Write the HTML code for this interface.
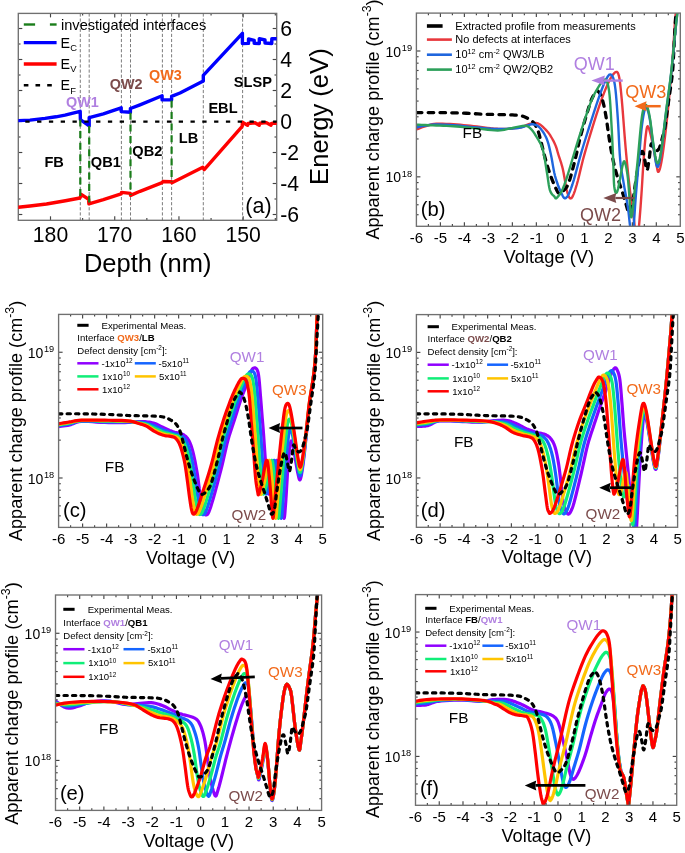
<!DOCTYPE html>
<html><head><meta charset="utf-8"><style>
html,body{margin:0;padding:0;background:#fff;}
svg{display:block;font-family:"Liberation Sans",sans-serif;will-change:transform;filter:blur(0.35px);}
</style></head><body>
<svg width="685" height="853" viewBox="0 0 685 853">
<rect width="685" height="853" fill="#fff"/>
<line x1="275.31" y1="220.30" x2="275.31" y2="218.10" stroke="#444" stroke-width="1.15" />
<line x1="275.31" y1="13.40" x2="275.31" y2="15.60" stroke="#444" stroke-width="1.15" />
<line x1="243.19" y1="220.30" x2="243.19" y2="216.30" stroke="#444" stroke-width="1.15" />
<line x1="243.19" y1="13.40" x2="243.19" y2="17.40" stroke="#444" stroke-width="1.15" />
<line x1="211.07" y1="220.30" x2="211.07" y2="218.10" stroke="#444" stroke-width="1.15" />
<line x1="211.07" y1="13.40" x2="211.07" y2="15.60" stroke="#444" stroke-width="1.15" />
<line x1="178.96" y1="220.30" x2="178.96" y2="216.30" stroke="#444" stroke-width="1.15" />
<line x1="178.96" y1="13.40" x2="178.96" y2="17.40" stroke="#444" stroke-width="1.15" />
<line x1="146.84" y1="220.30" x2="146.84" y2="218.10" stroke="#444" stroke-width="1.15" />
<line x1="146.84" y1="13.40" x2="146.84" y2="15.60" stroke="#444" stroke-width="1.15" />
<line x1="114.73" y1="220.30" x2="114.73" y2="216.30" stroke="#444" stroke-width="1.15" />
<line x1="114.73" y1="13.40" x2="114.73" y2="17.40" stroke="#444" stroke-width="1.15" />
<line x1="82.62" y1="220.30" x2="82.62" y2="218.10" stroke="#444" stroke-width="1.15" />
<line x1="82.62" y1="13.40" x2="82.62" y2="15.60" stroke="#444" stroke-width="1.15" />
<line x1="50.50" y1="220.30" x2="50.50" y2="216.30" stroke="#444" stroke-width="1.15" />
<line x1="50.50" y1="13.40" x2="50.50" y2="17.40" stroke="#444" stroke-width="1.15" />
<line x1="18.30" y1="214.50" x2="22.30" y2="214.50" stroke="#444" stroke-width="1.15" />
<line x1="276.70" y1="214.50" x2="272.70" y2="214.50" stroke="#444" stroke-width="1.15" />
<line x1="18.30" y1="199.00" x2="20.50" y2="199.00" stroke="#444" stroke-width="1.15" />
<line x1="276.70" y1="199.00" x2="274.50" y2="199.00" stroke="#444" stroke-width="1.15" />
<line x1="18.30" y1="183.50" x2="22.30" y2="183.50" stroke="#444" stroke-width="1.15" />
<line x1="276.70" y1="183.50" x2="272.70" y2="183.50" stroke="#444" stroke-width="1.15" />
<line x1="18.30" y1="168.00" x2="20.50" y2="168.00" stroke="#444" stroke-width="1.15" />
<line x1="276.70" y1="168.00" x2="274.50" y2="168.00" stroke="#444" stroke-width="1.15" />
<line x1="18.30" y1="152.50" x2="22.30" y2="152.50" stroke="#444" stroke-width="1.15" />
<line x1="276.70" y1="152.50" x2="272.70" y2="152.50" stroke="#444" stroke-width="1.15" />
<line x1="18.30" y1="137.00" x2="20.50" y2="137.00" stroke="#444" stroke-width="1.15" />
<line x1="276.70" y1="137.00" x2="274.50" y2="137.00" stroke="#444" stroke-width="1.15" />
<line x1="18.30" y1="121.50" x2="22.30" y2="121.50" stroke="#444" stroke-width="1.15" />
<line x1="276.70" y1="121.50" x2="272.70" y2="121.50" stroke="#444" stroke-width="1.15" />
<line x1="18.30" y1="106.00" x2="20.50" y2="106.00" stroke="#444" stroke-width="1.15" />
<line x1="276.70" y1="106.00" x2="274.50" y2="106.00" stroke="#444" stroke-width="1.15" />
<line x1="18.30" y1="90.50" x2="22.30" y2="90.50" stroke="#444" stroke-width="1.15" />
<line x1="276.70" y1="90.50" x2="272.70" y2="90.50" stroke="#444" stroke-width="1.15" />
<line x1="18.30" y1="75.00" x2="20.50" y2="75.00" stroke="#444" stroke-width="1.15" />
<line x1="276.70" y1="75.00" x2="274.50" y2="75.00" stroke="#444" stroke-width="1.15" />
<line x1="18.30" y1="59.50" x2="22.30" y2="59.50" stroke="#444" stroke-width="1.15" />
<line x1="276.70" y1="59.50" x2="272.70" y2="59.50" stroke="#444" stroke-width="1.15" />
<line x1="18.30" y1="44.00" x2="20.50" y2="44.00" stroke="#444" stroke-width="1.15" />
<line x1="276.70" y1="44.00" x2="274.50" y2="44.00" stroke="#444" stroke-width="1.15" />
<line x1="18.30" y1="28.50" x2="22.30" y2="28.50" stroke="#444" stroke-width="1.15" />
<line x1="276.70" y1="28.50" x2="272.70" y2="28.50" stroke="#444" stroke-width="1.15" />
<rect x="18.3" y="13.4" width="258.40" height="206.90" fill="none" stroke="#707070" stroke-width="1.35"/>
<text x="50.50" y="242.40" font-size="21.2" text-anchor="middle" fill="#000" >180</text>
<text x="114.73" y="242.40" font-size="21.2" text-anchor="middle" fill="#000" >170</text>
<text x="178.96" y="242.40" font-size="21.2" text-anchor="middle" fill="#000" >160</text>
<text x="243.19" y="242.40" font-size="21.2" text-anchor="middle" fill="#000" >150</text>
<text x="280.30" y="36.10" font-size="21.2" text-anchor="start" fill="#000" >6</text>
<text x="280.30" y="67.10" font-size="21.2" text-anchor="start" fill="#000" >4</text>
<text x="280.30" y="98.10" font-size="21.2" text-anchor="start" fill="#000" >2</text>
<text x="280.30" y="129.10" font-size="21.2" text-anchor="start" fill="#000" >0</text>
<text x="280.30" y="160.10" font-size="21.2" text-anchor="start" fill="#000" >-2</text>
<text x="280.30" y="191.10" font-size="21.2" text-anchor="start" fill="#000" >-4</text>
<text x="280.30" y="222.10" font-size="21.2" text-anchor="start" fill="#000" >-6</text>
<text x="147.70" y="272.00" font-size="25.5" text-anchor="middle" fill="#000" >Depth (nm)</text>
<text transform="translate(327.8,116.6) rotate(-90)" x="0" y="0" font-size="25.6" text-anchor="middle">Energy (eV)</text>
<line x1="80.30" y1="13.40" x2="80.30" y2="220.30" stroke="#666" stroke-width="0.85" stroke-dasharray="3.2 1.9"/>
<line x1="89.20" y1="13.40" x2="89.20" y2="220.30" stroke="#666" stroke-width="0.85" stroke-dasharray="3.2 1.9"/>
<line x1="121.40" y1="13.40" x2="121.40" y2="220.30" stroke="#666" stroke-width="0.85" stroke-dasharray="3.2 1.9"/>
<line x1="130.50" y1="13.40" x2="130.50" y2="220.30" stroke="#666" stroke-width="0.85" stroke-dasharray="3.2 1.9"/>
<line x1="162.40" y1="13.40" x2="162.40" y2="220.30" stroke="#666" stroke-width="0.85" stroke-dasharray="3.2 1.9"/>
<line x1="171.60" y1="13.40" x2="171.60" y2="220.30" stroke="#666" stroke-width="0.85" stroke-dasharray="3.2 1.9"/>
<line x1="203.30" y1="13.40" x2="203.30" y2="220.30" stroke="#666" stroke-width="0.85" stroke-dasharray="3.2 1.9"/>
<line x1="242.60" y1="13.40" x2="242.60" y2="220.30" stroke="#666" stroke-width="0.85" stroke-dasharray="3.2 1.9"/>
<clipPath id="clipa"><rect x="18.3" y="13.4" width="258.4" height="206.9"/></clipPath>
<polyline points="18.30,120.60 30.00,120.10 45.00,118.40 56.00,116.80 65.00,115.20 72.00,113.40 80.20,111.30 80.40,119.60 89.20,126.00 89.20,117.60 103.40,113.80 110.00,111.60 121.20,107.80 121.20,111.60 130.40,112.30 130.40,108.50 140.00,104.80 162.10,95.80 162.10,99.90 171.60,99.90 171.60,96.40 180.00,93.00 203.30,80.90 203.30,75.30 242.40,33.30 242.40,43.60 248.50,43.40 248.50,38.90 254.20,40.30 254.20,43.20 259.30,43.50 259.30,38.60 265.00,40.00 265.00,43.00 271.80,43.50 271.80,38.70 276.70,38.70" fill="none" stroke="#0000ff" stroke-width="3.4" stroke-linejoin="round" stroke-linecap="round" clip-path="url(#clipa)" stroke-linecap="butt" stroke-linejoin="miter"/>
<polyline points="18.30,207.20 30.00,206.00 46.50,204.00 65.40,200.80 80.00,198.00 81.20,194.40 88.60,199.20 88.90,203.80 103.40,199.60 121.10,193.90 121.60,192.40 130.30,193.40 130.60,195.40 140.00,191.30 162.20,182.60 163.00,181.50 171.40,181.80 172.00,182.80 202.80,167.30 204.20,169.60 242.20,126.30 242.40,122.30 247.50,125.30 248.20,123.50 255.00,122.80 259.20,125.30 259.80,123.30 266.00,122.60 271.00,125.20 271.60,123.40 276.70,123.20" fill="none" stroke="#ff0000" stroke-width="3.4" stroke-linejoin="round" stroke-linecap="round" clip-path="url(#clipa)" stroke-linecap="butt" stroke-linejoin="miter"/>
<line x1="80.30" y1="119.50" x2="80.30" y2="196.50" stroke="#1a7d1a" stroke-width="2.2" stroke-dasharray="7 4.6"/>
<line x1="89.20" y1="126.00" x2="89.20" y2="204.00" stroke="#1a7d1a" stroke-width="2.2" stroke-dasharray="7 4.6"/>
<line x1="130.50" y1="112.80" x2="130.50" y2="195.00" stroke="#1a7d1a" stroke-width="2.2" stroke-dasharray="7 4.6"/>
<line x1="171.60" y1="100.40" x2="171.60" y2="182.00" stroke="#1a7d1a" stroke-width="2.2" stroke-dasharray="7 4.6"/>
<line x1="25.30" y1="121.60" x2="276.70" y2="121.60" stroke="#000" stroke-width="2.2" stroke-dasharray="4.3 7.5"/>
<line x1="23.80" y1="24.50" x2="35.10" y2="24.50" stroke="#1a7d1a" stroke-width="2.4" />
<line x1="49.90" y1="24.50" x2="56.60" y2="24.50" stroke="#1a7d1a" stroke-width="2.4" />
<line x1="23.80" y1="42.60" x2="56.60" y2="42.60" stroke="#0000ff" stroke-width="3.3" />
<line x1="23.80" y1="64.00" x2="56.60" y2="64.00" stroke="#ff0000" stroke-width="3.3" />
<line x1="23.80" y1="85.25" x2="56.60" y2="85.25" stroke="#000" stroke-width="2.6" stroke-dasharray="4.6 7.1"/>
<text x="61.00" y="29.90" font-size="14.6" text-anchor="start" fill="#000" >investigated interfaces</text>
<text x="60.6" y="47.6" font-size="14.3">E<tspan font-size="9.4" dy="3.7">C</tspan></text>
<text x="60.6" y="68.7" font-size="14.3">E<tspan font-size="9.4" dy="3.7">V</tspan></text>
<text x="60.6" y="89.9" font-size="14.3">E<tspan font-size="9.4" dy="3.7">F</tspan></text>
<text x="66.00" y="106.70" font-size="14.4" text-anchor="start" fill="#b07fe0" font-weight="bold" >QW1</text>
<text x="109.80" y="88.60" font-size="14.4" text-anchor="start" fill="#7b4b4b" font-weight="bold" >QW2</text>
<text x="149.00" y="80.40" font-size="14.4" text-anchor="start" fill="#f26a1b" font-weight="bold" >QW3</text>
<text x="44.40" y="167.30" font-size="14.6" text-anchor="start" fill="#000" font-weight="bold" >FB</text>
<text x="90.80" y="167.30" font-size="14.6" text-anchor="start" fill="#000" font-weight="bold" >QB1</text>
<text x="132.30" y="156.30" font-size="14.6" text-anchor="start" fill="#000" font-weight="bold" >QB2</text>
<text x="178.80" y="142.90" font-size="14.6" text-anchor="start" fill="#000" font-weight="bold" >LB</text>
<text x="208.40" y="112.90" font-size="14.6" text-anchor="start" fill="#000" font-weight="bold" >EBL</text>
<text x="233.80" y="87.10" font-size="14.6" text-anchor="start" fill="#000" font-weight="bold" >SLSP</text>
<text x="245.30" y="213.00" font-size="21.5" text-anchor="start" fill="#000" >(a)</text>
<defs>
<clipPath id="clipb"><rect x="416.40" y="13.10" width="263.90" height="213.20"/></clipPath>
<clipPath id="clipc"><rect x="58.60" y="314.40" width="264.10" height="213.00"/></clipPath>
<clipPath id="clipd"><rect x="416.40" y="314.60" width="261.20" height="212.70"/></clipPath>
<clipPath id="clipe"><rect x="55.50" y="595.00" width="266.10" height="215.40"/></clipPath>
<clipPath id="clipf"><rect x="415.50" y="594.60" width="261.20" height="210.70"/></clipPath>
</defs>
<polyline points="416.40,129.50 417.44,129.11 418.86,128.55 420.55,127.89 422.39,127.21 424.24,126.55 426.00,126.00 427.57,125.51 429.03,125.03 430.52,124.58 432.16,124.19 434.07,123.89 436.40,123.70 439.24,123.64 442.50,123.69 446.04,123.83 449.72,124.03 453.39,124.26 456.90,124.50 460.27,124.76 463.61,125.07 466.94,125.41 470.27,125.77 473.62,126.14 477.00,126.50 480.42,126.90 483.86,127.37 487.32,127.84 490.79,128.27 494.25,128.60 497.70,128.80 501.22,128.86 504.85,128.83 508.48,128.70 511.98,128.49 515.26,128.18 518.20,127.80 520.77,127.25 523.06,126.51 525.13,125.69 527.01,124.88 528.79,124.18 530.50,123.70 532.09,123.38 533.51,123.13 534.81,122.99 536.05,123.01 537.29,123.24 538.60,123.70 540.00,124.49 541.46,125.59 542.91,126.89 544.32,128.28 545.63,129.65 546.80,130.90 547.79,132.02 548.65,133.09 549.41,134.14 550.11,135.21 550.79,136.32 551.50,137.50 552.23,138.75 552.96,140.04 553.66,141.38 554.34,142.75 554.99,144.16 555.60,145.60 556.14,147.04 556.60,148.47 557.04,149.93 557.47,151.48 557.95,153.15 558.50,155.00 559.13,156.96 559.82,158.98 560.55,161.13 561.30,163.47 562.06,166.08 562.80,169.00 563.54,172.55 564.30,176.73 565.06,181.16 565.82,185.49 566.57,189.32 567.30,192.30 567.99,194.50 568.65,196.25 569.29,197.51 569.95,198.25 570.65,198.46 571.40,198.10 572.20,197.16 573.01,195.65 573.86,193.61 574.77,191.05 575.74,188.00 576.80,184.50 577.90,180.49 579.03,175.94 580.23,170.90 581.54,165.43 583.02,159.58 584.70,153.40 586.69,146.50 588.99,138.76 591.44,130.64 593.91,122.60 596.28,115.10 598.40,108.60 600.28,103.09 602.04,98.18 603.68,93.82 605.23,89.93 606.70,86.45 608.10,83.30 609.43,80.51 610.69,78.14 611.86,76.18 612.96,74.61 613.97,73.42 614.90,72.60 615.73,72.07 616.45,71.83 617.09,71.97 617.68,72.59 618.24,73.77 618.80,75.60 619.33,78.02 619.80,80.93 620.25,84.40 620.70,88.51 621.17,93.32 621.70,98.90 622.29,105.65 622.93,113.58 623.59,122.22 624.26,131.07 624.94,139.66 625.60,147.50 626.25,154.67 626.90,161.58 627.55,168.22 628.20,174.59 628.85,180.68 629.50,186.50 630.17,192.07 630.87,197.40 631.56,202.46 632.23,207.21 632.85,211.60 633.40,215.60 633.86,219.19 634.24,222.39 634.58,225.24 634.89,227.77 635.19,230.02 635.50,232.00 635.82,233.81 636.13,235.44 636.43,236.78 636.72,237.72 637.01,238.16 637.30,238.00 637.58,237.26 637.85,236.04 638.11,234.31 638.39,232.07 638.68,229.31 639.00,226.00 639.36,221.98 639.76,217.22 640.17,211.94 640.59,206.33 641.00,200.62 641.40,195.00 641.78,189.28 642.15,183.26 642.51,177.12 642.87,171.07 643.24,165.30 643.60,160.00 643.97,155.06 644.33,150.32 644.70,145.85 645.07,141.75 645.43,138.10 645.80,135.00 646.14,132.34 646.46,130.04 646.77,128.19 647.12,126.90 647.52,126.27 648.00,126.40 648.59,127.48 649.27,129.49 650.00,132.14 650.76,135.20 651.50,138.41 652.20,141.50 652.87,144.70 653.54,148.26 654.21,151.96 654.84,155.60 655.45,158.95 656.00,161.80 656.48,164.37 656.88,166.86 657.25,169.07 657.62,170.79 658.02,171.80 658.50,171.90 659.04,171.12 659.63,169.64 660.24,167.46 660.90,164.58 661.58,160.99 662.30,156.70 663.06,151.59 663.87,145.63 664.72,138.97 665.58,131.76 666.45,124.12 667.30,116.20 668.17,107.60 669.09,98.13 670.01,88.24 670.89,78.39 671.70,69.02 672.40,60.60 672.98,52.95 673.47,45.69 673.89,38.91 674.25,32.73 674.58,27.26 674.90,22.60 675.20,18.88 675.47,16.05 675.71,13.93 675.91,12.33 676.07,11.08 676.20,10.00" fill="none" stroke="#e8383d" stroke-width="2.4" stroke-linejoin="round" stroke-linecap="round" clip-path="url(#clipb)"/>
<polyline points="416.40,112.59 418.87,112.59 422.29,112.57 426.34,112.56 430.71,112.56 435.09,112.56 439.18,112.59 443.03,112.64 446.90,112.70 450.79,112.77 454.68,112.86 458.57,112.96 462.47,113.09 466.35,113.26 470.23,113.47 474.11,113.69 478.01,113.92 481.91,114.13 485.85,114.29 489.96,114.41 494.27,114.50 498.60,114.56 502.76,114.62 506.57,114.69 509.83,114.80 512.48,114.91 514.66,115.03 516.49,115.15 518.07,115.31 519.55,115.52 521.02,115.80 522.44,116.14 523.71,116.55 524.86,117.00 525.94,117.49 526.97,118.03 528.02,118.60 529.06,119.18 530.07,119.77 531.04,120.39 531.97,121.09 532.86,121.88 533.71,122.80 534.51,123.86 535.27,125.03 535.99,126.30 536.67,127.65 537.31,129.06 537.91,130.51 538.44,131.95 538.89,133.39 539.31,134.90 539.72,136.52 540.17,138.34 540.71,140.42 541.32,142.85 542.00,145.61 542.72,148.56 543.45,151.57 544.19,154.51 544.90,157.24 545.60,159.78 546.30,162.25 547.00,164.64 547.70,166.96 548.40,169.20 549.10,171.35 549.80,173.41 550.49,175.37 551.19,177.26 551.89,179.08 552.59,180.84 553.30,182.56 554.03,184.30 554.80,186.07 555.58,187.78 556.32,189.35 557.00,190.71 557.59,191.77 558.05,192.49 558.40,192.94 558.69,193.18 558.97,193.25 559.29,193.23 559.69,193.17 560.17,193.10 560.68,192.97 561.22,192.74 561.82,192.37 562.47,191.83 563.19,191.07 563.98,190.21 564.85,189.33 565.77,188.26 566.75,186.88 567.75,185.02 568.78,182.56 569.89,179.23 571.09,175.11 572.32,170.52 573.53,165.79 574.67,161.25 575.68,157.24 576.51,153.83 577.19,150.78 577.80,147.93 578.40,145.10 579.07,142.12 579.88,138.82 580.85,135.08 581.93,131.02 583.09,126.81 584.26,122.62 585.40,118.62 586.47,115.00 587.47,111.67 588.44,108.49 589.39,105.51 590.31,102.77 591.20,100.31 592.07,98.18 592.95,96.42 593.84,95.00 594.71,93.86 595.51,92.95 596.21,92.20 596.76,91.57 597.11,91.09 597.27,90.81 597.33,90.70 597.36,90.73 597.45,90.87 597.66,91.07 598.02,91.34 598.45,91.70 598.94,92.16 599.46,92.75 599.97,93.48 600.46,94.38 600.93,95.43 601.39,96.62 601.86,97.96 602.33,99.45 602.79,101.09 603.26,102.88 603.73,104.86 604.20,107.00 604.67,109.30 605.14,111.73 605.60,114.27 606.06,116.90 606.50,119.69 606.94,122.70 607.38,125.81 607.81,128.93 608.24,131.96 608.65,134.81 609.06,137.45 609.44,139.94 609.82,142.35 610.20,144.73 610.61,147.14 611.05,149.63 611.53,152.22 612.02,154.86 612.54,157.54 613.08,160.21 613.65,162.85 614.25,165.44 614.89,167.99 615.57,170.53 616.29,173.04 617.01,175.51 617.74,177.92 618.45,180.26 619.16,182.52 619.88,184.73 620.61,186.88 621.32,188.97 622.00,191.00 622.64,192.97 623.23,194.86 623.78,196.67 624.30,198.42 624.81,200.13 625.32,201.81 625.84,203.48 626.38,205.29 626.91,207.27 627.45,209.22 627.98,210.95 628.51,212.27 629.04,212.99 629.57,213.08 630.12,212.71 630.66,211.92 631.18,210.78 631.68,209.35 632.14,207.68 632.53,205.72 632.87,203.39 633.18,200.76 633.49,197.92 633.83,194.93 634.23,191.87 634.70,188.59 635.22,185.02 635.77,181.31 636.33,177.59 636.89,174.02 637.43,170.75 637.98,167.66 638.54,164.62 639.10,161.72 639.65,159.07 640.16,156.78 640.63,154.93 641.04,153.53 641.41,152.50 641.75,151.81 642.07,151.46 642.39,151.44 642.73,151.73 643.08,152.45 643.43,153.64 643.78,155.16 644.13,156.86 644.48,158.60 644.83,160.24 645.18,162.05 645.53,164.20 645.88,166.40 646.23,168.34 646.58,169.72 646.93,170.25 647.28,169.81 647.62,168.61 647.97,166.86 648.32,164.75 648.67,162.48 649.02,160.24 649.37,157.71 649.72,154.66 650.07,151.45 650.42,148.43 650.77,145.94 651.12,144.32 651.46,143.75 651.78,143.97 652.10,144.73 652.44,145.75 652.81,146.77 653.22,147.53 653.69,148.13 654.20,148.83 654.75,149.53 655.31,150.14 655.87,150.57 656.42,150.73 656.95,150.65 657.49,150.41 658.03,149.98 658.56,149.37 659.09,148.56 659.62,147.53 660.14,146.18 660.66,144.51 661.18,142.63 661.68,140.68 662.16,138.77 662.61,137.02 663.02,135.51 663.40,134.17 663.76,132.87 664.10,131.49 664.45,129.91 664.81,128.01 665.20,125.66 665.60,122.94 666.00,120.03 666.40,117.08 666.77,114.28 667.11,111.79 667.38,109.84 667.59,108.32 667.77,106.94 667.98,105.42 668.24,103.47 668.61,100.78 669.12,97.20 669.76,92.91 670.46,88.18 671.16,83.29 671.79,78.49 672.31,74.06 672.68,70.06 672.96,66.29 673.19,62.62 673.38,58.91 673.57,55.03 673.80,50.84 674.08,46.03 674.37,40.67 674.66,35.13 674.94,29.80 675.19,25.07 675.40,21.31 675.57,18.61 675.70,16.69 675.80,15.36 675.88,14.44 675.95,13.75 676.00,13.10" fill="none" stroke="#000" stroke-width="3.3" stroke-linejoin="round" stroke-linecap="round" stroke-dasharray="5.5 6.3" clip-path="url(#clipb)"/>
<polyline points="416.40,127.50 417.44,127.27 418.86,126.94 420.55,126.56 422.39,126.17 424.24,125.80 426.00,125.50 427.57,125.25 429.03,125.02 430.52,124.81 432.16,124.65 434.07,124.54 436.40,124.50 439.24,124.54 442.50,124.65 446.04,124.81 449.72,125.02 453.39,125.25 456.90,125.50 460.27,125.78 463.61,126.11 466.94,126.47 470.27,126.83 473.62,127.18 477.00,127.50 480.42,127.81 483.86,128.13 487.32,128.44 490.79,128.70 494.25,128.90 497.70,129.00 501.26,129.00 504.98,128.91 508.69,128.75 512.24,128.54 515.46,128.28 518.20,128.00 520.37,127.66 522.09,127.23 523.48,126.76 524.67,126.29 525.80,125.86 527.00,125.50 528.22,125.17 529.34,124.82 530.39,124.51 531.42,124.29 532.44,124.20 533.50,124.30 534.58,124.55 535.66,124.90 536.73,125.39 537.81,126.04 538.90,126.90 540.00,128.00 541.15,129.35 542.34,130.94 543.54,132.73 544.71,134.69 545.81,136.79 546.80,139.00 547.65,141.32 548.40,143.79 549.07,146.39 549.71,149.13 550.34,152.00 551.00,155.00 551.66,158.24 552.27,161.74 552.89,165.37 553.53,169.01 554.22,172.53 555.00,175.80 555.90,178.92 556.90,182.01 557.95,184.99 559.01,187.75 560.05,190.22 561.00,192.30 561.85,194.11 562.62,195.74 563.36,197.08 564.11,198.00 564.91,198.38 565.80,198.10 566.75,197.23 567.73,195.87 568.75,193.97 569.85,191.49 571.06,188.35 572.40,184.50 573.85,179.82 575.39,174.33 577.04,168.19 578.81,161.56 580.72,154.61 582.80,147.50 585.19,139.73 587.91,131.08 590.77,122.10 593.59,113.37 596.20,105.44 598.40,98.90 600.17,93.81 601.66,89.73 602.92,86.47 604.03,83.81 605.07,81.56 606.10,79.50 607.09,77.66 607.98,76.21 608.79,75.17 609.54,74.54 610.27,74.35 611.00,74.60 611.72,75.22 612.41,76.18 613.08,77.57 613.71,79.50 614.32,82.04 614.90,85.30 615.45,89.42 615.96,94.36 616.44,99.92 616.91,105.91 617.36,112.13 617.80,118.40 618.22,125.05 618.60,132.31 618.96,139.81 619.34,147.17 619.74,154.02 620.20,160.00 620.71,164.95 621.26,169.15 621.84,172.84 622.45,176.28 623.07,179.72 623.70,183.40 624.37,187.33 625.09,191.31 625.83,195.29 626.54,199.21 627.21,203.03 627.80,206.70 628.29,210.30 628.72,213.87 629.10,217.35 629.44,220.64 629.77,223.65 630.10,226.30 630.42,228.71 630.71,230.99 630.98,232.98 631.25,234.57 631.52,235.62 631.80,236.00 632.09,235.76 632.37,235.00 632.66,233.71 632.96,231.85 633.27,229.39 633.60,226.30 633.95,222.38 634.30,217.60 634.68,212.23 635.06,206.51 635.47,200.68 635.90,195.00 636.36,189.38 636.84,183.61 637.35,177.73 637.87,171.80 638.39,165.88 638.90,160.00 639.40,153.97 639.90,147.69 640.40,141.41 640.91,135.38 641.44,129.83 642.00,125.00 642.59,120.73 643.21,116.80 643.86,113.35 644.51,110.53 645.16,108.50 645.80,107.40 646.43,107.33 647.07,108.20 647.70,109.85 648.33,112.13 648.97,114.90 649.60,118.00 650.23,121.74 650.87,126.31 651.50,131.36 652.13,136.56 652.77,141.55 653.40,146.00 654.03,150.28 654.67,154.75 655.30,159.01 655.93,162.70 656.57,165.42 657.20,166.80 657.82,166.82 658.42,165.77 659.02,163.76 659.64,160.90 660.29,157.27 661.00,153.00 661.78,147.71 662.61,141.24 663.48,134.01 664.36,126.45 665.24,118.97 666.10,112.00 666.95,105.49 667.82,99.11 668.68,92.81 669.53,86.56 670.34,80.30 671.10,74.00 671.82,67.50 672.50,60.80 673.16,54.09 673.77,47.59 674.36,41.49 674.90,36.00 675.42,30.97 675.92,26.22 676.39,21.88 676.80,18.06 677.14,14.89 677.40,12.50" fill="none" stroke="#1f66dd" stroke-width="2.4" stroke-linejoin="round" stroke-linecap="round" clip-path="url(#clipb)"/>
<polyline points="416.40,124.70 418.57,124.78 421.57,124.90 425.12,125.04 428.96,125.19 432.81,125.35 436.40,125.50 439.79,125.64 443.21,125.78 446.64,125.92 450.08,126.09 453.50,126.27 456.90,126.50 460.27,126.78 463.61,127.09 466.94,127.44 470.27,127.80 473.62,128.16 477.00,128.50 480.51,128.88 484.17,129.31 487.84,129.75 491.40,130.13 494.73,130.40 497.70,130.50 500.21,130.41 502.35,130.16 504.25,129.79 506.06,129.37 507.93,128.92 510.00,128.50 512.36,128.03 514.92,127.45 517.53,126.86 520.06,126.33 522.36,125.95 524.30,125.80 525.80,125.87 526.97,126.09 527.91,126.45 528.74,126.97 529.57,127.65 530.50,128.50 531.52,129.54 532.54,130.76 533.56,132.15 534.57,133.67 535.58,135.30 536.60,137.00 537.64,138.71 538.71,140.44 539.78,142.28 540.81,144.31 541.80,146.62 542.70,149.30 543.51,152.50 544.25,156.17 544.94,160.12 545.58,164.16 546.20,168.08 546.80,171.70 547.36,175.14 547.86,178.58 548.34,181.91 548.81,185.02 549.33,187.79 549.90,190.10 550.56,191.90 551.30,193.25 552.07,194.27 552.83,195.05 553.56,195.69 554.20,196.30 554.70,196.97 555.07,197.63 555.40,198.16 555.77,198.41 556.28,198.27 557.00,197.60 557.90,196.64 558.90,195.54 560.03,194.05 561.31,191.89 562.80,188.79 564.50,184.50 566.53,178.53 568.89,170.99 571.44,162.52 574.04,153.74 576.58,145.30 578.90,137.80 581.05,131.07 583.14,124.55 585.16,118.36 587.09,112.60 588.91,107.38 590.60,102.80 592.14,98.99 593.53,95.87 594.81,93.29 596.02,91.10 597.20,89.12 598.40,87.20 599.62,85.24 600.85,83.33 602.04,81.65 603.19,80.34 604.25,79.58 605.20,79.50 606.04,80.06 606.77,81.11 607.42,82.70 608.02,84.87 608.57,87.65 609.10,91.10 609.59,95.45 610.04,100.71 610.44,106.59 610.81,112.79 611.16,119.03 611.50,125.00 611.83,130.86 612.14,136.89 612.43,142.94 612.70,148.89 612.96,154.62 613.20,160.00 613.40,165.21 613.54,170.39 613.67,175.35 613.81,179.89 614.01,183.80 614.30,186.90 614.66,189.31 615.08,191.21 615.54,192.49 616.07,193.04 616.65,192.74 617.30,191.50 618.07,188.71 618.97,184.36 619.94,179.16 620.89,173.84 621.77,169.15 622.50,165.80 623.06,163.72 623.49,162.30 623.84,161.49 624.17,161.26 624.50,161.54 624.90,162.30 625.36,163.59 625.85,165.46 626.36,167.86 626.86,170.70 627.35,173.94 627.80,177.50 628.23,181.77 628.65,186.89 629.06,192.39 629.44,197.83 629.79,202.75 630.10,206.70 630.36,209.78 630.56,212.36 630.74,214.43 630.90,215.95 631.08,216.88 631.30,217.20 631.54,216.88 631.79,215.95 632.04,214.43 632.33,212.36 632.64,209.78 633.00,206.70 633.43,202.78 633.92,197.92 634.44,192.54 634.97,187.06 635.47,181.91 635.90,177.50 636.23,174.21 636.49,171.77 636.71,169.66 636.96,167.35 637.27,164.30 637.70,160.00 638.28,153.85 638.97,146.14 639.73,137.71 640.51,129.37 641.28,121.92 642.00,116.20 642.66,112.17 643.30,109.19 643.93,107.11 644.55,105.79 645.17,105.10 645.80,104.90 646.43,105.28 647.07,106.38 647.70,108.10 648.33,110.37 648.97,113.09 649.60,116.20 650.23,119.99 650.87,124.60 651.50,129.68 652.13,134.85 652.77,139.78 653.40,144.10 654.03,148.12 654.67,152.19 655.30,156.00 655.93,159.27 656.57,161.70 657.20,163.00 657.82,163.20 658.42,162.55 659.02,161.06 659.64,158.75 660.29,155.62 661.00,151.70 661.78,146.61 662.61,140.27 663.48,133.12 664.36,125.60 665.24,118.14 666.10,111.20 666.95,104.72 667.82,98.34 668.68,92.04 669.53,85.77 670.34,79.50 671.10,73.20 671.82,66.70 672.50,60.00 673.16,53.30 673.77,46.81 674.36,40.74 674.90,35.30 675.42,30.36 675.92,25.74 676.39,21.53 676.80,17.85 677.14,14.81 677.40,12.50" fill="none" stroke="#2ca05a" stroke-width="2.4" stroke-linejoin="round" stroke-linecap="round" clip-path="url(#clipb)"/>
<line x1="426.90" y1="26.00" x2="442.60" y2="26.00" stroke="#000" stroke-width="3.6" />
<line x1="426.90" y1="39.60" x2="451.90" y2="39.60" stroke="#e8383d" stroke-width="2.6" />
<line x1="426.90" y1="54.70" x2="451.90" y2="54.70" stroke="#1f66dd" stroke-width="2.6" />
<line x1="426.90" y1="69.60" x2="451.90" y2="69.60" stroke="#2ca05a" stroke-width="2.6" />
<text x="455.30" y="29.50" font-size="11" text-anchor="start" fill="#000" >Extracted profile from measurements</text>
<text x="455.30" y="43.30" font-size="11" text-anchor="start" fill="#000" >No defects at interfaces</text>
<text x="455.3" y="57.9" font-size="11">10<tspan font-size="7.3" dy="-4.3">12</tspan><tspan dy="4.3"> cm</tspan><tspan font-size="7.3" dy="-4.3">-2</tspan><tspan dy="4.3"> QW3/LB</tspan></text>
<text x="455.3" y="73.4" font-size="11">10<tspan font-size="7.3" dy="-4.3">12</tspan><tspan dy="4.3"> cm</tspan><tspan font-size="7.3" dy="-4.3">-2</tspan><tspan dy="4.3"> QW2/QB2</tspan></text>
<text x="573.80" y="69.80" font-size="18" text-anchor="start" fill="#b07fe0" >QW1</text>
<text x="625.20" y="97.50" font-size="18" text-anchor="start" fill="#f26a1b" >QW3</text>
<text x="580.00" y="220.50" font-size="18" text-anchor="start" fill="#7b4b4b" >QW2</text>
<text x="462.60" y="137.60" font-size="15.3" text-anchor="start" fill="#000" >FB</text>
<line x1="622.70" y1="80.60" x2="603.90" y2="80.60" stroke="#b07fe0" stroke-width="2.4" />
<polygon points="591.40,80.60 604.90,75.60 603.70,80.60 604.90,85.60" fill="#b07fe0"/>
<line x1="660.70" y1="106.20" x2="645.60" y2="106.20" stroke="#f26a1b" stroke-width="2.5" />
<polygon points="634.60,106.20 646.60,101.20 645.40,106.20 646.60,111.20" fill="#f26a1b"/>
<line x1="634.40" y1="198.00" x2="615.30" y2="198.00" stroke="#7b4b4b" stroke-width="2.2" />
<polygon points="603.30,198.00 616.30,193.00 615.10,198.00 616.30,203.00" fill="#7b4b4b"/>
<polyline points="58.60,426.60 59.80,426.44 61.46,426.23 63.42,425.97 65.54,425.66 67.69,425.31 69.70,424.90 71.48,424.37 73.13,423.70 74.79,422.98 76.62,422.29 78.77,421.74 81.40,421.40 84.61,421.33 88.30,421.47 92.32,421.73 96.50,422.04 100.68,422.33 104.70,422.50 108.75,422.57 112.99,422.61 117.24,422.63 121.30,422.61 124.98,422.56 128.10,422.50 130.55,422.39 132.46,422.23 133.99,422.04 135.31,421.85 136.59,421.70 138.00,421.60 139.49,421.55 140.91,421.53 142.29,421.54 143.65,421.58 145.01,421.67 146.40,421.80 147.81,421.97 149.23,422.17 150.65,422.41 152.07,422.71 153.49,423.07 154.90,423.50 156.29,424.03 157.66,424.66 159.02,425.34 160.40,426.07 161.82,426.80 163.30,427.50 164.85,428.20 166.46,428.94 168.11,429.68 169.77,430.40 171.44,431.08 173.10,431.70 174.79,432.22 176.55,432.63 178.31,433.01 180.01,433.41 181.60,433.89 183.00,434.50 184.20,435.21 185.24,435.95 186.16,436.77 187.00,437.71 187.80,438.80 188.60,440.10 189.38,441.54 190.10,443.08 190.78,444.78 191.44,446.70 192.11,448.88 192.80,451.40 193.53,454.37 194.28,457.76 195.04,461.42 195.77,465.21 196.47,468.95 197.10,472.50 197.64,475.86 198.09,479.17 198.51,482.44 198.92,485.69 199.37,488.93 199.90,492.20 200.54,495.68 201.25,499.39 202.00,503.11 202.75,506.59 203.46,509.59 204.10,511.90 204.64,513.44 205.13,514.40 205.57,514.89 206.00,515.02 206.43,514.92 206.90,514.70 207.38,514.37 207.84,513.84 208.31,513.08 208.81,512.04 209.37,510.69 210.00,509.00 210.70,506.96 211.45,504.59 212.26,501.91 213.11,498.94 214.03,495.70 215.00,492.20 216.06,488.31 217.22,483.99 218.44,479.39 219.67,474.68 220.87,470.00 222.00,465.50 223.05,461.12 224.06,456.71 225.04,452.33 226.01,448.05 226.99,443.92 228.00,440.00 229.04,436.36 230.10,432.95 231.17,429.69 232.24,426.51 233.32,423.30 234.40,420.00 235.49,416.52 236.61,412.91 237.73,409.29 238.83,405.76 239.90,402.42 240.90,399.40 241.83,396.77 242.70,394.45 243.53,392.34 244.34,390.30 245.16,388.23 246.00,386.00 246.89,383.48 247.81,380.74 248.74,377.96 249.63,375.33 250.47,373.01 251.20,371.20 251.82,369.94 252.34,369.10 252.80,368.59 253.23,368.30 253.65,368.13 254.10,368.00 254.58,367.90 255.07,367.90 255.56,368.03 256.04,368.31 256.49,368.76 256.90,369.40 257.27,370.15 257.60,370.96 257.91,371.95 258.21,373.20 258.50,374.82 258.80,376.90 259.11,379.61 259.42,382.91 259.73,386.57 260.03,390.38 260.32,394.09 260.60,397.50 260.86,400.60 261.10,403.58 261.32,406.47 261.55,409.32 261.77,412.15 262.00,415.00 262.23,417.79 262.46,420.48 262.69,423.16 262.92,425.91 263.16,428.83 263.40,432.00 263.65,435.46 263.90,439.15 264.16,443.00 264.43,446.96 264.71,450.98 265.00,455.00 265.31,459.18 265.65,463.59 265.99,468.06 266.34,472.41 266.68,476.45 267.00,480.00 267.28,483.27 267.53,486.43 267.78,489.28 268.03,491.63 268.33,493.27 268.70,494.00 269.13,493.68 269.60,492.45 270.11,490.51 270.67,488.07 271.26,485.33 271.90,482.50 272.62,478.97 273.43,474.44 274.28,469.62 275.13,465.20 275.92,461.86 276.60,460.30 277.17,460.75 277.67,462.69 278.11,465.72 278.52,469.42 278.91,473.39 279.30,477.20 279.68,481.17 280.03,485.70 280.36,490.48 280.69,495.24 281.03,499.67 281.40,503.50 281.82,506.96 282.27,510.33 282.74,513.37 283.20,515.87 283.62,517.59 284.00,518.30 284.32,517.79 284.59,516.20 284.83,513.82 285.06,510.97 285.27,507.93 285.50,505.00 285.73,502.05 285.95,498.83 286.17,495.42 286.38,491.91 286.59,488.41 286.80,485.00 287.00,481.61 287.20,478.15 287.39,474.69 287.58,471.30 287.78,468.04 288.00,465.00 288.24,462.12 288.50,459.33 288.76,456.69 289.03,454.22 289.28,451.98 289.50,450.00 289.70,448.31 289.87,446.89 290.04,445.69 290.19,444.67 290.34,443.78 290.50,443.00 290.65,442.31 290.78,441.74 290.91,441.31 291.05,441.04 291.21,440.93 291.40,441.00 291.62,441.19 291.85,441.48 292.10,441.94 292.37,442.63 292.67,443.63 293.00,445.00 293.36,446.88 293.77,449.22 294.19,451.88 294.63,454.67 295.07,457.43 295.50,460.00 295.92,462.49 296.34,465.05 296.77,467.59 297.19,469.99 297.60,472.16 298.00,474.00 298.38,475.65 298.73,477.24 299.08,478.59 299.43,479.54 299.80,479.93 300.20,479.60 300.63,478.48 301.08,476.69 301.55,474.34 302.03,471.53 302.51,468.38 303.00,465.00 303.48,461.30 303.96,457.18 304.45,452.71 304.95,447.98 305.46,443.05 306.00,438.00 306.56,432.68 307.14,426.99 307.74,421.11 308.35,415.20 308.97,409.44 309.60,404.00 310.27,398.85 310.97,393.84 311.69,388.97 312.39,384.26 313.04,379.70 313.60,375.30 314.07,371.19 314.48,367.39 314.83,363.75 315.14,360.10 315.43,356.27 315.70,352.10 315.95,347.30 316.16,341.94 316.35,336.41 316.51,331.09 316.66,326.36 316.80,322.60 316.92,319.91 317.03,317.99 317.12,316.66 317.19,315.74 317.25,315.05 317.30,314.40" fill="none" stroke="#9000ff" stroke-width="3.2" stroke-linejoin="round" stroke-linecap="round" clip-path="url(#clipc)"/>
<polyline points="58.60,425.70 59.80,425.53 61.46,425.30 63.42,425.02 65.54,424.70 67.69,424.35 69.70,423.97 71.48,423.51 73.13,422.94 74.79,422.34 76.62,421.78 78.77,421.32 81.40,421.03 84.61,420.95 88.30,421.03 92.32,421.21 96.50,421.44 100.68,421.65 104.70,421.79 108.75,421.85 112.99,421.89 117.24,421.92 121.30,421.93 124.98,421.95 128.10,421.97 130.55,421.99 132.46,422.00 133.99,422.00 135.31,422.01 136.59,422.05 138.00,422.13 139.49,422.22 140.91,422.33 142.29,422.46 143.65,422.63 145.01,422.85 146.40,423.13 147.81,423.50 149.23,423.93 150.65,424.41 152.07,424.93 153.49,425.48 154.90,426.04 156.29,426.63 157.67,427.27 159.04,427.94 160.43,428.61 161.84,429.27 163.30,429.89 164.83,430.48 166.41,431.06 168.02,431.63 169.63,432.18 171.22,432.71 172.75,433.22 174.26,433.65 175.77,434.01 177.26,434.34 178.69,434.71 180.03,435.18 181.25,435.80 182.33,436.54 183.28,437.32 184.14,438.21 184.95,439.23 185.72,440.44 186.50,441.87 187.26,443.50 187.99,445.29 188.68,447.27 189.36,449.44 190.03,451.82 190.70,454.44 191.38,457.37 192.07,460.62 192.75,464.08 193.41,467.65 194.04,471.22 194.62,474.67 195.15,478.07 195.61,481.50 196.04,484.93 196.47,488.32 196.92,491.63 197.43,494.80 198.00,498.00 198.62,501.27 199.27,504.45 199.92,507.39 200.54,509.93 201.10,511.90 201.59,513.26 202.04,514.13 202.45,514.60 202.86,514.76 203.28,514.69 203.72,514.48 204.18,514.17 204.63,513.67 205.09,512.95 205.59,511.96 206.14,510.66 206.77,509.00 207.49,506.97 208.25,504.60 209.08,501.93 209.97,498.95 210.92,495.70 211.92,492.20 213.04,488.31 214.26,483.99 215.54,479.39 216.84,474.68 218.10,470.00 219.28,465.50 220.36,461.12 221.39,456.73 222.38,452.37 223.36,448.09 224.35,443.95 225.38,440.00 226.43,436.28 227.49,432.77 228.56,429.40 229.64,426.09 230.73,422.79 231.82,419.41 232.95,415.89 234.11,412.26 235.28,408.64 236.43,405.12 237.53,401.81 238.58,398.81 239.54,396.19 240.44,393.87 241.31,391.77 242.14,389.78 242.97,387.81 243.80,385.78 244.65,383.60 245.51,381.32 246.37,379.07 247.18,376.97 247.94,375.13 248.62,373.68 249.21,372.66 249.71,371.99 250.15,371.59 250.56,371.38 250.97,371.27 251.40,371.19 251.86,371.14 252.33,371.17 252.79,371.31 253.24,371.57 253.68,372.00 254.07,372.59 254.44,373.30 254.77,374.08 255.08,375.01 255.38,376.18 255.67,377.65 255.98,379.50 256.29,381.84 256.60,384.62 256.91,387.70 257.22,390.97 257.51,394.28 257.80,397.50 258.07,400.68 258.33,403.94 258.58,407.24 258.83,410.57 259.07,413.88 259.32,417.17 259.58,420.36 259.83,423.46 260.09,426.56 260.34,429.74 260.60,433.07 260.88,436.65 261.15,440.56 261.43,444.76 261.72,449.12 262.01,453.51 262.31,457.81 262.62,461.88 262.96,465.85 263.31,469.83 263.66,473.72 264.02,477.40 264.36,480.76 264.68,483.69 264.94,486.33 265.16,488.80 265.37,490.94 265.59,492.63 265.85,493.71 266.20,494.03 266.62,493.50 267.09,492.20 267.60,490.30 268.16,487.94 268.76,485.29 269.40,482.50 270.12,478.96 270.93,474.44 271.78,469.62 272.63,465.20 273.42,461.86 274.10,460.30 274.67,460.75 275.17,462.69 275.61,465.72 276.02,469.42 276.41,473.39 276.80,477.20 277.18,481.17 277.54,485.70 277.87,490.48 278.20,495.24 278.54,499.67 278.90,503.50 279.29,506.96 279.70,510.34 280.11,513.40 280.52,515.91 280.90,517.62 281.25,518.30 281.55,517.77 281.80,516.19 282.04,513.82 282.26,510.91 282.49,507.73 282.75,504.54 283.03,501.13 283.33,497.28 283.64,493.15 283.95,488.93 284.25,484.80 284.53,480.94 284.78,477.34 285.01,473.84 285.23,470.44 285.46,467.11 285.69,463.84 285.95,460.60 286.24,457.33 286.55,454.03 286.87,450.78 287.19,447.68 287.49,444.81 287.78,442.25 288.03,440.00 288.26,438.00 288.48,436.23 288.69,434.67 288.90,433.32 289.13,432.15 289.35,431.17 289.57,430.39 289.79,429.82 290.02,429.45 290.27,429.29 290.52,429.34 290.80,429.56 291.07,429.92 291.36,430.48 291.67,431.33 292.01,432.53 292.38,434.15 292.79,436.33 293.25,439.04 293.74,442.11 294.23,445.34 294.73,448.54 295.20,451.54 295.66,454.45 296.12,457.45 296.57,460.43 297.01,463.27 297.45,465.87 297.88,468.11 298.28,470.15 298.66,472.13 299.03,473.85 299.40,475.15 299.79,475.86 300.20,475.79 300.64,474.86 301.09,473.19 301.56,470.92 302.03,468.19 302.52,465.14 303.00,461.90 303.48,458.40 303.96,454.52 304.45,450.32 304.95,445.85 305.47,441.18 306.00,436.36 306.55,431.23 307.12,425.73 307.71,420.03 308.31,414.28 308.92,408.68 309.55,403.38 310.22,398.36 310.94,393.48 311.67,388.73 312.38,384.12 313.03,379.64 313.60,375.30 314.07,371.22 314.48,367.44 314.83,363.79 315.15,360.12 315.43,356.27 315.70,352.10 315.95,347.30 316.16,341.94 316.35,336.41 316.51,331.09 316.66,326.36 316.80,322.60 316.92,319.91 317.03,317.99 317.12,316.66 317.19,315.74 317.25,315.05 317.30,314.40" fill="none" stroke="#1565ff" stroke-width="3.2" stroke-linejoin="round" stroke-linecap="round" clip-path="url(#clipc)"/>
<polyline points="58.60,424.92 59.80,424.73 61.46,424.49 63.42,424.19 65.54,423.86 67.69,423.51 69.70,423.16 71.48,422.76 73.13,422.28 74.79,421.79 76.62,421.33 78.77,420.95 81.40,420.70 84.61,420.61 88.30,420.65 92.32,420.76 96.50,420.91 100.68,421.06 104.70,421.17 108.75,421.22 112.99,421.26 117.24,421.30 121.30,421.35 124.98,421.42 128.10,421.51 130.55,421.64 132.46,421.79 133.99,421.96 135.31,422.15 136.59,422.36 138.00,422.59 139.49,422.81 140.91,423.02 142.29,423.26 143.65,423.53 145.01,423.87 146.40,424.29 147.81,424.83 149.23,425.46 150.65,426.15 152.07,426.87 153.49,427.58 154.90,428.26 156.30,428.90 157.68,429.55 159.06,430.20 160.45,430.82 161.86,431.42 163.30,431.97 164.80,432.46 166.36,432.92 167.93,433.34 169.49,433.74 170.99,434.14 172.40,434.54 173.72,434.90 175.00,435.20 176.21,435.50 177.37,435.84 178.47,436.30 179.50,436.94 180.45,437.70 181.32,438.52 182.13,439.47 182.90,440.56 183.65,441.86 184.40,443.41 185.15,445.20 185.88,447.22 186.58,449.43 187.27,451.83 187.95,454.39 188.60,457.08 189.24,459.98 189.86,463.11 190.46,466.39 191.05,469.78 191.61,473.19 192.15,476.56 192.66,479.98 193.13,483.53 193.58,487.11 194.02,490.62 194.47,493.97 194.95,497.07 195.46,500.02 196.00,502.90 196.55,505.62 197.09,508.09 197.61,510.21 198.10,511.90 198.54,513.11 198.95,513.90 199.33,514.35 199.72,514.53 200.12,514.48 200.55,514.29 200.99,513.99 201.42,513.52 201.87,512.85 202.36,511.90 202.91,510.64 203.55,509.00 204.27,506.98 205.06,504.62 205.91,501.94 206.82,498.96 207.80,495.71 208.85,492.20 210.01,488.31 211.29,483.99 212.64,479.39 214.01,474.68 215.33,470.00 216.55,465.50 217.67,461.13 218.72,456.75 219.73,452.40 220.72,448.13 221.72,443.98 222.75,440.00 223.81,436.22 224.88,432.62 225.95,429.14 227.04,425.73 228.13,422.34 229.25,418.90 230.41,415.34 231.61,411.70 232.82,408.07 234.02,404.56 235.17,401.27 236.25,398.30 237.25,395.69 238.19,393.37 239.08,391.27 239.94,389.32 240.78,387.45 241.60,385.59 242.41,383.71 243.22,381.83 243.99,380.04 244.73,378.40 245.42,376.98 246.05,375.84 246.60,375.03 247.07,374.51 247.49,374.21 247.89,374.06 248.28,374.00 248.70,373.97 249.14,373.96 249.58,374.01 250.02,374.16 250.45,374.42 250.86,374.81 251.25,375.37 251.60,376.04 251.93,376.79 252.24,377.68 252.54,378.76 252.84,380.11 253.15,381.77 253.46,383.79 253.78,386.11 254.09,388.69 254.40,391.48 254.70,394.43 255.00,397.50 255.29,400.75 255.56,404.25 255.83,407.91 256.10,411.65 256.37,415.39 256.65,419.06 256.93,422.60 257.21,426.06 257.48,429.53 257.77,433.07 258.05,436.77 258.35,440.70 258.65,445.00 258.96,449.65 259.27,454.45 259.59,459.22 259.92,463.75 260.25,467.88 260.60,471.66 260.96,475.26 261.33,478.64 261.70,481.74 262.04,484.51 262.35,486.90 262.60,489.00 262.79,490.86 262.96,492.39 263.14,493.50 263.38,494.09 263.70,494.06 264.11,493.34 264.57,491.99 265.09,490.11 265.65,487.83 266.26,485.26 266.90,482.50 267.62,478.96 268.43,474.44 269.28,469.62 270.13,465.20 270.92,461.86 271.60,460.30 272.17,460.75 272.67,462.69 273.11,465.72 273.52,469.42 273.91,473.39 274.30,477.20 274.68,481.17 275.04,485.70 275.39,490.48 275.72,495.24 276.06,499.67 276.40,503.50 276.76,506.97 277.12,510.36 277.49,513.43 277.84,515.94 278.18,517.64 278.50,518.30 278.78,517.76 279.02,516.19 279.24,513.81 279.47,510.86 279.71,507.55 280.00,504.13 280.34,500.33 280.72,495.93 281.12,491.17 281.52,486.33 281.90,481.65 282.25,477.40 282.55,473.62 282.83,470.09 283.08,466.74 283.34,463.46 283.60,460.17 283.90,456.76 284.23,453.16 284.60,449.41 284.97,445.64 285.35,441.98 285.71,438.56 286.05,435.50 286.36,432.77 286.64,430.26 286.92,427.99 287.19,425.96 287.46,424.20 287.75,422.70 288.05,421.47 288.36,420.51 288.67,419.80 288.99,419.35 289.32,419.15 289.65,419.19 289.98,419.43 290.30,419.84 290.62,420.51 290.96,421.50 291.34,422.87 291.75,424.70 292.22,427.14 292.73,430.18 293.28,433.60 293.83,437.21 294.38,440.80 294.90,444.17 295.40,447.45 295.89,450.83 296.37,454.20 296.84,457.42 297.30,460.39 297.75,462.98 298.18,465.36 298.58,467.68 298.98,469.73 299.37,471.33 299.78,472.31 300.20,472.47 300.64,471.70 301.10,470.14 301.57,467.94 302.04,465.28 302.52,462.31 303.00,459.20 303.48,455.88 303.97,452.21 304.46,448.24 304.96,444.00 305.47,439.55 306.00,434.93 306.55,429.98 307.11,424.64 307.68,419.09 308.27,413.49 308.88,408.02 309.50,402.84 310.17,397.94 310.90,393.16 311.64,388.51 312.36,383.99 313.03,379.59 313.60,375.30 314.08,371.26 314.49,367.48 314.84,363.82 315.15,360.14 315.43,356.28 315.70,352.10 315.95,347.30 316.16,341.94 316.35,336.41 316.51,331.09 316.66,326.36 316.80,322.60 316.92,319.91 317.03,317.99 317.12,316.66 317.19,315.74 317.25,315.05 317.30,314.40" fill="none" stroke="#10ee78" stroke-width="3.2" stroke-linejoin="round" stroke-linecap="round" clip-path="url(#clipc)"/>
<polyline points="58.60,424.25 59.80,424.06 61.46,423.80 63.42,423.49 65.54,423.15 67.69,422.80 69.70,422.47 71.48,422.12 73.13,421.73 74.79,421.32 76.62,420.95 78.77,420.64 81.40,420.43 84.61,420.33 88.30,420.32 92.32,420.37 96.50,420.46 100.68,420.56 104.70,420.64 108.75,420.69 112.99,420.73 117.24,420.78 121.30,420.85 124.98,420.96 128.10,421.12 130.55,421.35 132.46,421.62 133.99,421.94 135.31,422.27 136.59,422.63 138.00,422.98 139.49,423.31 140.91,423.62 142.29,423.94 143.65,424.31 145.01,424.75 146.40,425.28 147.81,425.96 149.23,426.76 150.65,427.63 152.07,428.52 153.49,429.38 154.90,430.14 156.30,430.83 157.69,431.50 159.08,432.12 160.48,432.71 161.88,433.25 163.30,433.74 164.77,434.15 166.30,434.49 167.84,434.79 169.35,435.06 170.76,435.35 172.05,435.67 173.19,435.97 174.22,436.22 175.16,436.48 176.05,436.81 176.90,437.26 177.75,437.90 178.58,438.68 179.36,439.55 180.12,440.54 180.85,441.70 181.58,443.08 182.30,444.72 183.03,446.65 183.76,448.86 184.49,451.28 185.19,453.86 185.86,456.57 186.50,459.34 187.09,462.21 187.65,465.23 188.17,468.37 188.68,471.59 189.18,474.87 189.68,478.17 190.17,481.62 190.64,485.26 191.11,488.96 191.57,492.57 192.02,495.97 192.48,499.00 192.93,501.74 193.38,504.29 193.82,506.61 194.26,508.69 194.68,510.46 195.10,511.90 195.49,512.97 195.86,513.71 196.22,514.14 196.58,514.33 196.96,514.31 197.38,514.13 197.80,513.84 198.22,513.40 198.65,512.76 199.13,511.85 199.68,510.62 200.32,509.00 201.06,506.99 201.86,504.63 202.73,501.95 203.67,498.97 204.69,495.71 205.78,492.20 206.99,488.31 208.33,483.99 209.75,479.39 211.17,474.68 212.55,470.00 213.82,465.50 214.97,461.13 216.05,456.76 217.07,452.43 218.07,448.16 219.08,444.01 220.13,440.00 221.19,436.17 222.26,432.49 223.34,428.92 224.43,425.42 225.54,421.95 226.67,418.46 227.86,414.88 229.11,411.22 230.37,407.59 231.61,404.09 232.81,400.81 233.93,397.86 234.96,395.26 235.93,392.94 236.86,390.84 237.74,388.93 238.59,387.14 239.40,385.43 240.18,383.80 240.92,382.26 241.62,380.86 242.28,379.62 242.90,378.55 243.48,377.68 243.99,377.05 244.44,376.66 244.84,376.44 245.22,376.35 245.60,376.33 246.00,376.34 246.42,376.37 246.84,376.44 247.25,376.59 247.66,376.84 248.05,377.21 248.43,377.74 248.77,378.38 249.10,379.10 249.41,379.95 249.71,380.97 250.02,382.20 250.32,383.70 250.64,385.44 250.96,387.38 251.27,389.53 251.58,391.92 251.89,394.57 252.20,397.50 252.50,400.82 252.80,404.52 253.09,408.48 253.38,412.58 253.68,416.68 253.97,420.67 254.28,424.50 254.58,428.28 254.88,432.06 255.19,435.92 255.50,439.92 255.82,444.15 256.15,448.79 256.49,453.82 256.83,458.99 257.18,464.07 257.53,468.82 257.88,472.98 258.24,476.60 258.62,479.89 259.00,482.83 259.38,485.44 259.72,487.71 260.03,489.64 260.25,491.27 260.41,492.62 260.55,493.62 260.69,494.24 260.90,494.41 261.20,494.08 261.60,493.20 262.06,491.80 262.58,489.96 263.15,487.74 263.76,485.23 264.40,482.50 265.12,478.96 265.93,474.44 266.78,469.62 267.63,465.20 268.42,461.86 269.10,460.30 269.67,460.75 270.17,462.69 270.61,465.72 271.02,469.42 271.41,473.39 271.80,477.20 272.19,481.17 272.55,485.70 272.90,490.48 273.24,495.24 273.57,499.67 273.90,503.50 274.23,506.97 274.55,510.37 274.86,513.45 275.17,515.96 275.46,517.66 275.75,518.30 276.01,517.75 276.23,516.18 276.45,513.80 276.67,510.81 276.93,507.40 277.25,503.79 277.64,499.65 278.10,494.77 278.59,489.49 279.08,484.11 279.56,478.97 279.98,474.39 280.33,470.45 280.64,466.90 280.93,463.59 281.21,460.36 281.51,457.05 281.85,453.50 282.23,449.61 282.65,445.47 283.08,441.26 283.51,437.13 283.93,433.24 284.32,429.75 284.69,426.61 285.03,423.67 285.35,420.97 285.68,418.55 286.02,416.43 286.38,414.65 286.76,413.21 287.15,412.09 287.56,411.27 287.97,410.75 288.37,410.51 288.77,410.54 289.16,410.80 289.52,411.26 289.88,412.01 290.26,413.12 290.67,414.64 291.13,416.65 291.64,419.32 292.22,422.63 292.82,426.35 293.43,430.29 294.03,434.20 294.60,437.89 295.14,441.48 295.66,445.19 296.17,448.89 296.67,452.44 297.15,455.72 297.63,458.61 298.08,461.28 298.51,463.88 298.93,466.21 299.34,468.08 299.76,469.29 300.20,469.64 300.65,469.01 301.11,467.54 301.57,465.41 302.04,462.80 302.52,459.90 303.00,456.90 303.48,453.73 303.97,450.24 304.46,446.47 304.96,442.43 305.47,438.16 306.00,433.71 306.54,428.91 307.09,423.71 307.65,418.29 308.23,412.81 308.83,407.45 309.45,402.38 310.12,397.58 310.86,392.90 311.61,388.33 312.34,383.88 313.02,379.54 313.60,375.30 314.08,371.28 314.49,367.51 314.84,363.85 315.15,360.16 315.43,356.29 315.70,352.10 315.95,347.30 316.16,341.94 316.35,336.41 316.51,331.09 316.66,326.36 316.80,322.60 316.92,319.91 317.03,317.99 317.12,316.66 317.19,315.74 317.25,315.05 317.30,314.40" fill="none" stroke="#ffc400" stroke-width="3.2" stroke-linejoin="round" stroke-linecap="round" clip-path="url(#clipc)"/>
<polyline points="58.60,423.70 59.80,423.50 61.46,423.23 63.42,422.91 65.54,422.56 67.69,422.22 69.70,421.90 71.48,421.59 73.13,421.26 74.79,420.94 76.62,420.64 78.77,420.38 81.40,420.20 84.61,420.09 88.30,420.05 92.32,420.06 96.50,420.09 100.68,420.15 104.70,420.20 108.75,420.24 112.99,420.29 117.24,420.34 121.30,420.44 124.98,420.58 128.10,420.80 130.55,421.10 132.46,421.48 133.99,421.91 135.31,422.37 136.59,422.84 138.00,423.30 139.49,423.72 140.91,424.11 142.29,424.51 143.65,424.95 145.01,425.47 146.40,426.10 147.81,426.90 149.23,427.84 150.65,428.86 152.07,429.89 153.49,430.86 154.90,431.70 156.31,432.43 157.71,433.10 159.11,433.71 160.50,434.27 161.90,434.76 163.30,435.20 164.75,435.55 166.25,435.80 167.76,435.99 169.20,436.16 170.54,436.35 171.70,436.60 172.66,436.85 173.44,437.06 174.11,437.29 174.73,437.60 175.34,438.05 176.00,438.70 176.71,439.50 177.41,440.39 178.11,441.42 178.80,442.63 179.50,444.08 180.20,445.80 180.92,447.85 181.65,450.21 182.39,452.80 183.10,455.54 183.78,458.37 184.40,461.20 184.95,464.05 185.44,466.98 185.89,469.99 186.32,473.09 186.75,476.25 187.20,479.50 187.67,482.97 188.16,486.69 188.64,490.49 189.12,494.19 189.57,497.62 190.00,500.60 190.39,503.16 190.75,505.43 191.09,507.44 191.43,509.18 191.76,510.66 192.10,511.90 192.44,512.86 192.77,513.54 193.10,513.97 193.44,514.17 193.80,514.17 194.20,514.00 194.61,513.71 195.01,513.30 195.43,512.68 195.90,511.80 196.45,510.60 197.10,509.00 197.84,507.00 198.66,504.64 199.56,501.96 200.53,498.97 201.57,495.71 202.70,492.20 203.96,488.31 205.37,483.99 206.85,479.39 208.34,474.68 209.78,470.00 211.10,465.50 212.28,461.14 213.37,456.78 214.41,452.45 215.43,448.19 216.44,444.03 217.50,440.00 218.58,436.13 219.65,432.39 220.73,428.74 221.83,425.17 222.95,421.63 224.10,418.10 225.32,414.49 226.60,410.83 227.91,407.19 229.21,403.70 230.45,400.43 231.60,397.50 232.67,394.91 233.68,392.59 234.64,390.49 235.54,388.60 236.40,386.88 237.20,385.30 237.94,383.87 238.62,382.62 239.25,381.54 239.83,380.62 240.38,379.85 240.90,379.20 241.38,378.72 241.80,378.43 242.19,378.28 242.56,378.24 242.92,378.26 243.30,378.30 243.69,378.35 244.09,378.44 244.48,378.59 244.87,378.84 245.24,379.20 245.60,379.70 245.94,380.31 246.26,381.01 246.57,381.82 246.88,382.79 247.19,383.94 247.50,385.30 247.82,386.81 248.13,388.42 248.45,390.22 248.77,392.28 249.08,394.68 249.40,397.50 249.72,400.87 250.03,404.74 250.34,408.95 250.66,413.34 250.98,417.75 251.30,422.00 251.63,426.08 251.95,430.10 252.28,434.14 252.61,438.26 252.95,442.53 253.30,447.00 253.66,451.91 254.02,457.26 254.39,462.74 254.76,468.09 255.13,473.00 255.50,477.20 255.88,480.69 256.28,483.71 256.67,486.30 257.06,488.50 257.40,490.35 257.70,491.90 257.91,493.15 258.04,494.07 258.14,494.64 258.25,494.85 258.42,494.68 258.70,494.10 259.09,493.09 259.55,491.65 260.07,489.82 260.64,487.66 261.25,485.21 261.90,482.50 262.62,478.96 263.43,474.44 264.28,469.62 265.13,465.20 265.92,461.86 266.60,460.30 267.17,460.75 267.67,462.69 268.11,465.72 268.52,469.42 268.91,473.39 269.30,477.20 269.69,481.17 270.06,485.70 270.42,490.48 270.76,495.24 271.09,499.67 271.40,503.50 271.70,506.97 271.97,510.38 272.24,513.47 272.49,515.99 272.74,517.68 273.00,518.30 273.24,517.74 273.44,516.18 273.65,513.80 273.88,510.77 274.15,507.28 274.50,503.50 274.95,499.08 275.48,493.82 276.06,488.09 276.65,482.28 277.21,476.75 277.70,471.90 278.11,467.83 278.46,464.26 278.77,460.99 279.09,457.79 279.42,454.47 279.80,450.80 280.23,446.67 280.70,442.22 281.18,437.64 281.67,433.12 282.15,428.85 282.60,425.00 283.02,421.51 283.41,418.22 283.79,415.18 284.18,412.42 284.58,410.01 285.00,408.00 285.46,406.39 285.94,405.13 286.44,404.22 286.94,403.64 287.43,403.38 287.90,403.40 288.34,403.67 288.74,404.17 289.14,404.99 289.56,406.19 290.00,407.84 290.50,410.00 291.07,412.86 291.70,416.39 292.36,420.37 293.03,424.57 293.69,428.75 294.30,432.70 294.87,436.56 295.43,440.53 295.97,444.50 296.49,448.32 297.00,451.87 297.50,455.00 297.98,457.91 298.43,460.75 298.88,463.31 299.31,465.39 299.75,466.79 300.20,467.30 300.66,466.79 301.12,465.39 301.58,463.31 302.05,460.75 302.52,457.91 303.00,455.00 303.48,451.96 303.97,448.62 304.46,445.00 304.96,441.13 305.47,437.02 306.00,432.70 306.53,428.02 307.07,422.94 307.62,417.63 308.19,412.25 308.78,406.98 309.40,402.00 310.08,397.28 310.82,392.67 311.58,388.18 312.33,383.79 313.01,379.50 313.60,375.30 314.08,371.30 314.49,367.54 314.84,363.87 315.15,360.17 315.43,356.29 315.70,352.10 315.95,347.30 316.16,341.94 316.35,336.41 316.51,331.09 316.66,326.36 316.80,322.60 316.92,319.91 317.03,317.99 317.12,316.66 317.19,315.74 317.25,315.05 317.30,314.40" fill="none" stroke="#ff0000" stroke-width="3.2" stroke-linejoin="round" stroke-linecap="round" clip-path="url(#clipc)"/>
<polyline points="58.60,413.80 61.07,413.79 64.49,413.78 68.54,413.77 72.92,413.76 77.31,413.77 81.40,413.80 85.25,413.85 89.13,413.90 93.01,413.98 96.91,414.06 100.81,414.17 104.70,414.30 108.59,414.47 112.47,414.67 116.36,414.90 120.25,415.13 124.16,415.33 128.10,415.50 132.21,415.62 136.53,415.70 140.86,415.76 145.03,415.82 148.83,415.90 152.10,416.00 154.76,416.12 156.94,416.23 158.76,416.36 160.35,416.51 161.82,416.72 163.30,417.00 164.72,417.35 165.99,417.75 167.14,418.20 168.22,418.70 169.26,419.23 170.30,419.80 171.34,420.38 172.35,420.97 173.33,421.59 174.26,422.29 175.15,423.08 176.00,424.00 176.80,425.06 177.56,426.23 178.28,427.49 178.96,428.84 179.60,430.25 180.20,431.70 180.73,433.14 181.19,434.58 181.60,436.08 182.01,437.71 182.47,439.53 183.00,441.60 183.62,444.03 184.30,446.79 185.01,449.74 185.75,452.74 186.48,455.68 187.20,458.40 187.90,460.94 188.60,463.41 189.30,465.80 190.00,468.11 190.70,470.35 191.40,472.50 192.10,474.56 192.80,476.52 193.49,478.41 194.19,480.22 194.89,481.98 195.60,483.70 196.34,485.44 197.11,487.20 197.88,488.91 198.63,490.49 199.31,491.84 199.90,492.90 200.36,493.63 200.71,494.07 201.00,494.31 201.28,494.38 201.59,494.36 202.00,494.30 202.48,494.23 202.99,494.10 203.53,493.87 204.13,493.50 204.78,492.96 205.50,492.20 206.30,491.35 207.16,490.46 208.09,489.40 209.06,488.01 210.07,486.16 211.10,483.70 212.21,480.38 213.40,476.26 214.64,471.67 215.85,466.94 216.99,462.41 218.00,458.40 218.83,455.00 219.51,451.96 220.12,449.11 220.72,446.28 221.39,443.30 222.20,440.00 223.17,436.26 224.26,432.21 225.41,428.00 226.59,423.81 227.73,419.82 228.80,416.20 229.80,412.88 230.77,409.70 231.72,406.73 232.64,403.99 233.53,401.53 234.40,399.40 235.28,397.64 236.17,396.22 237.04,395.08 237.85,394.17 238.55,393.43 239.10,392.80 239.45,392.32 239.61,392.04 239.67,391.93 239.70,391.96 239.78,392.09 240.00,392.30 240.36,392.57 240.79,392.93 241.28,393.39 241.80,393.97 242.31,394.71 242.80,395.60 243.27,396.65 243.73,397.84 244.20,399.18 244.67,400.67 245.13,402.30 245.60,404.10 246.07,406.07 246.54,408.21 247.01,410.51 247.48,412.94 247.94,415.48 248.40,418.10 248.85,420.89 249.29,423.89 249.73,427.00 250.16,430.12 250.58,433.15 251.00,436.00 251.40,438.63 251.79,441.13 252.16,443.53 252.55,445.91 252.96,448.31 253.40,450.80 253.88,453.39 254.37,456.03 254.89,458.70 255.43,461.37 256.00,464.01 256.60,466.60 257.24,469.15 257.93,471.69 258.64,474.19 259.36,476.66 260.09,479.07 260.80,481.40 261.51,483.66 262.24,485.87 262.96,488.02 263.67,490.11 264.36,492.13 265.00,494.10 265.59,495.99 266.14,497.80 266.66,499.55 267.17,501.26 267.68,502.93 268.20,504.60 268.73,506.41 269.27,508.39 269.81,510.34 270.34,512.07 270.87,513.38 271.40,514.10 271.93,514.19 272.48,513.82 273.02,513.03 273.54,511.89 274.04,510.46 274.50,508.80 274.90,506.84 275.23,504.51 275.54,501.89 275.86,499.05 276.20,496.06 276.60,493.00 277.07,489.73 277.59,486.16 278.13,482.45 278.69,478.74 279.25,475.17 279.80,471.90 280.35,468.81 280.91,465.77 281.47,462.88 282.01,460.24 282.53,457.94 283.00,456.10 283.41,454.70 283.78,453.67 284.12,452.98 284.44,452.63 284.76,452.61 285.10,452.90 285.45,453.62 285.80,454.81 286.15,456.33 286.50,458.02 286.85,459.76 287.20,461.40 287.55,463.21 287.90,465.36 288.25,467.56 288.60,469.49 288.95,470.87 289.30,471.40 289.65,470.96 290.00,469.77 290.35,468.02 290.70,465.91 291.05,463.64 291.40,461.40 291.75,458.87 292.10,455.83 292.45,452.63 292.80,449.60 293.15,447.11 293.50,445.50 293.84,444.93 294.16,445.15 294.48,445.91 294.82,446.93 295.19,447.95 295.60,448.70 296.07,449.31 296.59,450.00 297.13,450.70 297.69,451.31 298.25,451.74 298.80,451.90 299.34,451.82 299.87,451.58 300.41,451.16 300.95,450.54 301.48,449.73 302.00,448.70 302.52,447.36 303.04,445.69 303.56,443.81 304.07,441.86 304.55,439.95 305.00,438.20 305.41,436.70 305.79,435.36 306.14,434.06 306.49,432.68 306.84,431.10 307.20,429.20 307.59,426.86 307.99,424.14 308.39,421.22 308.79,418.28 309.16,415.48 309.50,413.00 309.77,411.05 309.98,409.53 310.16,408.16 310.37,406.64 310.63,404.68 311.00,402.00 311.51,398.42 312.15,394.13 312.85,389.41 313.55,384.52 314.19,379.73 314.70,375.30 315.08,371.30 315.36,367.54 315.58,363.87 315.77,360.17 315.97,356.29 316.20,352.10 316.47,347.30 316.76,341.94 317.06,336.41 317.34,331.09 317.59,326.36 317.80,322.60 317.96,319.91 318.10,317.99 318.20,316.66 318.28,315.74 318.35,315.05 318.40,314.40" fill="none" stroke="#000" stroke-width="3.2" stroke-linejoin="round" stroke-linecap="round" stroke-dasharray="3.3 5.2" clip-path="url(#clipc)"/>
<polyline points="416.40,426.30 417.62,426.28 419.31,426.30 421.32,426.29 423.49,426.23 425.66,426.04 427.70,425.70 429.49,425.09 431.14,424.24 432.80,423.28 434.63,422.33 436.77,421.52 439.40,421.00 442.68,420.79 446.52,420.81 450.69,420.97 454.93,421.20 459.02,421.44 462.70,421.60 465.97,421.73 469.03,421.89 471.92,422.04 474.71,422.17 477.45,422.23 480.20,422.20 482.98,422.03 485.76,421.74 488.49,421.39 491.14,421.03 493.65,420.71 496.00,420.50 498.15,420.36 500.12,420.24 501.97,420.18 503.73,420.18 505.46,420.28 507.20,420.50 508.93,420.86 510.60,421.36 512.24,421.94 513.86,422.60 515.47,423.30 517.10,424.00 518.74,424.75 520.37,425.58 522.00,426.45 523.63,427.32 525.26,428.15 526.90,428.90 528.56,429.58 530.25,430.22 531.94,430.82 533.61,431.39 535.24,431.91 536.80,432.40 538.32,432.81 539.81,433.13 541.27,433.41 542.66,433.70 543.98,434.04 545.20,434.50 546.31,435.03 547.32,435.59 548.26,436.20 549.13,436.90 549.97,437.73 550.80,438.70 551.60,439.77 552.36,440.90 553.08,442.16 553.77,443.59 554.44,445.25 555.10,447.20 555.74,449.47 556.35,452.01 556.94,454.78 557.51,457.75 558.07,460.87 558.60,464.10 559.12,467.58 559.61,471.36 560.09,475.30 560.54,479.24 560.98,483.02 561.40,486.50 561.77,489.71 562.07,492.77 562.36,495.69 562.67,498.44 563.04,501.01 563.50,503.40 564.08,505.71 564.74,507.98 565.47,510.07 566.22,511.86 566.98,513.21 567.70,514.00 568.40,514.17 569.10,513.82 569.81,513.04 570.51,511.91 571.21,510.53 571.90,509.00 572.57,507.31 573.20,505.41 573.84,503.25 574.50,500.81 575.21,498.07 576.00,495.00 576.89,491.47 577.87,487.48 578.91,483.19 579.96,478.74 581.00,474.29 582.00,470.00 582.95,465.76 583.89,461.42 584.81,457.08 585.73,452.84 586.66,448.78 587.60,445.00 588.55,441.57 589.50,438.43 590.46,435.48 591.42,432.60 592.40,429.71 593.40,426.70 594.42,423.56 595.46,420.38 596.51,417.18 597.57,413.98 598.64,410.81 599.70,407.70 600.79,404.60 601.91,401.50 603.03,398.42 604.13,395.41 605.16,392.53 606.10,389.80 606.93,387.21 607.66,384.71 608.34,382.33 608.98,380.08 609.63,378.00 610.30,376.10 611.02,374.34 611.76,372.69 612.50,371.19 613.22,369.91 613.89,368.90 614.50,368.20 615.02,367.83 615.48,367.74 615.89,367.91 616.29,368.33 616.68,368.97 617.10,369.80 617.55,370.77 618.01,371.87 618.48,373.20 618.94,374.83 619.38,376.83 619.80,379.30 620.19,382.40 620.56,386.10 620.92,390.18 621.26,394.42 621.59,398.60 621.90,402.50 622.20,406.24 622.49,410.01 622.77,413.73 623.03,417.29 623.27,420.58 623.50,423.50 623.69,425.86 623.84,427.68 623.97,429.24 624.11,430.81 624.28,432.64 624.50,435.00 624.79,437.96 625.12,441.32 625.48,444.95 625.86,448.71 626.24,452.47 626.60,456.10 626.95,459.62 627.30,463.13 627.65,466.65 628.00,470.17 628.35,473.68 628.70,477.20 629.06,480.85 629.43,484.66 629.81,488.46 630.17,492.11 630.50,495.44 630.80,498.30 631.06,500.61 631.28,502.47 631.48,504.02 631.66,505.38 631.83,506.67 632.00,508.00 632.17,509.30 632.31,510.46 632.46,511.54 632.60,512.62 632.74,513.78 632.90,515.10 633.07,516.62 633.26,518.30 633.44,520.06 633.63,521.81 633.82,523.49 634.00,525.00 634.17,526.38 634.34,527.70 634.51,528.93 634.67,530.07 634.83,531.10 635.00,532.00 635.17,532.94 635.33,533.96 635.50,534.88 635.67,535.48 635.83,535.59 636.00,535.00 636.17,533.54 636.34,531.33 636.51,528.63 636.68,525.67 636.84,522.71 637.00,520.00 637.14,517.65 637.26,515.47 637.38,513.30 637.50,510.95 637.63,508.24 637.80,505.00 638.00,501.09 638.21,496.63 638.45,491.81 638.70,486.84 638.95,481.90 639.20,477.20 639.45,472.68 639.71,468.16 639.98,463.69 640.25,459.28 640.53,454.98 640.80,450.80 641.08,446.67 641.37,442.55 641.66,438.52 641.94,434.70 642.23,431.16 642.50,428.00 642.75,425.14 642.98,422.47 643.20,420.10 643.43,418.10 643.69,416.57 644.00,415.60 644.35,415.18 644.72,415.24 645.12,415.77 645.56,416.76 646.01,418.17 646.50,420.00 647.03,422.41 647.59,425.44 648.19,428.90 648.80,432.61 649.41,436.37 650.00,440.00 650.60,443.72 651.21,447.73 651.82,451.79 652.41,455.67 652.98,459.16 653.50,462.00 653.97,464.30 654.39,466.24 654.79,467.79 655.16,468.87 655.53,469.42 655.90,469.40 656.27,468.65 656.63,467.20 656.97,465.22 657.32,462.91 657.66,460.44 658.00,458.00 658.31,455.82 658.57,453.80 658.82,451.62 659.12,448.97 659.50,445.54 660.00,441.00 660.67,434.91 661.49,427.43 662.39,419.16 663.31,410.71 664.17,402.69 664.90,395.70 665.50,389.87 666.01,384.74 666.47,380.04 666.90,375.49 667.33,370.84 667.80,365.80 668.32,360.15 668.87,354.06 669.42,347.85 669.94,341.87 670.41,336.44 670.80,331.90 671.09,328.30 671.30,325.40 671.46,323.04 671.59,321.11 671.69,319.48 671.80,318.00 671.91,316.79 671.99,315.96 672.06,315.43 672.12,315.09 672.16,314.85 672.20,314.60" fill="none" stroke="#9000ff" stroke-width="3.2" stroke-linejoin="round" stroke-linecap="round" clip-path="url(#clipd)"/>
<polyline points="416.40,425.25 417.62,425.18 419.31,425.10 421.32,424.99 423.49,424.84 425.66,424.61 427.70,424.29 429.49,423.80 431.14,423.14 432.80,422.41 434.63,421.69 436.77,421.09 439.40,420.70 442.66,420.54 446.47,420.54 450.60,420.66 454.83,420.83 458.94,421.01 462.70,421.15 466.16,421.26 469.49,421.41 472.70,421.55 475.79,421.69 478.75,421.79 481.59,421.84 484.30,421.81 486.87,421.70 489.32,421.57 491.65,421.44 493.88,421.35 496.00,421.34 497.99,421.39 499.83,421.46 501.57,421.58 503.23,421.75 504.87,422.02 506.53,422.39 508.18,422.90 509.79,423.53 511.38,424.25 512.95,425.02 514.51,425.79 516.09,426.52 517.67,427.24 519.25,427.98 520.83,428.72 522.40,429.45 523.98,430.15 525.56,430.79 527.17,431.37 528.81,431.91 530.45,432.42 532.07,432.90 533.63,433.36 535.10,433.81 536.48,434.20 537.81,434.52 539.07,434.81 540.28,435.15 541.43,435.59 542.51,436.18 543.53,436.89 544.46,437.65 545.34,438.52 546.17,439.52 546.98,440.70 547.78,442.09 548.56,443.70 549.31,445.49 550.03,447.46 550.73,449.61 551.41,451.91 552.05,454.37 552.67,457.03 553.26,459.91 553.82,462.95 554.36,466.10 554.88,469.31 555.38,472.53 555.87,475.87 556.34,479.40 556.79,482.99 557.21,486.51 557.62,489.84 558.02,492.83 558.36,495.50 558.66,497.94 558.94,500.19 559.23,502.26 559.56,504.18 559.97,505.98 560.46,507.74 561.01,509.45 561.59,511.01 562.21,512.32 562.84,513.28 563.48,513.79 564.11,513.84 564.76,513.50 565.43,512.81 566.11,511.81 566.80,510.53 567.51,509.00 568.21,507.22 568.90,505.16 569.61,502.82 570.35,500.21 571.14,497.32 571.99,494.16 572.94,490.62 573.97,486.66 575.04,482.43 576.14,478.06 577.21,473.71 578.23,469.49 579.19,465.34 580.12,461.13 581.03,456.93 581.94,452.79 582.86,448.79 583.81,445.00 584.78,441.46 585.77,438.12 586.76,434.92 587.78,431.78 588.81,428.65 589.87,425.44 590.97,422.15 592.10,418.81 593.25,415.48 594.41,412.18 595.56,408.95 596.68,405.81 597.79,402.73 598.91,399.68 600.03,396.69 601.10,393.80 602.12,391.08 603.05,388.54 603.89,386.19 604.64,383.98 605.33,381.92 605.98,380.02 606.61,378.29 607.25,376.73 607.90,375.32 608.53,374.05 609.14,372.95 609.73,372.04 610.29,371.34 610.83,370.87 611.32,370.64 611.78,370.64 612.20,370.84 612.62,371.25 613.03,371.86 613.45,372.65 613.89,373.57 614.33,374.62 614.76,375.87 615.19,377.38 615.61,379.23 616.01,381.49 616.39,384.27 616.76,387.53 617.11,391.14 617.45,394.93 617.79,398.77 618.11,402.50 618.42,406.25 618.73,410.15 619.02,414.09 619.30,417.97 619.57,421.67 619.83,425.09 620.05,428.11 620.25,430.79 620.43,433.30 620.62,435.79 620.82,438.42 621.07,441.33 621.36,444.59 621.67,448.07 622.01,451.70 622.36,455.36 622.71,458.97 623.05,462.43 623.38,465.78 623.71,469.11 624.05,472.39 624.38,475.58 624.70,478.66 625.03,481.61 625.35,484.50 625.67,487.39 625.99,490.16 626.30,492.72 626.60,494.99 626.89,496.86 627.16,498.30 627.41,499.40 627.65,500.19 627.89,500.73 628.15,501.08 628.42,501.28 628.73,501.11 629.07,500.48 629.41,499.66 629.76,498.90 630.08,498.48 630.38,498.66 630.64,499.50 630.88,500.80 631.09,502.44 631.30,504.29 631.51,506.22 631.72,508.11 631.93,510.06 632.14,512.20 632.35,514.41 632.56,516.62 632.77,518.73 632.98,520.63 633.21,522.55 633.45,524.62 633.68,526.57 633.92,528.18 634.15,529.19 634.37,529.36 634.57,528.53 634.77,526.86 634.96,524.60 635.15,521.98 635.33,519.25 635.51,516.64 635.68,514.18 635.84,511.67 635.99,509.04 636.15,506.24 636.31,503.18 636.50,499.81 636.72,496.02 636.94,491.84 637.18,487.41 637.43,482.88 637.69,478.37 637.95,474.02 638.22,469.82 638.49,465.66 638.76,461.52 639.05,457.40 639.35,453.30 639.67,449.21 640.02,445.01 640.39,440.68 640.78,436.37 641.17,432.22 641.54,428.38 641.90,425.00 642.22,421.98 642.52,419.17 642.81,416.67 643.10,414.58 643.41,413.00 643.76,412.00 644.14,411.60 644.54,411.72 644.96,412.34 645.40,413.44 645.88,415.00 646.38,417.00 646.93,419.62 647.52,422.91 648.13,426.67 648.77,430.66 649.39,434.68 650.00,438.50 650.60,442.34 651.22,446.41 651.83,450.51 652.42,454.42 652.98,457.92 653.50,460.80 653.97,463.15 654.39,465.16 654.79,466.76 655.16,467.89 655.53,468.49 655.90,468.50 656.27,467.76 656.63,466.31 656.98,464.32 657.32,461.99 657.66,459.52 658.00,457.10 658.30,454.97 658.56,453.01 658.81,450.92 659.10,448.35 659.48,445.01 659.98,440.55 660.65,434.54 661.47,427.14 662.38,418.96 663.30,410.59 664.16,402.64 664.90,395.70 665.50,389.90 666.01,384.77 666.47,380.07 666.90,375.51 667.33,370.84 667.80,365.80 668.32,360.15 668.87,354.06 669.42,347.85 669.94,341.87 670.41,336.44 670.80,331.90 671.09,328.30 671.30,325.40 671.46,323.04 671.59,321.11 671.69,319.48 671.80,318.00 671.91,316.79 671.99,315.96 672.06,315.43 672.12,315.09 672.16,314.85 672.20,314.60" fill="none" stroke="#1565ff" stroke-width="3.2" stroke-linejoin="round" stroke-linecap="round" clip-path="url(#clipd)"/>
<polyline points="416.40,424.38 417.62,424.25 419.31,424.10 421.32,423.91 423.49,423.69 425.66,423.42 427.70,423.12 429.49,422.72 431.14,422.22 432.80,421.68 434.63,421.17 436.77,420.74 439.40,420.45 442.65,420.33 446.42,420.32 450.51,420.40 454.73,420.52 458.86,420.66 462.70,420.77 466.34,420.88 469.95,421.01 473.48,421.15 476.87,421.29 480.06,421.42 482.98,421.54 485.61,421.62 487.98,421.67 490.14,421.72 492.16,421.78 494.10,421.88 496.00,422.04 497.83,422.25 499.54,422.47 501.16,422.74 502.73,423.07 504.29,423.47 505.86,423.96 507.43,424.59 508.98,425.35 510.52,426.18 512.04,427.03 513.56,427.87 515.08,428.62 516.61,429.31 518.13,429.98 519.65,430.62 521.17,431.23 522.69,431.82 524.21,432.36 525.77,432.87 527.37,433.32 528.97,433.75 530.53,434.16 532.02,434.56 533.39,434.99 534.64,435.36 535.80,435.68 536.87,435.99 537.89,436.36 538.87,436.87 539.82,437.58 540.74,438.43 541.60,439.37 542.42,440.45 543.22,441.69 543.99,443.17 544.75,444.91 545.51,446.97 546.26,449.32 546.99,451.89 547.69,454.62 548.37,457.46 549.00,460.34 549.60,463.34 550.17,466.49 550.70,469.76 551.21,473.06 551.69,476.35 552.17,479.56 552.63,482.78 553.07,486.10 553.48,489.40 553.88,492.58 554.27,495.51 554.63,498.10 554.96,500.32 555.25,502.25 555.52,503.93 555.79,505.44 556.09,506.82 556.44,508.13 556.84,509.42 557.27,510.67 557.72,511.79 558.20,512.70 558.71,513.34 559.25,513.61 559.82,513.56 560.42,513.23 561.06,512.62 561.71,511.72 562.40,510.52 563.12,509.00 563.85,507.14 564.60,504.96 565.39,502.47 566.20,499.70 567.07,496.69 567.98,493.46 568.98,489.90 570.06,485.97 571.18,481.80 572.31,477.50 573.42,473.21 574.46,469.07 575.43,465.00 576.35,460.89 577.25,456.80 578.14,452.75 579.06,448.81 580.02,445.00 581.01,441.36 582.03,437.86 583.07,434.45 584.13,431.10 585.22,427.76 586.34,424.39 587.52,420.97 588.74,417.51 590.00,414.07 591.25,410.68 592.48,407.39 593.65,404.24 594.79,401.17 595.92,398.16 597.02,395.24 598.08,392.46 599.08,389.86 600.00,387.49 600.84,385.34 601.61,383.37 602.32,381.59 602.98,379.98 603.60,378.53 604.20,377.25 604.77,376.14 605.29,375.19 605.78,374.41 606.24,373.81 606.70,373.37 607.16,373.10 607.62,372.99 608.07,373.05 608.51,373.28 608.95,373.69 609.38,374.26 609.80,375.02 610.22,375.91 610.64,376.91 611.04,378.09 611.44,379.51 611.83,381.23 612.22,383.31 612.59,385.83 612.95,388.73 613.30,391.93 613.65,395.35 613.98,398.90 614.32,402.50 614.64,406.26 614.96,410.26 615.27,414.39 615.58,418.54 615.87,422.59 616.16,426.42 616.42,429.99 616.66,433.39 616.89,436.69 617.13,439.95 617.37,443.23 617.64,446.60 617.92,450.11 618.23,453.70 618.54,457.32 618.86,460.90 619.18,464.38 619.50,467.71 619.81,470.92 620.12,474.09 620.44,477.17 620.75,480.09 621.06,482.81 621.36,485.29 621.64,487.55 621.90,489.66 622.17,491.57 622.43,493.24 622.69,494.61 622.98,495.66 623.26,496.39 623.54,496.83 623.82,496.99 624.13,496.85 624.47,496.42 624.85,495.68 625.30,494.29 625.82,492.17 626.37,489.75 626.92,487.46 627.43,485.73 627.86,484.96 628.21,485.23 628.49,486.22 628.74,487.76 628.97,489.68 629.20,491.83 629.44,494.03 629.69,496.46 629.94,499.28 630.19,502.32 630.44,505.42 630.70,508.42 630.97,511.15 631.25,513.90 631.56,516.83 631.87,519.65 632.17,522.09 632.47,523.86 632.74,524.66 632.98,524.35 633.20,523.13 633.42,521.24 633.62,518.91 633.82,516.36 634.02,513.84 634.22,511.28 634.41,508.49 634.60,505.49 634.79,502.31 634.99,498.96 635.21,495.49 635.44,491.79 635.67,487.85 635.91,483.75 636.17,479.57 636.43,475.42 636.70,471.37 636.98,467.44 637.26,463.57 637.55,459.71 637.85,455.83 638.18,451.90 638.54,447.88 638.96,443.63 639.41,439.12 639.90,434.57 640.39,430.15 640.86,426.07 641.30,422.50 641.69,419.34 642.06,416.42 642.41,413.82 642.76,411.65 643.13,410.01 643.52,409.00 643.93,408.62 644.36,408.79 644.79,409.48 645.25,410.69 645.74,412.37 646.26,414.50 646.83,417.30 647.44,420.81 648.08,424.81 648.73,429.04 649.38,433.27 650.00,437.25 650.61,441.19 651.23,445.32 651.83,449.45 652.42,453.37 652.98,456.89 653.50,459.80 653.97,462.19 654.39,464.25 654.79,465.90 655.16,467.07 655.53,467.71 655.90,467.75 656.27,467.03 656.63,465.56 656.98,463.56 657.32,461.22 657.66,458.75 658.00,456.35 658.30,454.26 658.55,452.36 658.80,450.33 659.08,447.84 659.46,444.56 659.95,440.17 660.63,434.23 661.46,426.91 662.37,418.80 663.29,410.49 664.16,402.60 664.90,395.70 665.50,389.92 666.01,384.80 666.47,380.09 666.90,375.52 667.33,370.85 667.80,365.80 668.32,360.15 668.87,354.06 669.42,347.85 669.94,341.87 670.41,336.44 670.80,331.90 671.09,328.30 671.30,325.40 671.46,323.04 671.59,321.11 671.69,319.48 671.80,318.00 671.91,316.79 671.99,315.96 672.06,315.43 672.12,315.09 672.16,314.85 672.20,314.60" fill="none" stroke="#10ee78" stroke-width="3.2" stroke-linejoin="round" stroke-linecap="round" clip-path="url(#clipd)"/>
<polyline points="416.40,423.57 417.62,423.41 419.31,423.18 421.32,422.92 423.49,422.62 425.66,422.32 427.70,422.03 429.49,421.72 431.14,421.37 432.80,421.02 434.63,420.69 436.77,420.41 439.40,420.22 442.63,420.13 446.37,420.12 450.43,420.16 454.62,420.24 458.78,420.34 462.70,420.43 466.52,420.53 470.42,420.64 474.27,420.77 477.96,420.92 481.36,421.08 484.38,421.26 486.92,421.45 489.09,421.65 490.97,421.86 492.68,422.09 494.32,422.36 496.00,422.68 497.68,423.04 499.25,423.41 500.76,423.82 502.23,424.28 503.70,424.80 505.18,425.41 506.68,426.15 508.17,427.02 509.65,427.95 511.13,428.89 512.60,429.78 514.08,430.55 515.55,431.22 517.01,431.82 518.48,432.36 519.94,432.87 521.40,433.35 522.87,433.81 524.38,434.24 525.93,434.62 527.49,434.97 529.00,435.31 530.41,435.67 531.69,436.07 532.80,436.43 533.79,436.74 534.68,437.07 535.51,437.48 536.32,438.06 537.14,438.87 537.96,439.86 538.74,440.96 539.51,442.22 540.26,443.70 540.99,445.45 541.73,447.51 542.47,449.99 543.21,452.84 543.94,455.96 544.65,459.24 545.33,462.57 545.96,465.84 546.53,469.14 547.07,472.55 547.57,476.02 548.05,479.46 548.51,482.82 548.95,486.02 549.38,489.14 549.79,492.27 550.18,495.30 550.56,498.16 550.91,500.74 551.25,502.96 551.56,504.76 551.83,506.21 552.09,507.38 552.35,508.37 552.62,509.25 552.92,510.11 553.22,510.98 553.53,511.79 553.85,512.51 554.19,513.06 554.58,513.39 555.03,513.45 555.53,513.30 556.09,512.98 556.68,512.45 557.32,511.64 558.00,510.51 558.72,509.00 559.49,507.07 560.31,504.77 561.16,502.14 562.06,499.23 563.00,496.11 563.98,492.82 565.02,489.25 566.15,485.34 567.32,481.21 568.49,476.98 569.63,472.76 570.70,468.67 571.67,464.68 572.59,460.67 573.47,456.68 574.35,452.72 575.25,448.82 576.22,445.00 577.25,441.27 578.30,437.62 579.38,434.02 580.49,430.47 581.63,426.94 582.82,423.42 584.06,419.88 585.38,416.31 586.74,412.77 588.09,409.31 589.40,405.96 590.63,402.79 591.79,399.74 592.93,396.76 594.02,393.91 595.06,391.23 596.04,388.75 596.96,386.52 597.80,384.56 598.58,382.81 599.31,381.28 599.97,379.93 600.59,378.76 601.16,377.74 601.65,376.89 602.06,376.24 602.42,375.76 602.75,375.43 603.10,375.23 603.48,375.14 603.91,375.15 604.36,375.27 604.82,375.53 605.28,375.92 605.73,376.48 606.16,377.21 606.56,378.06 606.95,379.02 607.33,380.14 607.70,381.47 608.06,383.07 608.42,384.99 608.79,387.26 609.14,389.83 609.49,392.66 609.84,395.74 610.18,399.03 610.52,402.50 610.86,406.26 611.20,410.36 611.53,414.67 611.85,419.07 612.17,423.43 612.48,427.63 612.78,431.71 613.07,435.77 613.36,439.80 613.64,443.77 613.92,447.66 614.20,451.46 614.49,455.19 614.78,458.88 615.07,462.49 615.36,466.00 615.65,469.36 615.94,472.56 616.24,475.65 616.54,478.68 616.84,481.56 617.13,484.24 617.41,486.63 617.68,488.67 617.93,490.35 618.14,491.75 618.34,492.87 618.56,493.71 618.79,494.27 619.06,494.56 619.36,494.62 619.67,494.47 620.00,494.05 620.37,493.29 620.79,492.13 621.27,490.53 621.87,488.01 622.57,484.52 623.33,480.64 624.08,476.94 624.77,473.99 625.34,472.36 625.77,472.11 626.11,472.81 626.39,474.25 626.64,476.24 626.88,478.59 627.16,481.09 627.46,483.95 627.75,487.40 628.04,491.19 628.33,495.11 628.63,498.93 628.95,502.44 629.30,505.93 629.67,509.66 630.05,513.29 630.43,516.50 630.78,518.95 631.10,520.34 631.38,520.51 631.64,519.71 631.87,518.15 632.09,516.08 632.31,513.71 632.54,511.26 632.77,508.62 632.99,505.57 633.22,502.23 633.44,498.70 633.67,495.09 633.91,491.51 634.15,487.90 634.40,484.18 634.65,480.38 634.90,476.54 635.17,472.71 635.46,468.93 635.74,465.25 636.03,461.64 636.33,458.04 636.65,454.39 637.01,450.62 637.42,446.67 637.89,442.35 638.44,437.69 639.02,432.91 639.61,428.25 640.18,423.94 640.70,420.20 641.17,416.92 641.60,413.88 642.02,411.19 642.43,408.95 642.84,407.27 643.28,406.24 643.73,405.87 644.18,406.09 644.63,406.85 645.10,408.15 645.60,409.94 646.14,412.20 646.73,415.16 647.37,418.88 648.03,423.10 648.70,427.55 649.37,431.97 650.00,436.10 650.62,440.13 651.23,444.32 651.84,448.47 652.43,452.41 652.98,455.94 653.50,458.88 653.97,461.31 654.39,463.41 654.79,465.11 655.16,466.32 655.53,467.00 655.90,467.06 656.27,466.34 656.63,464.87 656.98,462.86 657.32,460.51 657.66,458.04 658.00,455.66 658.30,453.61 658.54,451.76 658.78,449.79 659.07,447.37 659.43,444.16 659.93,439.83 660.60,433.95 661.44,426.69 662.35,418.64 663.28,410.40 664.16,402.56 664.90,395.70 665.50,389.94 666.02,384.83 666.47,380.11 666.90,375.54 667.33,370.85 667.80,365.80 668.32,360.15 668.87,354.06 669.42,347.85 669.94,341.87 670.41,336.44 670.80,331.90 671.09,328.30 671.30,325.40 671.46,323.04 671.59,321.11 671.69,319.48 671.80,318.00 671.91,316.79 671.99,315.96 672.06,315.43 672.12,315.09 672.16,314.85 672.20,314.60" fill="none" stroke="#ffc400" stroke-width="3.2" stroke-linejoin="round" stroke-linecap="round" clip-path="url(#clipd)"/>
<polyline points="416.40,422.80 417.62,422.59 419.31,422.30 421.32,421.96 423.49,421.61 425.66,421.27 427.70,421.00 429.49,420.77 431.14,420.57 432.80,420.38 434.63,420.22 436.77,420.09 439.40,420.00 442.61,419.94 446.31,419.92 450.32,419.93 454.50,419.97 458.68,420.02 462.70,420.10 466.74,420.19 470.96,420.29 475.18,420.41 479.22,420.57 482.89,420.76 486.00,421.00 488.45,421.29 490.38,421.62 491.93,421.99 493.28,422.39 494.58,422.83 496.00,423.30 497.49,423.79 498.91,424.30 500.29,424.84 501.65,425.43 503.01,426.08 504.40,426.80 505.81,427.64 507.23,428.61 508.65,429.64 510.07,430.66 511.49,431.60 512.90,432.40 514.31,433.04 515.71,433.57 517.11,434.03 518.50,434.44 519.90,434.82 521.30,435.20 522.75,435.56 524.25,435.86 525.76,436.14 527.20,436.42 528.54,436.73 529.70,437.10 530.66,437.46 531.44,437.76 532.11,438.10 532.73,438.55 533.34,439.19 534.00,440.10 534.71,441.22 535.41,442.47 536.11,443.92 536.80,445.61 537.50,447.62 538.20,450.00 538.92,452.87 539.65,456.20 540.39,459.85 541.10,463.65 541.78,467.45 542.40,471.10 542.96,474.68 543.46,478.34 543.93,482.01 544.37,485.59 544.79,489.01 545.20,492.20 545.60,495.22 545.97,498.16 546.33,500.94 546.67,503.49 546.99,505.74 547.30,507.60 547.59,509.01 547.85,510.00 548.10,510.68 548.34,511.17 548.57,511.57 548.80,512.00 549.00,512.46 549.17,512.87 549.32,513.19 549.51,513.40 549.76,513.44 550.10,513.30 550.53,513.05 551.02,512.74 551.58,512.28 552.19,511.57 552.86,510.50 553.60,509.00 554.41,507.01 555.29,504.59 556.23,501.83 557.22,498.79 558.25,495.56 559.30,492.20 560.41,488.62 561.59,484.74 562.81,480.66 564.03,476.49 565.21,472.33 566.30,468.30 567.29,464.37 568.19,460.46 569.06,456.56 569.92,452.69 570.82,448.83 571.80,445.00 572.85,441.19 573.94,437.39 575.07,433.61 576.24,429.87 577.45,426.16 578.70,422.50 580.04,418.84 581.47,415.17 582.94,411.53 584.40,407.99 585.80,404.59 587.10,401.40 588.30,398.36 589.43,395.43 590.51,392.64 591.53,390.05 592.50,387.69 593.40,385.60 594.25,383.81 595.05,382.28 595.79,380.98 596.47,379.89 597.07,378.97 597.60,378.20 598.00,377.61 598.29,377.24 598.49,377.05 598.68,376.99 598.90,377.02 599.20,377.10 599.59,377.22 600.04,377.40 600.52,377.68 601.00,378.07 601.47,378.60 601.90,379.30 602.28,380.12 602.64,381.04 602.99,382.09 603.32,383.34 603.66,384.83 604.00,386.60 604.35,388.63 604.70,390.88 605.05,393.36 605.40,396.11 605.75,399.15 606.10,402.50 606.45,406.27 606.80,410.46 607.16,414.94 607.51,419.57 607.86,424.24 608.20,428.80 608.54,433.36 608.89,438.06 609.23,442.77 609.57,447.42 609.89,451.90 610.20,456.10 610.49,460.05 610.76,463.83 611.02,467.44 611.28,470.87 611.54,474.13 611.80,477.20 612.07,480.17 612.35,483.06 612.63,485.77 612.90,488.21 613.16,490.28 613.40,491.90 613.59,493.03 613.75,493.76 613.89,494.11 614.04,494.16 614.24,493.93 614.50,493.50 614.82,492.93 615.16,492.21 615.54,491.23 615.98,489.87 616.49,488.03 617.10,485.60 617.86,482.00 618.79,477.21 619.78,471.93 620.77,466.88 621.67,462.77 622.40,460.30 622.94,459.55 623.34,459.97 623.65,461.33 623.92,463.39 624.19,465.93 624.50,468.70 624.84,471.99 625.18,476.03 625.52,480.54 625.86,485.25 626.22,489.86 626.60,494.10 627.02,498.32 627.47,502.80 627.93,507.20 628.39,511.14 628.82,514.26 629.20,516.20 629.52,516.83 629.81,516.43 630.06,515.20 630.30,513.37 630.54,511.17 630.80,508.80 631.07,506.08 631.33,502.78 631.60,499.11 631.87,495.24 632.13,491.38 632.40,487.70 632.66,484.18 632.91,480.67 633.17,477.15 633.43,473.63 633.70,470.12 634.00,466.60 634.30,463.16 634.60,459.80 634.91,456.45 635.25,453.01 635.64,449.39 636.10,445.50 636.66,441.14 637.30,436.32 637.99,431.33 638.70,426.43 639.38,421.90 640.00,418.00 640.55,414.60 641.07,411.46 641.56,408.68 642.03,406.37 642.51,404.64 643.00,403.60 643.49,403.25 643.96,403.50 644.44,404.34 644.93,405.72 645.44,407.62 646.00,410.00 646.61,413.11 647.28,417.03 647.97,421.46 648.67,426.13 649.35,430.73 650.00,435.00 650.62,439.12 651.24,443.36 651.85,447.54 652.43,451.49 652.99,455.03 653.50,458.00 653.97,460.47 654.39,462.61 654.79,464.35 655.16,465.61 655.53,466.31 655.90,466.40 656.27,465.69 656.63,464.22 656.98,462.19 657.33,459.84 657.67,457.37 658.00,455.00 658.29,452.98 658.53,451.19 658.77,449.27 659.04,446.91 659.41,443.77 659.90,439.50 660.58,433.68 661.41,426.48 662.34,418.50 663.27,410.32 664.15,402.52 664.90,395.70 665.50,389.96 666.02,384.85 666.47,380.13 666.90,375.55 667.34,370.85 667.80,365.80 668.32,360.15 668.87,354.06 669.42,347.85 669.94,341.87 670.41,336.44 670.80,331.90 671.09,328.30 671.30,325.40 671.46,323.04 671.59,321.11 671.69,319.48 671.80,318.00 671.91,316.79 671.99,315.96 672.06,315.43 672.12,315.09 672.16,314.85 672.20,314.60" fill="none" stroke="#ff0000" stroke-width="3.2" stroke-linejoin="round" stroke-linecap="round" clip-path="url(#clipd)"/>
<polyline points="416.40,413.86 418.85,413.85 422.23,413.84 426.23,413.83 430.56,413.82 434.90,413.83 438.95,413.86 442.76,413.91 446.59,413.96 450.43,414.03 454.29,414.12 458.14,414.23 461.99,414.36 465.84,414.53 469.68,414.73 473.52,414.96 477.37,415.18 481.24,415.39 485.14,415.56 489.21,415.68 493.47,415.76 497.76,415.82 501.88,415.88 505.64,415.95 508.87,416.06 511.50,416.17 513.66,416.29 515.46,416.41 517.03,416.57 518.49,416.78 519.95,417.06 521.36,417.40 522.61,417.80 523.75,418.25 524.81,418.75 525.84,419.28 526.87,419.85 527.90,420.43 528.90,421.02 529.87,421.64 530.79,422.34 531.67,423.13 532.51,424.05 533.31,425.10 534.06,426.27 534.77,427.53 535.44,428.88 536.07,430.29 536.66,431.73 537.19,433.18 537.64,434.61 538.05,436.11 538.46,437.73 538.91,439.55 539.43,441.62 540.05,444.05 540.72,446.80 541.42,449.75 542.15,452.75 542.88,455.68 543.59,458.40 544.28,460.93 544.97,463.40 545.66,465.79 546.36,468.10 547.05,470.33 547.74,472.48 548.43,474.53 549.12,476.49 549.81,478.38 550.50,480.19 551.20,481.95 551.90,483.66 552.62,485.40 553.39,487.16 554.15,488.87 554.89,490.44 555.56,491.79 556.15,492.85 556.60,493.57 556.95,494.02 557.24,494.25 557.51,494.33 557.82,494.31 558.23,494.25 558.70,494.17 559.20,494.04 559.74,493.82 560.33,493.45 560.97,492.91 561.69,492.15 562.47,491.30 563.33,490.41 564.25,489.35 565.21,487.97 566.20,486.12 567.23,483.66 568.32,480.34 569.50,476.23 570.72,471.65 571.93,466.93 573.05,462.40 574.05,458.40 574.87,455.00 575.54,451.96 576.15,449.12 576.74,446.29 577.40,443.32 578.20,440.02 579.17,436.29 580.24,432.24 581.38,428.04 582.54,423.86 583.67,419.88 584.73,416.26 585.72,412.94 586.68,409.77 587.62,406.79 588.53,404.06 589.41,401.61 590.27,399.48 591.14,397.72 592.02,396.30 592.88,395.17 593.68,394.26 594.37,393.52 594.92,392.89 595.26,392.41 595.42,392.13 595.48,392.02 595.51,392.05 595.59,392.18 595.81,392.39 596.16,392.66 596.59,393.02 597.08,393.48 597.58,394.06 598.09,394.79 598.58,395.69 599.04,396.74 599.50,397.93 599.96,399.26 600.42,400.75 600.89,402.38 601.35,404.17 601.81,406.14 602.28,408.28 602.74,410.58 603.21,413.00 603.67,415.53 604.12,418.15 604.56,420.94 604.99,423.94 605.43,427.04 605.85,430.16 606.27,433.18 606.69,436.03 607.09,438.66 607.46,441.15 607.84,443.55 608.22,445.92 608.62,448.32 609.06,450.81 609.53,453.39 610.02,456.03 610.53,458.70 611.07,461.36 611.63,464.00 612.23,466.59 612.86,469.13 613.54,471.66 614.24,474.17 614.96,476.63 615.68,479.03 616.38,481.36 617.08,483.63 617.80,485.83 618.52,487.97 619.22,490.06 619.90,492.08 620.53,494.05 621.12,495.93 621.66,497.74 622.18,499.49 622.68,501.19 623.18,502.87 623.70,504.53 624.23,506.34 624.76,508.32 625.29,510.26 625.82,511.99 626.34,513.30 626.86,514.02 627.39,514.11 627.93,513.74 628.46,512.95 628.98,511.81 629.48,510.39 629.93,508.73 630.32,506.76 630.65,504.44 630.96,501.82 631.27,498.99 631.61,496.01 632.01,492.95 632.47,489.68 632.98,486.12 633.52,482.41 634.08,478.71 634.63,475.14 635.17,471.88 635.71,468.80 636.27,465.76 636.82,462.87 637.36,460.23 637.87,457.94 638.34,456.10 638.75,454.70 639.11,453.67 639.44,452.99 639.76,452.64 640.08,452.62 640.41,452.90 640.76,453.63 641.11,454.81 641.45,456.33 641.80,458.02 642.14,459.76 642.49,461.39 642.84,463.20 643.18,465.35 643.53,467.54 643.87,469.47 644.22,470.85 644.57,471.38 644.91,470.94 645.26,469.75 645.61,468.00 645.95,465.90 646.30,463.63 646.64,461.39 646.99,458.87 647.34,455.83 647.68,452.63 648.03,449.61 648.37,447.13 648.72,445.52 649.05,444.94 649.37,445.17 649.69,445.92 650.02,446.94 650.39,447.96 650.80,448.71 651.26,449.32 651.77,450.01 652.31,450.71 652.87,451.31 653.42,451.74 653.96,451.91 654.49,451.83 655.02,451.58 655.56,451.16 656.09,450.55 656.61,449.74 657.13,448.71 657.64,447.37 658.16,445.70 658.67,443.83 659.17,441.88 659.65,439.97 660.09,438.23 660.50,436.72 660.87,435.39 661.23,434.09 661.57,432.71 661.91,431.13 662.27,429.24 662.65,426.90 663.05,424.19 663.45,421.27 663.84,418.34 664.21,415.54 664.54,413.06 664.81,411.11 665.02,409.60 665.20,408.22 665.40,406.71 665.66,404.75 666.03,402.08 666.54,398.50 667.17,394.22 667.86,389.51 668.55,384.62 669.18,379.84 669.69,375.41 670.06,371.42 670.34,367.67 670.56,364.01 670.75,360.31 670.94,356.43 671.17,352.25 671.44,347.46 671.73,342.11 672.02,336.58 672.30,331.27 672.55,326.54 672.75,322.79 672.92,320.10 673.05,318.18 673.15,316.85 673.23,315.94 673.29,315.24 673.35,314.60" fill="none" stroke="#000" stroke-width="3.2" stroke-linejoin="round" stroke-linecap="round" stroke-dasharray="3.3 5.2" clip-path="url(#clipd)"/>
<polyline points="55.50,701.00 56.71,701.86 58.39,703.14 60.37,704.61 62.51,706.05 64.67,707.26 66.70,708.00 68.62,708.25 70.57,708.17 72.53,707.84 74.49,707.37 76.45,706.82 78.40,706.30 80.27,705.72 82.05,705.00 83.83,704.22 85.69,703.44 87.72,702.74 90.00,702.20 92.59,701.78 95.43,701.41 98.43,701.12 101.52,700.94 104.60,700.89 107.60,701.00 110.61,701.36 113.72,701.97 116.83,702.71 119.83,703.46 122.62,704.10 125.10,704.50 127.12,704.64 128.73,704.63 130.14,704.49 131.52,704.30 133.08,704.08 135.00,703.90 137.38,703.69 140.09,703.40 142.97,703.09 145.87,702.83 148.63,702.68 151.10,702.70 153.27,702.91 155.24,703.26 157.09,703.72 158.84,704.26 160.57,704.87 162.30,705.50 164.04,706.21 165.75,707.03 167.43,707.91 169.06,708.79 170.65,709.64 172.20,710.40 173.62,711.06 174.90,711.64 176.14,712.19 177.43,712.73 178.89,713.29 180.60,713.90 182.72,714.53 185.19,715.14 187.83,715.78 190.42,716.47 192.78,717.23 194.70,718.10 196.14,719.02 197.25,719.96 198.12,720.98 198.85,722.14 199.55,723.49 200.30,725.10 201.10,726.99 201.86,729.12 202.57,731.44 203.26,733.93 203.90,736.52 204.50,739.20 205.05,741.99 205.54,744.94 205.99,748.00 206.43,751.14 206.86,754.32 207.30,757.50 207.73,760.72 208.12,764.01 208.51,767.35 208.93,770.69 209.42,773.98 210.00,777.20 210.72,780.61 211.57,784.29 212.48,787.92 213.40,791.21 214.26,793.84 215.00,795.50 215.60,796.07 216.11,795.78 216.56,794.83 217.00,793.42 217.47,791.74 218.00,790.00 218.60,788.08 219.24,785.81 219.91,783.28 220.60,780.57 221.30,777.78 222.00,775.00 222.71,772.16 223.43,769.19 224.17,766.13 224.91,763.04 225.66,759.98 226.40,757.00 227.15,754.09 227.90,751.19 228.66,748.31 229.41,745.48 230.16,742.71 230.90,740.00 231.64,737.35 232.37,734.74 233.10,732.19 233.82,729.70 234.52,727.30 235.20,725.00 235.85,722.80 236.49,720.69 237.11,718.66 237.71,716.70 238.31,714.82 238.90,713.00 239.49,711.23 240.09,709.50 240.67,707.84 241.24,706.28 241.78,704.82 242.30,703.50 242.79,702.32 243.24,701.28 243.68,700.34 244.10,699.50 244.50,698.73 244.90,698.00 245.28,697.30 245.64,696.63 245.99,696.03 246.33,695.54 246.66,695.18 247.00,695.00 247.34,694.94 247.69,694.96 248.04,695.12 248.37,695.48 248.70,696.09 249.00,697.00 249.28,698.24 249.54,699.78 249.78,701.56 250.02,703.56 250.26,705.72 250.50,708.00 250.75,710.51 251.01,713.30 251.27,716.25 251.52,719.26 251.77,722.21 252.00,725.00 252.22,727.62 252.42,730.15 252.61,732.63 252.80,735.07 253.00,737.52 253.20,740.00 253.41,742.51 253.61,745.04 253.81,747.56 254.03,750.07 254.25,752.56 254.50,755.00 254.77,757.46 255.07,759.96 255.38,762.44 255.69,764.81 256.00,767.03 256.30,769.00 256.59,770.75 256.89,772.33 257.19,773.75 257.47,775.00 257.75,776.08 258.00,777.00 258.20,777.90 258.35,778.81 258.48,779.56 258.64,779.96 258.87,779.84 259.20,779.00 259.68,777.23 260.27,774.63 260.93,771.50 261.60,768.15 262.24,764.88 262.80,762.00 263.27,759.19 263.69,756.15 264.07,753.19 264.44,750.63 264.81,748.79 265.20,748.00 265.60,748.32 266.00,749.52 266.39,751.44 266.79,753.93 267.19,756.83 267.60,760.00 268.02,763.79 268.44,768.39 268.87,773.41 269.29,778.44 269.71,783.11 270.10,787.00 270.46,790.40 270.80,793.69 271.12,796.59 271.45,798.87 271.80,800.26 272.20,800.50 272.64,799.62 273.10,797.81 273.59,795.13 274.11,791.57 274.64,787.19 275.20,782.00 275.79,775.47 276.41,767.47 277.06,758.64 277.71,749.61 278.36,741.02 279.00,733.50 279.64,726.89 280.29,720.66 280.94,714.86 281.57,709.56 282.17,704.82 282.70,700.70 283.18,697.31 283.61,694.62 284.01,692.49 284.37,690.77 284.70,689.32 285.00,688.00 285.26,686.91 285.49,686.19 285.68,685.74 285.85,685.46 286.02,685.25 286.20,685.00 286.38,684.71 286.53,684.47 286.69,684.29 286.86,684.20 287.05,684.23 287.30,684.40 287.61,684.71 287.96,685.14 288.34,685.68 288.74,686.34 289.13,687.11 289.50,688.00 289.82,688.76 290.11,689.34 290.40,690.03 290.71,691.13 291.06,692.92 291.50,695.70 292.03,699.83 292.63,705.17 293.29,711.19 293.97,717.41 294.65,723.31 295.30,728.40 295.96,732.98 296.64,737.53 297.32,741.76 297.97,745.40 298.58,748.17 299.10,749.80 299.53,750.02 299.87,749.00 300.17,747.12 300.44,744.74 300.71,742.24 301.00,740.00 301.28,738.23 301.52,736.68 301.76,735.01 302.04,732.89 302.40,729.96 302.90,725.90 303.55,720.37 304.34,713.57 305.21,705.98 306.12,698.06 307.03,690.28 307.90,683.10 308.76,676.48 309.64,670.03 310.52,663.73 311.37,657.52 312.18,651.39 312.90,645.30 313.55,638.99 314.15,632.44 314.70,625.97 315.19,619.88 315.63,614.48 316.00,610.10 316.29,606.91 316.51,604.69 316.66,603.16 316.78,602.06 316.89,601.10 317.00,600.00 317.12,598.81 317.22,597.77 317.31,596.87 317.39,596.11 317.45,595.48 317.50,595.00" fill="none" stroke="#9000ff" stroke-width="3.2" stroke-linejoin="round" stroke-linecap="round" clip-path="url(#clipe)"/>
<polyline points="55.50,702.39 56.69,702.87 58.32,703.59 60.26,704.41 62.39,705.21 64.57,705.86 66.70,706.23 68.79,706.30 70.95,706.16 73.17,705.88 75.45,705.50 77.78,705.09 80.14,704.70 82.54,704.29 84.97,703.80 87.45,703.28 89.99,702.77 92.60,702.33 95.28,702.00 98.09,701.76 101.04,701.57 104.06,701.44 107.08,701.40 110.03,701.45 112.85,701.61 115.61,701.95 118.37,702.48 121.06,703.10 123.62,703.73 125.98,704.28 128.07,704.67 129.74,704.86 131.01,704.91 132.08,704.89 133.14,704.84 134.39,704.83 136.02,704.92 138.12,705.09 140.57,705.30 143.20,705.54 145.86,705.82 148.41,706.14 150.68,706.51 152.66,706.92 154.47,707.39 156.16,707.89 157.78,708.43 159.39,708.98 161.04,709.55 162.74,710.13 164.46,710.75 166.17,711.39 167.83,712.03 169.43,712.66 170.94,713.26 172.29,713.80 173.50,714.30 174.64,714.78 175.80,715.29 177.06,715.85 178.50,716.52 180.22,717.24 182.17,717.98 184.21,718.79 186.23,719.69 188.08,720.73 189.63,721.94 190.85,723.32 191.85,724.83 192.68,726.48 193.41,728.26 194.10,730.19 194.81,732.27 195.53,734.52 196.21,736.93 196.85,739.48 197.45,742.16 198.03,744.94 198.59,747.80 199.12,750.83 199.61,754.07 200.07,757.41 200.51,760.75 200.95,764.00 201.39,767.05 201.81,769.93 202.20,772.69 202.58,775.37 202.98,777.96 203.43,780.47 203.94,782.91 204.55,785.46 205.24,788.15 205.98,790.75 206.72,793.07 207.43,794.88 208.07,795.98 208.61,796.29 209.08,796.00 209.52,795.19 209.96,794.00 210.44,792.52 211.01,790.88 211.66,788.98 212.38,786.71 213.14,784.16 213.92,781.42 214.71,778.59 215.49,775.75 216.27,772.82 217.06,769.71 217.86,766.51 218.66,763.29 219.46,760.15 220.25,757.17 221.03,754.41 221.79,751.82 222.55,749.31 223.32,746.77 224.11,744.12 224.93,741.26 225.79,738.11 226.69,734.73 227.60,731.23 228.52,727.74 229.43,724.35 230.31,721.19 231.17,718.25 232.01,715.44 232.84,712.73 233.67,710.13 234.49,707.60 235.30,705.15 236.13,702.72 236.96,700.33 237.79,698.03 238.60,695.85 239.37,693.85 240.08,692.08 240.73,690.54 241.33,689.22 241.90,688.07 242.43,687.07 242.93,686.19 243.40,685.39 243.83,684.66 244.22,684.04 244.58,683.53 244.93,683.15 245.28,682.92 245.65,682.86 246.05,682.92 246.47,683.06 246.90,683.35 247.31,683.86 247.71,684.63 248.07,685.75 248.39,687.17 248.67,688.85 248.93,690.81 249.18,693.05 249.44,695.60 249.72,698.45 250.03,701.81 250.36,705.71 250.70,709.90 251.03,714.16 251.35,718.23 251.64,721.87 251.90,725.07 252.13,728.01 252.35,730.77 252.56,733.41 252.77,736.01 252.99,738.64 253.20,741.28 253.41,743.85 253.61,746.39 253.82,748.90 254.04,751.39 254.29,753.88 254.57,756.43 254.87,759.06 255.19,761.67 255.51,764.17 255.84,766.49 256.15,768.52 256.46,770.29 256.78,771.86 257.09,773.23 257.39,774.43 257.68,775.46 257.94,776.32 258.14,777.17 258.27,778.02 258.39,778.71 258.54,779.05 258.75,778.86 259.08,777.98 259.56,776.18 260.16,773.56 260.83,770.41 261.52,767.05 262.17,763.76 262.74,760.84 263.22,757.97 263.64,754.83 264.03,751.77 264.41,749.13 264.78,747.25 265.17,746.47 265.57,746.89 265.98,748.26 266.38,750.40 266.78,753.11 267.19,756.21 267.60,759.52 268.02,763.41 268.44,768.07 268.87,773.13 269.29,778.20 269.71,782.87 270.10,786.76 270.46,790.14 270.80,793.36 271.12,796.20 271.45,798.40 271.80,799.74 272.20,799.96 272.64,799.09 273.10,797.33 273.59,794.70 274.11,791.22 274.64,786.90 275.20,781.76 275.79,775.28 276.41,767.33 277.06,758.54 277.71,749.56 278.36,741.00 279.00,733.50 279.64,726.91 280.29,720.68 280.94,714.88 281.57,709.57 282.17,704.82 282.70,700.70 283.18,697.31 283.61,694.62 284.01,692.49 284.37,690.77 284.70,689.32 285.00,688.00 285.26,686.91 285.49,686.19 285.68,685.74 285.85,685.46 286.02,685.25 286.20,685.00 286.38,684.71 286.53,684.47 286.69,684.29 286.86,684.20 287.05,684.23 287.30,684.40 287.61,684.71 287.96,685.14 288.34,685.68 288.74,686.34 289.13,687.11 289.50,688.00 289.82,688.76 290.11,689.34 290.40,690.03 290.71,691.13 291.06,692.92 291.50,695.70 292.03,699.83 292.63,705.17 293.29,711.19 293.97,717.41 294.65,723.31 295.30,728.40 295.96,732.98 296.64,737.53 297.32,741.76 297.97,745.40 298.58,748.17 299.10,749.80 299.53,750.02 299.87,749.00 300.17,747.12 300.44,744.74 300.71,742.24 301.00,740.00 301.28,738.23 301.52,736.68 301.76,735.01 302.04,732.89 302.40,729.96 302.90,725.90 303.55,720.37 304.34,713.57 305.21,705.98 306.12,698.06 307.03,690.28 307.90,683.10 308.76,676.48 309.64,670.03 310.52,663.73 311.37,657.52 312.18,651.39 312.90,645.30 313.55,638.99 314.15,632.44 314.70,625.97 315.19,619.88 315.63,614.48 316.00,610.10 316.29,606.91 316.51,604.69 316.66,603.16 316.78,602.06 316.89,601.10 317.00,600.00 317.12,598.81 317.22,597.77 317.31,596.87 317.39,596.11 317.45,595.48 317.50,595.00" fill="none" stroke="#1565ff" stroke-width="3.2" stroke-linejoin="round" stroke-linecap="round" clip-path="url(#clipe)"/>
<polyline points="55.50,703.46 56.68,703.65 58.27,703.93 60.18,704.26 62.29,704.56 64.50,704.79 66.70,704.88 68.91,704.81 71.23,704.63 73.65,704.37 76.16,704.07 78.75,703.76 81.42,703.48 84.20,703.20 87.11,702.88 90.11,702.56 93.14,702.26 96.17,702.01 99.15,701.84 102.13,701.74 105.16,701.69 108.19,701.69 111.15,701.75 114.01,701.87 116.70,702.08 119.27,702.41 121.77,702.87 124.16,703.40 126.40,703.94 128.44,704.42 130.25,704.80 131.66,705.02 132.68,705.13 133.50,705.19 134.33,705.26 135.35,705.41 136.77,705.70 138.67,706.16 140.92,706.75 143.37,707.41 145.86,708.11 148.25,708.80 150.37,709.42 152.22,709.99 153.90,710.55 155.48,711.09 157.00,711.62 158.53,712.13 160.12,712.64 161.79,713.13 163.51,713.59 165.24,714.05 166.93,714.50 168.54,714.96 170.02,715.44 171.32,715.90 172.48,716.32 173.55,716.76 174.61,717.24 175.72,717.81 176.96,718.52 178.38,719.31 179.95,720.16 181.57,721.09 183.16,722.16 184.63,723.40 185.91,724.88 186.98,726.61 187.89,728.55 188.69,730.68 189.41,732.95 190.10,735.32 190.78,737.76 191.45,740.27 192.07,742.90 192.65,745.63 193.20,748.45 193.73,751.37 194.26,754.38 194.77,757.60 195.25,761.05 195.72,764.60 196.17,768.10 196.62,771.40 197.06,774.36 197.47,776.97 197.86,779.33 198.23,781.50 198.62,783.52 199.03,785.43 199.50,787.28 200.02,789.17 200.60,791.10 201.21,792.92 201.83,794.49 202.43,795.68 202.99,796.34 203.48,796.47 203.93,796.16 204.35,795.47 204.80,794.44 205.30,793.12 205.88,791.56 206.58,789.67 207.34,787.39 208.17,784.83 209.02,782.07 209.88,779.20 210.72,776.32 211.54,773.32 212.38,770.11 213.23,766.80 214.07,763.49 214.91,760.29 215.74,757.30 216.54,754.66 217.31,752.31 218.07,750.07 218.86,747.76 219.67,745.20 220.55,742.22 221.50,738.69 222.52,734.72 223.57,730.50 224.63,726.23 225.69,722.09 226.72,718.28 227.73,714.77 228.73,711.42 229.72,708.20 230.70,705.09 231.68,702.08 232.66,699.14 233.66,696.22 234.67,693.32 235.69,690.52 236.67,687.88 237.60,685.46 238.45,683.34 239.22,681.54 239.93,680.00 240.59,678.69 241.20,677.57 241.77,676.60 242.30,675.74 242.78,675.00 243.18,674.41 243.55,673.96 243.90,673.67 244.26,673.55 244.66,673.58 245.10,673.72 245.58,673.96 246.06,674.35 246.54,674.97 246.99,675.88 247.39,677.14 247.73,678.70 248.03,680.50 248.30,682.59 248.56,685.02 248.84,687.86 249.15,691.14 249.50,695.15 249.88,699.90 250.28,705.05 250.67,710.26 251.04,715.18 251.38,719.48 251.67,723.12 251.93,726.38 252.16,729.35 252.39,732.14 252.61,734.85 252.84,737.60 253.05,740.33 253.26,742.95 253.46,745.50 253.66,748.00 253.89,750.50 254.14,753.02 254.42,755.65 254.73,758.37 255.05,761.08 255.39,763.68 255.72,766.07 256.04,768.16 256.36,769.94 256.69,771.49 257.02,772.84 257.34,773.99 257.63,774.97 257.90,775.80 258.09,776.61 258.22,777.42 258.33,778.06 258.46,778.35 258.67,778.12 258.99,777.20 259.47,775.38 260.08,772.74 260.76,769.58 261.46,766.21 262.12,762.90 262.70,759.96 263.18,757.04 263.61,753.83 264.00,750.69 264.38,747.98 264.75,746.06 265.15,745.30 265.56,745.80 265.96,747.31 266.37,749.60 266.78,752.48 267.19,755.74 267.60,759.16 268.02,763.11 268.44,767.83 268.87,772.93 269.29,778.01 269.71,782.69 270.10,786.58 270.46,789.93 270.80,793.12 271.12,795.90 271.45,798.05 271.80,799.34 272.20,799.54 272.64,798.68 273.10,796.96 273.59,794.37 274.11,790.94 274.64,786.67 275.20,781.58 275.79,775.13 276.41,767.22 277.06,758.47 277.71,749.51 278.36,740.98 279.00,733.50 279.64,726.92 280.29,720.69 280.94,714.89 281.57,709.58 282.17,704.83 282.70,700.70 283.18,697.31 283.61,694.62 284.01,692.49 284.37,690.77 284.70,689.32 285.00,688.00 285.26,686.91 285.49,686.19 285.68,685.74 285.85,685.46 286.02,685.25 286.20,685.00 286.38,684.71 286.53,684.47 286.69,684.29 286.86,684.20 287.05,684.23 287.30,684.40 287.61,684.71 287.96,685.14 288.34,685.68 288.74,686.34 289.13,687.11 289.50,688.00 289.82,688.76 290.11,689.34 290.40,690.03 290.71,691.13 291.06,692.92 291.50,695.70 292.03,699.83 292.63,705.17 293.29,711.19 293.97,717.41 294.65,723.31 295.30,728.40 295.96,732.98 296.64,737.53 297.32,741.76 297.97,745.40 298.58,748.17 299.10,749.80 299.53,750.02 299.87,749.00 300.17,747.12 300.44,744.74 300.71,742.24 301.00,740.00 301.28,738.23 301.52,736.68 301.76,735.01 302.04,732.89 302.40,729.96 302.90,725.90 303.55,720.37 304.34,713.57 305.21,705.98 306.12,698.06 307.03,690.28 307.90,683.10 308.76,676.48 309.64,670.03 310.52,663.73 311.37,657.52 312.18,651.39 312.90,645.30 313.55,638.99 314.15,632.44 314.70,625.97 315.19,619.88 315.63,614.48 316.00,610.10 316.29,606.91 316.51,604.69 316.66,603.16 316.78,602.06 316.89,601.10 317.00,600.00 317.12,598.81 317.22,597.77 317.31,596.87 317.39,596.11 317.45,595.48 317.50,595.00" fill="none" stroke="#10ee78" stroke-width="3.2" stroke-linejoin="round" stroke-linecap="round" clip-path="url(#clipe)"/>
<polyline points="55.50,704.40 56.66,704.33 58.23,704.24 60.10,704.12 62.20,703.99 64.43,703.84 66.70,703.68 69.03,703.50 71.50,703.28 74.10,703.04 76.83,702.80 79.68,702.59 82.63,702.40 85.79,702.23 89.15,702.07 92.64,701.92 96.15,701.80 99.58,701.73 102.85,701.70 105.99,701.73 109.10,701.80 112.13,701.90 115.05,702.05 117.81,702.25 120.38,702.49 122.77,702.81 125.02,703.22 127.12,703.66 129.05,704.12 130.79,704.55 132.33,704.91 133.49,705.17 134.27,705.32 134.86,705.45 135.46,705.63 136.27,705.92 137.48,706.39 139.19,707.11 141.26,708.04 143.53,709.07 145.86,710.14 148.09,711.14 150.08,712.00 151.79,712.70 153.36,713.34 154.82,713.91 156.25,714.44 157.70,714.92 159.23,715.38 160.88,715.78 162.61,716.11 164.36,716.40 166.07,716.69 167.68,717.00 169.13,717.37 170.39,717.76 171.50,718.12 172.50,718.51 173.46,718.97 174.44,719.55 175.49,720.29 176.63,721.15 177.83,722.08 179.04,723.12 180.22,724.34 181.34,725.77 182.36,727.48 183.28,729.51 184.11,731.84 184.88,734.40 185.60,737.09 186.29,739.86 186.94,742.61 187.56,745.37 188.12,748.18 188.64,751.06 189.14,754.02 189.63,757.06 190.12,760.20 190.61,763.58 191.10,767.23 191.57,770.97 192.03,774.60 192.48,777.95 192.92,780.82 193.33,783.19 193.71,785.20 194.08,786.93 194.45,788.44 194.84,789.82 195.25,791.14 195.70,792.46 196.18,793.71 196.66,794.83 197.16,795.74 197.65,796.38 198.14,796.66 198.59,796.62 199.00,796.30 199.42,795.71 199.87,794.83 200.38,793.65 200.99,792.16 201.72,790.28 202.54,788.00 203.42,785.42 204.34,782.64 205.26,779.74 206.16,776.83 207.04,773.77 207.92,770.47 208.81,767.06 209.70,763.66 210.57,760.40 211.44,757.42 212.25,754.88 213.03,752.74 213.80,750.74 214.59,748.63 215.44,746.16 216.37,743.07 217.41,739.20 218.54,734.71 219.72,729.86 220.92,724.90 222.13,720.10 223.30,715.70 224.45,711.70 225.59,707.87 226.73,704.19 227.87,700.64 229.01,697.20 230.14,693.83 231.30,690.47 232.49,687.12 233.67,683.88 234.83,680.82 235.91,678.04 236.90,675.61 237.78,673.57 238.60,671.84 239.34,670.39 240.03,669.16 240.66,668.11 241.25,667.21 241.76,666.45 242.19,665.89 242.57,665.50 242.92,665.29 243.29,665.25 243.72,665.37 244.20,665.59 244.72,665.90 245.26,666.39 245.79,667.10 246.29,668.13 246.74,669.53 247.11,671.21 247.42,673.11 247.70,675.32 247.97,677.92 248.27,681.01 248.60,684.68 249.00,689.26 249.43,694.77 249.88,700.76 250.33,706.81 250.75,712.49 251.12,717.36 251.44,721.40 251.73,724.93 251.98,728.09 252.22,731.01 252.45,733.83 252.69,736.68 252.91,739.49 253.12,742.15 253.32,744.70 253.52,747.21 253.74,749.71 253.99,752.26 254.28,754.95 254.59,757.75 254.92,760.55 255.26,763.24 255.60,765.71 255.94,767.84 256.27,769.63 256.61,771.17 256.95,772.49 257.28,773.61 257.58,774.55 257.85,775.34 258.05,776.12 258.17,776.88 258.27,777.48 258.39,777.73 258.59,777.46 258.91,776.51 259.39,774.66 260.00,772.01 260.69,768.85 261.40,765.46 262.07,762.14 262.65,759.18 263.14,756.21 263.57,752.94 263.97,749.73 264.35,746.96 264.73,745.02 265.13,744.26 265.54,744.84 265.95,746.46 266.36,748.90 266.77,751.92 267.19,755.32 267.60,758.84 268.02,762.85 268.45,767.62 268.87,772.74 269.30,777.84 269.71,782.53 270.10,786.42 270.46,789.76 270.80,792.90 271.12,795.63 271.45,797.73 271.80,798.98 272.20,799.17 272.64,798.33 273.10,796.63 273.59,794.09 274.11,790.70 274.64,786.48 275.20,781.42 275.79,775.00 276.41,767.12 277.06,758.40 277.71,749.47 278.36,740.96 279.00,733.50 279.64,726.93 280.29,720.70 280.94,714.90 281.57,709.58 282.17,704.83 282.70,700.70 283.18,697.31 283.61,694.62 284.01,692.49 284.37,690.77 284.70,689.32 285.00,688.00 285.26,686.91 285.49,686.19 285.68,685.74 285.85,685.46 286.02,685.25 286.20,685.00 286.38,684.71 286.53,684.47 286.69,684.29 286.86,684.20 287.05,684.23 287.30,684.40 287.61,684.71 287.96,685.14 288.34,685.68 288.74,686.34 289.13,687.11 289.50,688.00 289.82,688.76 290.11,689.34 290.40,690.03 290.71,691.13 291.06,692.92 291.50,695.70 292.03,699.83 292.63,705.17 293.29,711.19 293.97,717.41 294.65,723.31 295.30,728.40 295.96,732.98 296.64,737.53 297.32,741.76 297.97,745.40 298.58,748.17 299.10,749.80 299.53,750.02 299.87,749.00 300.17,747.12 300.44,744.74 300.71,742.24 301.00,740.00 301.28,738.23 301.52,736.68 301.76,735.01 302.04,732.89 302.40,729.96 302.90,725.90 303.55,720.37 304.34,713.57 305.21,705.98 306.12,698.06 307.03,690.28 307.90,683.10 308.76,676.48 309.64,670.03 310.52,663.73 311.37,657.52 312.18,651.39 312.90,645.30 313.55,638.99 314.15,632.44 314.70,625.97 315.19,619.88 315.63,614.48 316.00,610.10 316.29,606.91 316.51,604.69 316.66,603.16 316.78,602.06 316.89,601.10 317.00,600.00 317.12,598.81 317.22,597.77 317.31,596.87 317.39,596.11 317.45,595.48 317.50,595.00" fill="none" stroke="#ffc400" stroke-width="3.2" stroke-linejoin="round" stroke-linecap="round" clip-path="url(#clipe)"/>
<polyline points="55.50,705.10 56.65,704.84 58.17,704.46 60.01,704.03 62.09,703.57 64.34,703.15 66.70,702.80 69.18,702.52 71.85,702.27 74.69,702.06 77.70,701.87 80.87,701.72 84.20,701.60 87.83,701.52 91.78,701.47 95.90,701.45 100.02,701.47 103.97,701.52 107.60,701.60 110.95,701.72 114.15,701.87 117.19,702.06 120.05,702.28 122.69,702.53 125.10,702.80 127.27,703.11 129.20,703.47 130.93,703.86 132.46,704.25 133.81,704.64 135.00,705.00 135.85,705.28 136.32,705.47 136.61,705.65 136.92,705.90 137.45,706.29 138.40,706.90 139.86,707.81 141.69,708.99 143.74,710.30 145.86,711.64 147.89,712.88 149.70,713.90 151.25,714.71 152.66,715.40 153.99,716.00 155.30,716.52 156.65,716.98 158.10,717.40 159.71,717.74 161.45,717.97 163.23,718.14 164.96,718.31 166.58,718.51 168.00,718.80 169.20,719.13 170.24,719.44 171.16,719.80 172.00,720.24 172.80,720.83 173.60,721.60 174.38,722.51 175.10,723.50 175.79,724.62 176.45,725.95 177.12,727.52 177.80,729.40 178.52,731.66 179.25,734.28 179.99,737.14 180.70,740.16 181.38,743.21 182.00,746.20 182.55,749.13 183.04,752.09 183.49,755.08 183.92,758.14 184.35,761.27 184.80,764.50 185.27,768.00 185.76,771.80 186.24,775.67 186.71,779.40 187.17,782.79 187.60,785.60 188.00,787.80 188.38,789.54 188.74,790.94 189.10,792.08 189.45,793.07 189.80,794.00 190.15,794.88 190.48,795.64 190.81,796.24 191.15,796.67 191.51,796.90 191.90,796.90 192.29,796.73 192.68,796.41 193.08,795.89 193.53,795.12 194.06,794.04 194.70,792.60 195.47,790.73 196.36,788.45 197.32,785.86 198.33,783.06 199.33,780.14 200.30,777.20 201.24,774.10 202.19,770.73 203.13,767.25 204.07,763.79 205.00,760.49 205.90,757.50 206.75,755.04 207.53,753.06 208.31,751.24 209.11,749.27 209.99,746.86 211.00,743.70 212.15,739.58 213.42,734.70 214.77,729.38 216.16,723.92 217.55,718.62 218.90,713.80 220.23,709.42 221.56,705.24 222.89,701.23 224.23,697.36 225.57,693.59 226.90,689.90 228.27,686.21 229.68,682.54 231.09,678.97 232.46,675.61 233.74,672.55 234.90,669.90 235.93,667.68 236.88,665.81 237.74,664.25 238.52,662.94 239.24,661.84 239.90,660.90 240.46,660.13 240.91,659.59 241.30,659.25 241.66,659.10 242.05,659.12 242.50,659.30 243.04,659.58 243.63,659.95 244.24,660.50 244.84,661.29 245.41,662.40 245.90,663.90 246.30,665.68 246.64,667.65 246.93,669.94 247.22,672.67 247.53,675.95 247.90,679.90 248.35,684.91 248.84,690.97 249.37,697.59 249.89,704.26 250.38,710.49 250.80,715.80 251.16,720.13 251.47,723.86 251.75,727.16 252.01,730.18 252.25,733.08 252.50,736.00 252.73,738.87 252.94,741.56 253.13,744.12 253.33,746.62 253.55,749.12 253.80,751.70 254.09,754.44 254.41,757.30 254.76,760.17 255.11,762.92 255.46,765.44 255.80,767.60 256.14,769.40 256.50,770.93 256.86,772.23 257.21,773.32 257.52,774.24 257.80,775.00 257.99,775.75 258.10,776.49 258.19,777.05 258.30,777.27 258.48,776.97 258.80,776.00 259.29,774.14 259.91,771.48 260.61,768.31 261.33,764.91 262.01,761.58 262.60,758.60 263.09,755.60 263.53,752.28 263.93,749.02 264.31,746.21 264.70,744.24 265.10,743.50 265.52,744.12 265.93,745.83 266.35,748.38 266.77,751.51 267.18,755.00 267.60,758.60 268.02,762.66 268.45,767.46 268.88,772.61 269.30,777.72 269.71,782.41 270.10,786.30 270.46,789.62 270.80,792.74 271.12,795.43 271.45,797.50 271.80,798.72 272.20,798.90 272.64,798.06 273.10,796.39 273.59,793.87 274.11,790.52 274.64,786.33 275.20,781.30 275.79,774.91 276.41,767.05 277.06,758.35 277.71,749.44 278.36,740.95 279.00,733.50 279.64,726.93 280.29,720.71 280.94,714.91 281.57,709.59 282.17,704.83 282.70,700.70 283.18,697.31 283.61,694.62 284.01,692.49 284.37,690.77 284.70,689.32 285.00,688.00 285.26,686.91 285.49,686.19 285.68,685.74 285.85,685.46 286.02,685.25 286.20,685.00 286.38,684.71 286.53,684.47 286.69,684.29 286.86,684.20 287.05,684.23 287.30,684.40 287.61,684.71 287.96,685.14 288.34,685.68 288.74,686.34 289.13,687.11 289.50,688.00 289.82,688.76 290.11,689.34 290.40,690.03 290.71,691.13 291.06,692.92 291.50,695.70 292.03,699.83 292.63,705.17 293.29,711.19 293.97,717.41 294.65,723.31 295.30,728.40 295.96,732.98 296.64,737.53 297.32,741.76 297.97,745.40 298.58,748.17 299.10,749.80 299.53,750.02 299.87,749.00 300.17,747.12 300.44,744.74 300.71,742.24 301.00,740.00 301.28,738.23 301.52,736.68 301.76,735.01 302.04,732.89 302.40,729.96 302.90,725.90 303.55,720.37 304.34,713.57 305.21,705.98 306.12,698.06 307.03,690.28 307.90,683.10 308.76,676.48 309.64,670.03 310.52,663.73 311.37,657.52 312.18,651.39 312.90,645.30 313.55,638.99 314.15,632.44 314.70,625.97 315.19,619.88 315.63,614.48 316.00,610.10 316.29,606.91 316.51,604.69 316.66,603.16 316.78,602.06 316.89,601.10 317.00,600.00 317.12,598.81 317.22,597.77 317.31,596.87 317.39,596.11 317.45,595.48 317.50,595.00" fill="none" stroke="#ff0000" stroke-width="3.2" stroke-linejoin="round" stroke-linecap="round" clip-path="url(#clipe)"/>
<polyline points="55.50,695.52 57.99,695.51 61.44,695.50 65.52,695.49 69.93,695.48 74.35,695.49 78.47,695.52 82.36,695.57 86.26,695.62 90.17,695.70 94.10,695.79 98.02,695.89 101.95,696.03 105.87,696.20 109.78,696.40 113.69,696.63 117.62,696.86 121.56,697.07 125.53,697.24 129.67,697.36 134.02,697.44 138.39,697.50 142.58,697.57 146.42,697.64 149.71,697.74 152.38,697.86 154.58,697.98 156.42,698.11 158.02,698.27 159.51,698.48 160.99,698.76 162.43,699.11 163.71,699.51 164.87,699.97 165.95,700.47 167.00,701.01 168.05,701.59 169.10,702.17 170.11,702.77 171.09,703.40 172.04,704.10 172.93,704.91 173.79,705.83 174.60,706.90 175.36,708.09 176.09,709.37 176.77,710.73 177.41,712.15 178.02,713.62 178.56,715.08 179.01,716.54 179.43,718.05 179.85,719.70 180.31,721.54 180.84,723.63 181.47,726.09 182.15,728.88 182.87,731.86 183.61,734.90 184.35,737.87 185.07,740.62 185.78,743.19 186.48,745.69 187.19,748.11 187.90,750.45 188.60,752.71 189.31,754.88 190.01,756.96 190.71,758.95 191.42,760.85 192.12,762.69 192.83,764.47 193.54,766.21 194.28,767.97 195.06,769.75 195.84,771.48 196.59,773.07 197.28,774.44 197.87,775.51 198.33,776.24 198.69,776.70 198.98,776.93 199.26,777.01 199.58,776.99 199.99,776.93 200.47,776.85 200.98,776.72 201.53,776.49 202.13,776.12 202.79,775.57 203.51,774.80 204.32,773.94 205.19,773.05 206.12,771.97 207.10,770.57 208.11,768.70 209.15,766.21 210.27,762.85 211.48,758.68 212.72,754.04 213.94,749.26 215.09,744.68 216.11,740.62 216.94,737.18 217.63,734.11 218.24,731.22 218.85,728.36 219.53,725.35 220.34,722.02 221.32,718.24 222.41,714.13 223.58,709.88 224.76,705.65 225.91,701.61 226.99,697.95 228.00,694.59 228.98,691.38 229.93,688.37 230.86,685.59 231.76,683.11 232.63,680.96 233.52,679.18 234.42,677.74 235.30,676.59 236.11,675.67 236.81,674.92 237.37,674.28 237.72,673.80 237.88,673.52 237.94,673.40 237.97,673.43 238.06,673.57 238.27,673.78 238.63,674.05 239.07,674.41 239.56,674.88 240.08,675.47 240.60,676.21 241.09,677.11 241.57,678.18 242.04,679.38 242.51,680.74 242.98,682.24 243.45,683.90 243.92,685.71 244.39,687.70 244.86,689.87 245.34,692.20 245.81,694.65 246.28,697.22 246.74,699.87 247.19,702.69 247.63,705.73 248.07,708.87 248.51,712.02 248.93,715.09 249.36,717.97 249.76,720.63 250.15,723.15 250.53,725.59 250.92,727.99 251.33,730.42 251.78,732.94 252.25,735.55 252.75,738.23 253.27,740.93 253.82,743.63 254.39,746.30 255.00,748.91 255.65,751.49 256.34,754.06 257.05,756.59 257.78,759.09 258.51,761.52 259.23,763.88 259.95,766.17 260.68,768.40 261.41,770.58 262.13,772.69 262.82,774.74 263.46,776.72 264.06,778.63 264.61,780.47 265.14,782.24 265.65,783.96 266.16,785.66 266.69,787.34 267.23,789.18 267.77,791.17 268.31,793.15 268.84,794.89 269.38,796.23 269.91,796.95 270.45,797.05 271.00,796.67 271.54,795.87 272.07,794.72 272.57,793.27 273.03,791.59 273.43,789.60 273.77,787.25 274.09,784.60 274.40,781.73 274.75,778.71 275.15,775.61 275.62,772.30 276.14,768.70 276.69,764.94 277.26,761.19 277.82,757.58 278.38,754.27 278.93,751.15 279.49,748.08 280.06,745.15 280.61,742.48 281.13,740.16 281.60,738.30 282.02,736.88 282.39,735.84 282.73,735.14 283.05,734.79 283.38,734.77 283.72,735.06 284.07,735.79 284.42,736.99 284.77,738.52 285.13,740.24 285.48,742.00 285.83,743.66 286.18,745.49 286.54,747.66 286.89,749.88 287.24,751.84 287.59,753.24 287.95,753.77 288.30,753.32 288.65,752.12 289.01,750.35 289.36,748.22 289.71,745.92 290.06,743.66 290.42,741.10 290.77,738.02 291.12,734.78 291.47,731.73 291.83,729.21 292.18,727.58 292.52,727.00 292.84,727.23 293.17,727.99 293.51,729.02 293.88,730.05 294.29,730.81 294.77,731.43 295.29,732.13 295.84,732.84 296.40,733.45 296.97,733.88 297.52,734.05 298.06,733.97 298.60,733.72 299.14,733.30 299.68,732.68 300.22,731.85 300.74,730.81 301.27,729.45 301.80,727.76 302.32,725.87 302.83,723.90 303.31,721.96 303.77,720.19 304.18,718.67 304.56,717.32 304.92,716.00 305.27,714.61 305.62,713.01 305.98,711.09 306.37,708.72 306.78,705.98 307.19,703.03 307.58,700.05 307.96,697.22 308.30,694.71 308.57,692.74 308.78,691.20 308.97,689.81 309.17,688.28 309.44,686.30 309.81,683.59 310.33,679.96 310.97,675.63 311.68,670.86 312.38,665.91 313.02,661.07 313.54,656.59 313.92,652.54 314.20,648.74 314.43,645.03 314.62,641.29 314.82,637.36 315.05,633.12 315.33,628.27 315.62,622.85 315.91,617.26 316.20,611.88 316.45,607.09 316.66,603.29 316.83,600.57 316.96,598.63 317.07,597.28 317.15,596.35 317.21,595.65 317.27,595.00" fill="none" stroke="#000" stroke-width="3.2" stroke-linejoin="round" stroke-linecap="round" stroke-dasharray="3.3 5.2" clip-path="url(#clipe)"/>
<polyline points="415.50,705.40 416.71,705.37 418.39,705.35 420.37,705.32 422.51,705.24 424.67,705.07 426.70,704.80 428.49,704.36 430.13,703.76 431.79,703.09 433.62,702.40 435.77,701.78 438.40,701.30 441.68,700.94 445.52,700.64 449.69,700.41 453.93,700.24 458.02,700.13 461.70,700.10 464.97,700.20 468.03,700.43 470.92,700.74 473.71,701.03 476.45,701.25 479.20,701.30 481.96,701.15 484.69,700.84 487.36,700.46 489.98,700.06 492.53,699.71 495.00,699.50 497.37,699.38 499.64,699.30 501.85,699.27 504.01,699.33 506.15,699.49 508.30,699.80 510.46,700.27 512.60,700.89 514.72,701.62 516.82,702.42 518.88,703.26 520.90,704.10 522.86,704.99 524.77,705.97 526.64,706.99 528.49,707.99 530.34,708.91 532.20,709.70 534.10,710.33 536.04,710.84 537.98,711.28 539.87,711.67 541.69,712.07 543.40,712.50 545.01,712.93 546.54,713.33 548.00,713.73 549.38,714.16 550.68,714.67 551.90,715.30 553.02,715.97 554.03,716.64 554.97,717.39 555.84,718.30 556.68,719.44 557.50,720.90 558.28,722.71 559.00,724.81 559.69,727.16 560.35,729.67 561.02,732.31 561.70,735.00 562.42,737.87 563.16,741.00 563.90,744.24 564.62,747.46 565.29,750.53 565.90,753.30 566.43,755.78 566.91,758.09 567.34,760.23 567.74,762.25 568.12,764.16 568.50,766.00 568.86,767.77 569.19,769.45 569.49,771.02 569.80,772.49 570.13,773.81 570.50,775.00 570.90,776.08 571.33,777.06 571.77,777.92 572.23,778.60 572.71,779.08 573.20,779.30 573.71,779.25 574.23,778.95 574.77,778.44 575.33,777.76 575.90,776.93 576.50,776.00 577.11,774.96 577.74,773.79 578.39,772.47 579.06,771.01 579.76,769.39 580.50,767.60 581.29,765.63 582.11,763.47 582.98,761.16 583.85,758.71 584.73,756.15 585.60,753.50 586.46,750.70 587.33,747.71 588.20,744.61 589.07,741.48 589.94,738.38 590.80,735.40 591.65,732.51 592.50,729.64 593.35,726.81 594.20,724.03 595.05,721.32 595.90,718.70 596.78,716.14 597.67,713.64 598.58,711.20 599.46,708.85 600.31,706.61 601.10,704.50 601.84,702.48 602.55,700.54 603.22,698.71 603.85,697.01 604.45,695.50 605.00,694.20 605.50,693.15 605.96,692.33 606.37,691.69 606.76,691.17 607.13,690.73 607.50,690.30 607.86,689.89 608.20,689.55 608.53,689.28 608.85,689.09 609.17,689.00 609.50,689.00 609.84,689.08 610.18,689.24 610.52,689.48 610.86,689.84 611.19,690.34 611.50,691.00 611.78,691.73 612.04,692.50 612.29,693.41 612.54,694.56 612.80,696.05 613.10,698.00 613.43,700.43 613.79,703.25 614.17,706.43 614.55,709.89 614.93,713.60 615.30,717.50 615.66,721.86 616.03,726.77 616.39,731.93 616.74,737.01 617.08,741.70 617.40,745.70 617.69,748.94 617.97,751.67 618.23,754.02 618.48,756.10 618.73,758.06 619.00,760.00 619.29,761.94 619.60,763.78 619.92,765.48 620.22,767.02 620.48,768.37 620.70,769.50 620.83,770.31 620.89,770.79 620.91,771.09 620.94,771.32 621.02,771.61 621.20,772.10 621.50,772.77 621.90,773.52 622.36,774.34 622.82,775.20 623.25,776.09 623.60,777.00 623.87,777.90 624.09,778.81 624.27,779.76 624.44,780.75 624.61,781.83 624.80,783.00 625.01,784.32 625.23,785.79 625.45,787.33 625.67,788.88 625.89,790.39 626.10,791.80 626.31,793.13 626.53,794.44 626.74,795.70 626.94,796.90 627.13,798.00 627.30,799.00 627.45,799.86 627.58,800.61 627.69,801.26 627.80,801.86 627.90,802.43 628.00,803.00 628.07,803.87 628.11,805.07 628.14,806.25 628.19,807.04 628.30,807.07 628.50,806.00 628.80,803.60 629.19,800.11 629.62,795.88 630.09,791.23 630.56,786.49 631.00,782.00 631.40,777.78 631.79,773.56 632.18,769.26 632.59,764.77 633.02,760.02 633.50,754.90 634.04,749.17 634.61,742.87 635.23,736.29 635.85,729.75 636.48,723.55 637.10,718.00 637.74,712.97 638.41,708.18 639.09,703.73 639.73,699.72 640.32,696.25 640.80,693.40 641.17,691.35 641.45,690.05 641.66,689.29 641.84,688.84 642.01,688.48 642.20,688.00 642.38,687.36 642.54,686.73 642.68,686.20 642.84,685.84 643.04,685.75 643.30,686.00 643.62,686.43 643.99,686.95 644.39,687.73 644.83,688.95 645.30,690.78 645.80,693.40 646.35,697.18 646.97,702.06 647.62,707.54 648.27,713.17 648.87,718.45 649.40,722.90 649.84,726.58 650.23,729.87 650.58,732.83 650.89,735.47 651.20,737.85 651.50,740.00 651.79,741.98 652.06,743.77 652.31,745.29 652.56,746.47 652.82,747.23 653.10,747.50 653.40,747.14 653.71,746.19 654.04,744.83 654.36,743.22 654.69,741.55 655.00,740.00 655.28,738.77 655.54,737.76 655.79,736.68 656.06,735.27 656.39,733.23 656.80,730.30 657.31,726.23 657.89,721.19 658.53,715.54 659.20,709.61 659.86,703.75 660.50,698.30 661.12,693.18 661.73,688.10 662.35,683.09 662.97,678.18 663.58,673.40 664.20,668.80 664.83,664.42 665.48,660.24 666.13,656.19 666.76,652.22 667.35,648.24 667.90,644.20 668.40,640.10 668.85,636.01 669.27,631.92 669.67,627.83 670.04,623.72 670.40,619.60 670.75,615.17 671.09,610.37 671.41,605.56 671.69,601.10 671.92,597.32 672.10,594.60" fill="none" stroke="#9000ff" stroke-width="3.2" stroke-linejoin="round" stroke-linecap="round" clip-path="url(#clipf)"/>
<polyline points="415.50,704.05 416.70,703.96 418.33,703.85 420.28,703.71 422.41,703.53 424.59,703.32 426.70,703.05 428.67,702.70 430.60,702.25 432.59,701.77 434.72,701.28 437.09,700.85 439.81,700.51 442.98,700.25 446.57,700.03 450.39,699.86 454.30,699.74 458.12,699.69 461.70,699.70 465.08,699.83 468.40,700.06 471.64,700.36 474.77,700.66 477.78,700.93 480.63,701.10 483.33,701.17 485.89,701.17 488.32,701.12 490.64,701.07 492.86,701.04 495.00,701.05 497.00,701.07 498.85,701.05 500.60,701.05 502.31,701.13 504.06,701.32 505.89,701.68 507.84,702.26 509.86,703.02 511.91,703.91 513.94,704.85 515.93,705.78 517.84,706.64 519.64,707.46 521.37,708.31 523.05,709.14 524.72,709.94 526.39,710.68 528.09,711.32 529.87,711.84 531.69,712.26 533.53,712.62 535.32,712.95 537.03,713.28 538.61,713.65 540.06,714.01 541.41,714.30 542.68,714.59 543.88,714.96 545.01,715.48 546.09,716.22 547.11,717.14 548.06,718.18 548.95,719.36 549.78,720.73 550.58,722.32 551.35,724.17 552.08,726.31 552.74,728.73 553.37,731.38 553.98,734.19 554.58,737.12 555.21,740.12 555.87,743.29 556.54,746.71 557.22,750.25 557.87,753.77 558.50,757.16 559.07,760.26 559.59,763.14 560.07,765.88 560.52,768.49 560.94,770.93 561.33,773.19 561.72,775.24 562.08,777.07 562.40,778.68 562.70,780.10 563.00,781.38 563.31,782.53 563.65,783.58 564.01,784.59 564.38,785.55 564.76,786.38 565.16,787.02 565.59,787.40 566.06,787.45 566.56,787.18 567.08,786.64 567.64,785.84 568.23,784.79 568.84,783.48 569.48,781.94 570.14,780.10 570.83,777.95 571.55,775.55 572.30,772.96 573.08,770.26 573.89,767.50 574.75,764.69 575.64,761.78 576.57,758.76 577.52,755.59 578.49,752.27 579.45,748.78 580.42,745.00 581.41,740.94 582.42,736.71 583.42,732.47 584.43,728.36 585.43,724.51 586.42,720.92 587.41,717.47 588.40,714.15 589.39,710.93 590.38,707.80 591.38,704.74 592.39,701.73 593.43,698.78 594.46,695.91 595.48,693.16 596.48,690.53 597.43,688.07 598.35,685.72 599.26,683.48 600.14,681.37 600.98,679.42 601.77,677.67 602.50,676.15 603.15,674.89 603.74,673.87 604.27,673.05 604.77,672.38 605.24,671.79 605.70,671.26 606.14,670.77 606.53,670.37 606.90,670.07 607.26,669.87 607.62,669.77 607.99,669.79 608.39,669.91 608.79,670.10 609.20,670.40 609.60,670.84 609.99,671.43 610.36,672.22 610.70,673.10 611.01,674.02 611.32,675.10 611.62,676.46 611.92,678.23 612.25,680.51 612.60,683.38 612.96,686.75 613.32,690.53 613.70,694.60 614.06,698.86 614.43,703.21 614.78,707.85 615.14,712.89 615.49,718.12 615.85,723.34 616.19,728.31 616.53,732.83 616.85,736.90 617.16,740.70 617.46,744.26 617.77,747.62 618.07,750.81 618.39,753.86 618.74,756.84 619.11,759.73 619.48,762.44 619.84,764.91 620.16,767.06 620.43,768.81 620.62,770.01 620.72,770.71 620.79,771.08 620.87,771.31 620.99,771.59 621.20,772.10 621.52,772.81 621.92,773.57 622.37,774.38 622.83,775.23 623.25,776.10 623.60,777.00 623.87,777.90 624.09,778.81 624.27,779.76 624.44,780.75 624.61,781.83 624.80,783.00 625.01,784.32 625.23,785.79 625.45,787.33 625.67,788.88 625.89,790.39 626.10,791.80 626.31,793.13 626.53,794.44 626.74,795.70 626.94,796.90 627.13,798.00 627.30,799.00 627.45,799.86 627.58,800.61 627.69,801.26 627.80,801.86 627.90,802.43 628.00,803.00 628.07,803.87 628.11,805.07 628.14,806.25 628.19,807.04 628.30,807.07 628.50,806.00 628.80,803.60 629.19,800.11 629.62,795.88 630.09,791.23 630.56,786.49 631.00,782.00 631.40,777.78 631.79,773.56 632.18,769.26 632.59,764.77 633.02,760.02 633.50,754.90 634.04,749.17 634.61,742.87 635.23,736.29 635.85,729.75 636.48,723.55 637.10,718.00 637.74,712.97 638.41,708.18 639.09,703.73 639.73,699.72 640.32,696.25 640.80,693.40 641.17,691.35 641.45,690.05 641.66,689.29 641.84,688.84 642.01,688.48 642.20,688.00 642.38,687.36 642.54,686.73 642.68,686.20 642.84,685.84 643.04,685.75 643.30,686.00 643.62,686.43 643.99,686.95 644.39,687.73 644.83,688.95 645.30,690.78 645.80,693.40 646.35,697.18 646.97,702.06 647.62,707.54 648.27,713.17 648.87,718.45 649.40,722.90 649.84,726.58 650.23,729.87 650.58,732.83 650.89,735.47 651.20,737.85 651.50,740.00 651.79,741.98 652.06,743.77 652.31,745.29 652.56,746.47 652.82,747.23 653.10,747.50 653.40,747.14 653.71,746.19 654.04,744.83 654.36,743.22 654.69,741.55 655.00,740.00 655.28,738.77 655.54,737.76 655.79,736.68 656.06,735.27 656.39,733.23 656.80,730.30 657.31,726.23 657.89,721.19 658.53,715.54 659.20,709.61 659.86,703.75 660.50,698.30 661.12,693.18 661.73,688.10 662.35,683.09 662.97,678.18 663.58,673.40 664.20,668.80 664.83,664.42 665.48,660.24 666.13,656.19 666.76,652.22 667.35,648.24 667.90,644.20 668.40,640.10 668.85,636.01 669.27,631.92 669.67,627.83 670.04,623.72 670.40,619.60 670.75,615.17 671.09,610.37 671.41,605.56 671.69,601.10 671.92,597.32 672.10,594.60" fill="none" stroke="#1565ff" stroke-width="3.2" stroke-linejoin="round" stroke-linecap="round" clip-path="url(#clipf)"/>
<polyline points="415.50,702.82 416.68,702.67 418.28,702.48 420.19,702.24 422.30,701.99 424.51,701.72 426.70,701.46 428.87,701.19 431.11,700.88 433.44,700.57 435.90,700.27 438.52,700.00 441.33,699.79 444.39,699.62 447.69,699.47 451.15,699.36 454.69,699.30 458.23,699.29 461.70,699.34 465.20,699.49 468.80,699.72 472.41,700.01 475.92,700.32 479.21,700.64 482.18,700.92 484.81,701.19 487.19,701.46 489.35,701.73 491.34,701.99 493.21,702.24 495.00,702.46 496.61,702.60 497.99,702.64 499.25,702.67 500.48,702.76 501.80,702.98 503.30,703.39 505.03,704.07 506.91,704.97 508.87,705.99 510.84,707.05 512.75,708.07 514.54,708.95 516.17,709.71 517.71,710.43 519.19,711.10 520.65,711.71 522.13,712.28 523.67,712.79 525.30,713.21 527.00,713.55 528.73,713.84 530.42,714.10 532.01,714.38 533.45,714.71 534.73,714.98 535.89,715.17 536.95,715.37 537.94,715.69 538.89,716.22 539.83,717.06 540.75,718.21 541.62,719.57 542.46,721.15 543.25,722.93 544.01,724.93 544.72,727.14 545.39,729.59 545.99,732.30 546.56,735.22 547.10,738.30 547.65,741.50 548.22,744.76 548.81,748.22 549.41,751.91 550.01,755.72 550.60,759.52 551.17,763.18 551.71,766.59 552.22,769.82 552.70,772.97 553.16,776.00 553.60,778.82 554.02,781.39 554.41,783.64 554.77,785.52 555.08,787.07 555.37,788.36 555.66,789.46 555.95,790.44 556.26,791.38 556.58,792.33 556.88,793.26 557.20,794.07 557.54,794.67 557.92,794.97 558.35,794.86 558.85,794.39 559.38,793.63 559.96,792.56 560.57,791.17 561.22,789.44 561.91,787.34 562.63,784.77 563.38,781.73 564.18,778.34 565.01,774.74 565.87,771.05 566.76,767.41 567.70,763.84 568.67,760.25 569.67,756.57 570.70,752.76 571.76,748.75 572.82,744.49 573.92,739.83 575.04,734.78 576.18,729.53 577.34,724.29 578.49,719.25 579.64,714.61 580.78,710.38 581.92,706.41 583.06,702.65 584.21,699.03 585.36,695.52 586.51,692.05 587.67,688.62 588.85,685.27 590.02,682.02 591.20,678.89 592.35,675.92 593.47,673.13 594.59,670.49 595.72,667.97 596.82,665.61 597.89,663.43 598.89,661.47 599.80,659.74 600.61,658.29 601.35,657.09 602.01,656.11 602.63,655.29 603.21,654.58 603.76,653.95 604.27,653.39 604.73,652.94 605.14,652.60 605.54,652.39 605.94,652.30 606.37,652.33 606.83,652.47 607.30,652.70 607.77,653.05 608.24,653.56 608.70,654.25 609.13,655.15 609.53,656.16 609.90,657.22 610.27,658.46 610.62,660.02 610.97,662.02 611.33,664.61 611.69,667.88 612.06,671.75 612.41,676.07 612.77,680.69 613.13,685.46 613.48,690.22 613.83,695.11 614.18,700.27 614.53,705.58 614.88,710.91 615.23,716.13 615.58,721.13 615.94,725.96 616.29,730.73 616.64,735.39 617.00,739.91 617.36,744.22 617.74,748.28 618.14,752.20 618.57,756.04 619.01,759.68 619.43,763.00 619.82,765.87 620.14,768.18 620.38,769.74 620.55,770.63 620.67,771.08 620.80,771.31 620.96,771.57 621.20,772.10 621.54,772.85 621.94,773.62 622.39,774.42 622.84,775.25 623.25,776.11 623.60,777.00 623.87,777.90 624.09,778.81 624.27,779.76 624.44,780.75 624.61,781.83 624.80,783.00 625.01,784.32 625.23,785.79 625.45,787.33 625.67,788.88 625.89,790.39 626.10,791.80 626.31,793.13 626.53,794.44 626.74,795.70 626.94,796.90 627.13,798.00 627.30,799.00 627.45,799.86 627.58,800.61 627.69,801.26 627.80,801.86 627.90,802.43 628.00,803.00 628.07,803.87 628.11,805.07 628.14,806.25 628.19,807.04 628.30,807.07 628.50,806.00 628.80,803.60 629.19,800.11 629.62,795.88 630.09,791.23 630.56,786.49 631.00,782.00 631.40,777.78 631.79,773.56 632.18,769.26 632.59,764.77 633.02,760.02 633.50,754.90 634.04,749.17 634.61,742.87 635.23,736.29 635.85,729.75 636.48,723.55 637.10,718.00 637.74,712.97 638.41,708.18 639.09,703.73 639.73,699.72 640.32,696.25 640.80,693.40 641.17,691.35 641.45,690.05 641.66,689.29 641.84,688.84 642.01,688.48 642.20,688.00 642.38,687.36 642.54,686.73 642.68,686.20 642.84,685.84 643.04,685.75 643.30,686.00 643.62,686.43 643.99,686.95 644.39,687.73 644.83,688.95 645.30,690.78 645.80,693.40 646.35,697.18 646.97,702.06 647.62,707.54 648.27,713.17 648.87,718.45 649.40,722.90 649.84,726.58 650.23,729.87 650.58,732.83 650.89,735.47 651.20,737.85 651.50,740.00 651.79,741.98 652.06,743.77 652.31,745.29 652.56,746.47 652.82,747.23 653.10,747.50 653.40,747.14 653.71,746.19 654.04,744.83 654.36,743.22 654.69,741.55 655.00,740.00 655.28,738.77 655.54,737.76 655.79,736.68 656.06,735.27 656.39,733.23 656.80,730.30 657.31,726.23 657.89,721.19 658.53,715.54 659.20,709.61 659.86,703.75 660.50,698.30 661.12,693.18 661.73,688.10 662.35,683.09 662.97,678.18 663.58,673.40 664.20,668.80 664.83,664.42 665.48,660.24 666.13,656.19 666.76,652.22 667.35,648.24 667.90,644.20 668.40,640.10 668.85,636.01 669.27,631.92 669.67,627.83 670.04,623.72 670.40,619.60 670.75,615.17 671.09,610.37 671.41,605.56 671.69,601.10 671.92,597.32 672.10,594.60" fill="none" stroke="#10ee78" stroke-width="3.2" stroke-linejoin="round" stroke-linecap="round" clip-path="url(#clipf)"/>
<polyline points="415.50,701.91 416.66,701.73 418.22,701.47 420.09,701.17 422.18,700.85 424.42,700.55 426.70,700.30 429.08,700.08 431.62,699.88 434.31,699.69 437.10,699.52 439.96,699.38 442.87,699.26 445.81,699.16 448.83,699.07 451.92,699.00 455.09,698.97 458.34,698.99 461.70,699.08 465.31,699.24 469.21,699.47 473.20,699.75 477.08,700.08 480.66,700.43 483.74,700.79 486.31,701.20 488.50,701.68 490.39,702.18 492.06,702.67 493.57,703.12 495.00,703.50 496.21,703.72 497.13,703.81 497.88,703.86 498.63,703.96 499.52,704.19 500.68,704.64 502.18,705.40 503.92,706.39 505.79,707.52 507.70,708.67 509.53,709.75 511.20,710.65 512.66,711.36 514.01,711.98 515.28,712.53 516.54,713.01 517.82,713.45 519.19,713.87 520.68,714.22 522.26,714.50 523.88,714.73 525.46,714.95 526.93,715.19 528.23,715.48 529.34,715.70 530.29,715.82 531.15,715.95 531.94,716.22 532.71,716.76 533.50,717.68 534.31,718.99 535.11,720.59 535.89,722.46 536.64,724.55 537.35,726.85 538.02,729.32 538.62,731.99 539.16,734.91 539.67,738.03 540.15,741.31 540.64,744.70 541.14,748.18 541.67,751.83 542.20,755.72 542.72,759.72 543.25,763.73 543.76,767.60 544.26,771.24 544.75,774.72 545.24,778.17 545.72,781.50 546.19,784.61 546.62,787.41 547.02,789.80 547.37,791.72 547.68,793.22 547.96,794.41 548.23,795.39 548.50,796.25 548.79,797.10 549.06,798.01 549.31,798.92 549.55,799.72 549.83,800.28 550.16,800.52 550.56,800.29 551.05,799.67 551.59,798.75 552.18,797.49 552.83,795.86 553.52,793.81 554.25,791.30 555.02,788.20 555.85,784.50 556.72,780.39 557.63,776.04 558.58,771.63 559.56,767.35 560.56,763.22 561.61,759.13 562.69,754.97 563.80,750.68 564.95,746.16 566.12,741.35 567.33,736.03 568.59,730.26 569.87,724.26 571.18,718.28 572.49,712.56 573.78,707.35 575.07,702.66 576.37,698.30 577.67,694.21 578.97,690.30 580.27,686.50 581.58,682.75 582.89,679.01 584.21,675.36 585.54,671.82 586.86,668.43 588.17,665.20 589.47,662.17 590.79,659.31 592.13,656.60 593.47,654.05 594.76,651.71 595.97,649.58 597.07,647.70 598.04,646.11 598.93,644.79 599.73,643.68 600.46,642.76 601.15,641.96 601.80,641.25 602.39,640.64 602.90,640.15 603.36,639.80 603.80,639.57 604.25,639.48 604.73,639.53 605.25,639.68 605.78,639.94 606.33,640.33 606.87,640.89 607.39,641.64 607.88,642.63 608.34,643.74 608.78,644.89 609.21,646.25 609.62,647.95 610.01,650.14 610.40,652.95 610.78,656.52 611.14,660.75 611.49,665.48 611.84,670.50 612.18,675.63 612.53,680.70 612.88,685.77 613.22,691.02 613.56,696.38 613.90,701.80 614.26,707.21 614.63,712.55 615.01,717.93 615.41,723.41 615.81,728.89 616.22,734.25 616.64,739.39 617.07,744.19 617.54,748.80 618.03,753.34 618.53,757.66 619.02,761.59 619.47,765.00 619.85,767.71 620.15,769.55 620.37,770.58 620.55,771.07 620.73,771.31 620.93,771.56 621.20,772.10 621.55,772.87 621.97,773.65 622.41,774.45 622.85,775.27 623.26,776.11 623.60,777.00 623.87,777.90 624.09,778.81 624.27,779.76 624.44,780.75 624.61,781.83 624.80,783.00 625.01,784.32 625.23,785.79 625.45,787.33 625.67,788.88 625.89,790.39 626.10,791.80 626.31,793.13 626.53,794.44 626.74,795.70 626.94,796.90 627.13,798.00 627.30,799.00 627.45,799.86 627.58,800.61 627.69,801.26 627.80,801.86 627.90,802.43 628.00,803.00 628.07,803.87 628.11,805.07 628.14,806.25 628.19,807.04 628.30,807.07 628.50,806.00 628.80,803.60 629.19,800.11 629.62,795.88 630.09,791.23 630.56,786.49 631.00,782.00 631.40,777.78 631.79,773.56 632.18,769.26 632.59,764.77 633.02,760.02 633.50,754.90 634.04,749.17 634.61,742.87 635.23,736.29 635.85,729.75 636.48,723.55 637.10,718.00 637.74,712.97 638.41,708.18 639.09,703.73 639.73,699.72 640.32,696.25 640.80,693.40 641.17,691.35 641.45,690.05 641.66,689.29 641.84,688.84 642.01,688.48 642.20,688.00 642.38,687.36 642.54,686.73 642.68,686.20 642.84,685.84 643.04,685.75 643.30,686.00 643.62,686.43 643.99,686.95 644.39,687.73 644.83,688.95 645.30,690.78 645.80,693.40 646.35,697.18 646.97,702.06 647.62,707.54 648.27,713.17 648.87,718.45 649.40,722.90 649.84,726.58 650.23,729.87 650.58,732.83 650.89,735.47 651.20,737.85 651.50,740.00 651.79,741.98 652.06,743.77 652.31,745.29 652.56,746.47 652.82,747.23 653.10,747.50 653.40,747.14 653.71,746.19 654.04,744.83 654.36,743.22 654.69,741.55 655.00,740.00 655.28,738.77 655.54,737.76 655.79,736.68 656.06,735.27 656.39,733.23 656.80,730.30 657.31,726.23 657.89,721.19 658.53,715.54 659.20,709.61 659.86,703.75 660.50,698.30 661.12,693.18 661.73,688.10 662.35,683.09 662.97,678.18 663.58,673.40 664.20,668.80 664.83,664.42 665.48,660.24 666.13,656.19 666.76,652.22 667.35,648.24 667.90,644.20 668.40,640.10 668.85,636.01 669.27,631.92 669.67,627.83 670.04,623.72 670.40,619.60 670.75,615.17 671.09,610.37 671.41,605.56 671.69,601.10 671.92,597.32 672.10,594.60" fill="none" stroke="#ffc400" stroke-width="3.2" stroke-linejoin="round" stroke-linecap="round" clip-path="url(#clipf)"/>
<polyline points="415.50,701.30 416.65,701.09 418.17,700.79 420.01,700.44 422.09,700.08 424.34,699.75 426.70,699.50 429.25,699.32 432.07,699.19 435.06,699.09 438.13,699.01 441.21,698.95 444.20,698.90 447.05,698.84 449.81,698.79 452.58,698.75 455.43,698.74 458.44,698.79 461.70,698.90 465.41,699.08 469.56,699.30 473.88,699.58 478.08,699.91 481.91,700.28 485.10,700.70 487.61,701.21 489.64,701.82 491.30,702.48 492.68,703.13 493.88,703.72 495.00,704.20 495.87,704.49 496.37,704.61 496.70,704.67 497.03,704.78 497.53,705.02 498.40,705.50 499.71,706.30 501.33,707.36 503.12,708.56 504.97,709.77 506.74,710.89 508.30,711.80 509.62,712.49 510.80,713.04 511.89,713.51 512.97,713.90 514.09,714.25 515.30,714.60 516.67,714.91 518.15,715.14 519.67,715.34 521.15,715.53 522.52,715.74 523.70,716.00 524.66,716.19 525.44,716.26 526.11,716.34 526.73,716.59 527.34,717.13 528.00,718.10 528.72,719.52 529.46,721.29 530.19,723.35 530.91,725.66 531.58,728.16 532.20,730.80 532.75,733.63 533.24,736.69 533.69,739.95 534.12,743.36 534.55,746.89 535.00,750.50 535.47,754.29 535.93,758.31 536.40,762.46 536.87,766.60 537.33,770.62 537.80,774.40 538.28,778.06 538.77,781.72 539.27,785.26 539.75,788.56 540.20,791.51 540.60,794.00 540.95,795.94 541.26,797.41 541.53,798.54 541.79,799.43 542.04,800.21 542.30,801.00 542.53,801.88 542.73,802.78 542.92,803.56 543.14,804.11 543.42,804.30 543.80,804.00 544.28,803.28 544.83,802.25 545.44,800.86 546.11,799.05 546.83,796.78 547.60,794.00 548.42,790.53 549.31,786.39 550.25,781.78 551.23,776.92 552.25,772.02 553.30,767.30 554.38,762.80 555.49,758.36 556.63,753.88 557.81,749.26 559.04,744.40 560.30,739.20 561.62,733.45 562.99,727.18 564.40,720.67 565.83,714.19 567.27,708.01 568.70,702.40 570.12,697.39 571.55,692.77 572.98,688.46 574.42,684.35 575.86,680.36 577.30,676.40 578.74,672.46 580.19,668.61 581.64,664.87 583.10,661.29 584.55,657.89 586.00,654.70 587.49,651.69 589.02,648.84 590.56,646.17 592.04,643.71 593.44,641.48 594.70,639.50 595.82,637.81 596.83,636.40 597.74,635.21 598.59,634.21 599.37,633.36 600.10,632.60 600.76,631.95 601.32,631.43 601.82,631.06 602.29,630.83 602.77,630.75 603.30,630.80 603.87,630.97 604.47,631.24 605.07,631.66 605.67,632.25 606.25,633.05 606.80,634.10 607.32,635.27 607.81,636.49 608.29,637.93 608.74,639.73 609.18,642.04 609.60,645.00 609.99,648.77 610.35,653.26 610.69,658.25 611.03,663.54 611.36,668.93 611.70,674.20 612.04,679.40 612.38,684.71 612.71,690.11 613.06,695.58 613.42,701.12 613.80,706.70 614.21,712.46 614.64,718.43 615.09,724.46 615.55,730.40 616.02,736.09 616.50,741.40 617.01,746.48 617.56,751.50 618.12,756.27 618.66,760.63 619.17,764.40 619.60,767.40 619.94,769.41 620.21,770.54 620.44,771.07 620.66,771.31 620.90,771.55 621.20,772.10 621.57,772.89 621.99,773.68 622.43,774.47 622.86,775.28 623.26,776.12 623.60,777.00 623.87,777.90 624.09,778.81 624.27,779.76 624.44,780.75 624.61,781.83 624.80,783.00 625.01,784.32 625.23,785.79 625.45,787.33 625.67,788.88 625.89,790.39 626.10,791.80 626.31,793.13 626.53,794.44 626.74,795.70 626.94,796.90 627.13,798.00 627.30,799.00 627.45,799.86 627.58,800.61 627.69,801.26 627.80,801.86 627.90,802.43 628.00,803.00 628.07,803.87 628.11,805.07 628.14,806.25 628.19,807.04 628.30,807.07 628.50,806.00 628.80,803.60 629.19,800.11 629.62,795.88 630.09,791.23 630.56,786.49 631.00,782.00 631.40,777.78 631.79,773.56 632.18,769.26 632.59,764.77 633.02,760.02 633.50,754.90 634.04,749.17 634.61,742.87 635.23,736.29 635.85,729.75 636.48,723.55 637.10,718.00 637.74,712.97 638.41,708.18 639.09,703.73 639.73,699.72 640.32,696.25 640.80,693.40 641.17,691.35 641.45,690.05 641.66,689.29 641.84,688.84 642.01,688.48 642.20,688.00 642.38,687.36 642.54,686.73 642.68,686.20 642.84,685.84 643.04,685.75 643.30,686.00 643.62,686.43 643.99,686.95 644.39,687.73 644.83,688.95 645.30,690.78 645.80,693.40 646.35,697.18 646.97,702.06 647.62,707.54 648.27,713.17 648.87,718.45 649.40,722.90 649.84,726.58 650.23,729.87 650.58,732.83 650.89,735.47 651.20,737.85 651.50,740.00 651.79,741.98 652.06,743.77 652.31,745.29 652.56,746.47 652.82,747.23 653.10,747.50 653.40,747.14 653.71,746.19 654.04,744.83 654.36,743.22 654.69,741.55 655.00,740.00 655.28,738.77 655.54,737.76 655.79,736.68 656.06,735.27 656.39,733.23 656.80,730.30 657.31,726.23 657.89,721.19 658.53,715.54 659.20,709.61 659.86,703.75 660.50,698.30 661.12,693.18 661.73,688.10 662.35,683.09 662.97,678.18 663.58,673.40 664.20,668.80 664.83,664.42 665.48,660.24 666.13,656.19 666.76,652.22 667.35,648.24 667.90,644.20 668.40,640.10 668.85,636.01 669.27,631.92 669.67,627.83 670.04,623.72 670.40,619.60 670.75,615.17 671.09,610.37 671.41,605.56 671.69,601.10 671.92,597.32 672.10,594.60" fill="none" stroke="#ff0000" stroke-width="3.2" stroke-linejoin="round" stroke-linecap="round" clip-path="url(#clipf)"/>
<polyline points="415.50,692.93 417.95,692.92 421.33,692.91 425.33,692.90 429.66,692.89 434.00,692.90 438.05,692.93 441.86,692.97 445.69,693.03 449.53,693.10 453.39,693.19 457.24,693.29 461.09,693.42 464.94,693.59 468.78,693.79 472.62,694.01 476.47,694.24 480.34,694.44 484.24,694.61 488.31,694.73 492.57,694.81 496.86,694.87 500.98,694.93 504.74,695.00 507.97,695.10 510.60,695.22 512.76,695.33 514.56,695.46 516.13,695.61 517.59,695.82 519.05,696.09 520.46,696.43 521.71,696.83 522.85,697.28 523.91,697.77 524.94,698.30 525.97,698.86 527.00,699.43 528.00,700.02 528.97,700.64 529.89,701.32 530.77,702.11 531.61,703.02 532.41,704.06 533.16,705.22 533.87,706.47 534.54,707.80 535.17,709.20 535.76,710.63 536.29,712.06 536.74,713.48 537.15,714.97 537.56,716.58 538.01,718.37 538.53,720.43 539.15,722.83 539.82,725.56 540.52,728.48 541.25,731.45 541.98,734.35 542.69,737.05 543.38,739.56 544.07,742.00 544.76,744.37 545.46,746.65 546.15,748.87 546.84,750.99 547.53,753.03 548.22,754.97 548.91,756.84 549.60,758.63 550.30,760.37 551.00,762.07 551.72,763.79 552.49,765.54 553.25,767.23 553.99,768.78 554.66,770.13 555.25,771.17 555.70,771.89 556.05,772.33 556.34,772.56 556.61,772.64 556.92,772.62 557.33,772.56 557.80,772.48 558.30,772.36 558.84,772.13 559.43,771.77 560.07,771.23 560.79,770.48 561.57,769.64 562.43,768.76 563.35,767.71 564.31,766.34 565.30,764.51 566.33,762.07 567.42,758.78 568.60,754.71 569.82,750.17 571.03,745.50 572.15,741.01 573.15,737.05 573.97,733.68 574.64,730.67 575.25,727.85 575.84,725.05 576.50,722.11 577.30,718.84 578.27,715.15 579.34,711.14 580.48,706.97 581.64,702.83 582.77,698.89 583.83,695.30 584.82,692.01 585.78,688.87 586.72,685.93 587.63,683.22 588.51,680.79 589.37,678.68 590.24,676.94 591.12,675.54 591.98,674.41 592.78,673.51 593.47,672.78 594.02,672.15 594.36,671.68 594.52,671.40 594.58,671.29 594.61,671.32 594.69,671.45 594.91,671.66 595.26,671.93 595.69,672.28 596.18,672.73 596.68,673.31 597.19,674.04 597.68,674.92 598.14,675.96 598.60,677.14 599.06,678.47 599.52,679.94 599.99,681.56 600.45,683.33 600.91,685.28 601.38,687.40 601.84,689.67 602.31,692.08 602.77,694.59 603.22,697.18 603.66,699.94 604.09,702.91 604.53,705.98 604.95,709.07 605.37,712.07 605.79,714.89 606.19,717.49 606.56,719.96 606.94,722.34 607.32,724.69 607.72,727.07 608.16,729.53 608.63,732.09 609.12,734.70 609.63,737.34 610.17,739.98 610.73,742.60 611.33,745.16 611.96,747.68 612.64,750.19 613.34,752.67 614.06,755.11 614.78,757.49 615.48,759.80 616.18,762.04 616.90,764.22 617.62,766.34 618.32,768.41 619.00,770.42 619.63,772.36 620.22,774.23 620.76,776.02 621.28,777.75 621.78,779.44 622.28,781.10 622.80,782.75 623.33,784.54 623.86,786.49 624.39,788.42 624.92,790.13 625.44,791.44 625.96,792.14 626.49,792.24 627.03,791.87 627.56,791.09 628.08,789.96 628.58,788.55 629.03,786.90 629.42,784.96 629.75,782.65 630.06,780.06 630.37,777.25 630.71,774.30 631.11,771.27 631.57,768.04 632.08,764.51 632.62,760.84 633.18,757.16 633.73,753.64 634.27,750.40 634.81,747.35 635.37,744.34 635.92,741.48 636.46,738.86 636.97,736.59 637.44,734.77 637.85,733.39 638.21,732.36 638.54,731.68 638.86,731.34 639.18,731.32 639.51,731.60 639.86,732.32 640.21,733.49 640.55,734.99 640.90,736.67 641.24,738.39 641.59,740.01 641.94,741.80 642.28,743.93 642.63,746.10 642.97,748.02 643.32,749.38 643.67,749.90 644.01,749.47 644.36,748.29 644.71,746.56 645.05,744.48 645.40,742.23 645.74,740.01 646.09,737.51 646.44,734.50 646.78,731.33 647.13,728.34 647.47,725.88 647.82,724.28 648.15,723.72 648.47,723.94 648.79,724.69 649.12,725.69 649.49,726.70 649.90,727.45 650.36,728.05 650.87,728.74 651.41,729.43 651.97,730.03 652.52,730.45 653.06,730.62 653.59,730.54 654.12,730.30 654.66,729.88 655.19,729.27 655.71,728.47 656.23,727.45 656.74,726.12 657.26,724.47 657.77,722.62 658.27,720.68 658.75,718.79 659.19,717.06 659.60,715.58 659.97,714.25 660.33,712.96 660.67,711.60 661.01,710.04 661.37,708.16 661.75,705.84 662.15,703.16 662.55,700.27 662.94,697.36 663.31,694.59 663.64,692.14 663.91,690.20 664.12,688.70 664.30,687.34 664.50,685.84 664.76,683.91 665.13,681.25 665.64,677.71 666.27,673.47 666.96,668.80 667.65,663.97 668.28,659.22 668.79,654.84 669.16,650.89 669.44,647.17 669.66,643.54 669.85,639.88 670.04,636.04 670.27,631.89 670.54,627.15 670.83,621.85 671.12,616.37 671.40,611.11 671.65,606.43 671.85,602.71 672.02,600.05 672.15,598.15 672.25,596.83 672.33,595.92 672.39,595.24 672.45,594.60" fill="none" stroke="#000" stroke-width="3.2" stroke-linejoin="round" stroke-linecap="round" stroke-dasharray="3.3 5.2" clip-path="url(#clipf)"/>
<line x1="77.30" y1="325.30" x2="88.60" y2="325.30" stroke="#000" stroke-width="3.0" />
<text x="101.50" y="328.80" font-size="9.6" text-anchor="start" fill="#000" >Experimental Meas.</text>
<text x="77.30" y="340.60" font-size="9.6">Interface <tspan font-weight="bold" fill="#f26a1b">QW3</tspan>/<tspan font-weight="bold" fill="#000">LB</tspan></text>
<text x="77.30" y="353.90" font-size="9.6">Defect density [cm<tspan font-size="6.4" dy="-3.6">-2</tspan><tspan dy="3.6">]:</tspan></text>
<line x1="77.30" y1="363.30" x2="98.50" y2="363.30" stroke="#9000ff" stroke-width="2.5" />
<text x="101.50" y="366.60" font-size="9.6">-1x10<tspan font-size="6.4" dy="-3.6">12</tspan></text>
<line x1="134.80" y1="363.30" x2="155.80" y2="363.30" stroke="#1565ff" stroke-width="2.5" />
<text x="158.50" y="366.60" font-size="9.6">-5x10<tspan font-size="6.4" dy="-3.6">11</tspan></text>
<line x1="77.30" y1="376.40" x2="98.50" y2="376.40" stroke="#10ee78" stroke-width="2.5" />
<text x="102.10" y="379.70" font-size="9.6">1x10<tspan font-size="6.4" dy="-3.6">10</tspan></text>
<line x1="134.80" y1="376.40" x2="155.80" y2="376.40" stroke="#ffc400" stroke-width="2.5" />
<text x="159.10" y="379.70" font-size="9.6">5x10<tspan font-size="6.4" dy="-3.6">11</tspan></text>
<line x1="77.30" y1="389.30" x2="98.50" y2="389.30" stroke="#ff0000" stroke-width="2.5" />
<text x="102.10" y="392.60" font-size="9.6">1x10<tspan font-size="6.4" dy="-3.6">12</tspan></text>
<line x1="427.60" y1="326.70" x2="438.90" y2="326.70" stroke="#000" stroke-width="3.0" />
<text x="451.60" y="330.20" font-size="9.6" text-anchor="start" fill="#000" >Experimental Meas.</text>
<text x="427.60" y="341.60" font-size="9.6">Interface <tspan font-weight="bold" fill="#7b4b4b">QW2</tspan>/<tspan font-weight="bold" fill="#000">QB2</tspan></text>
<text x="427.60" y="354.90" font-size="9.6">Defect density [cm<tspan font-size="6.4" dy="-3.6">-2</tspan><tspan dy="3.6">]:</tspan></text>
<line x1="427.60" y1="364.70" x2="448.80" y2="364.70" stroke="#9000ff" stroke-width="2.5" />
<text x="451.60" y="368.00" font-size="9.6">-1x10<tspan font-size="6.4" dy="-3.6">12</tspan></text>
<line x1="487.10" y1="364.70" x2="508.10" y2="364.70" stroke="#1565ff" stroke-width="2.5" />
<text x="510.40" y="368.00" font-size="9.6">-5x10<tspan font-size="6.4" dy="-3.6">11</tspan></text>
<line x1="427.60" y1="378.40" x2="448.80" y2="378.40" stroke="#10ee78" stroke-width="2.5" />
<text x="452.20" y="381.70" font-size="9.6">1x10<tspan font-size="6.4" dy="-3.6">10</tspan></text>
<line x1="487.10" y1="378.40" x2="508.10" y2="378.40" stroke="#ffc400" stroke-width="2.5" />
<text x="511.00" y="381.70" font-size="9.6">5x10<tspan font-size="6.4" dy="-3.6">11</tspan></text>
<line x1="427.60" y1="391.30" x2="448.80" y2="391.30" stroke="#ff0000" stroke-width="2.5" />
<text x="452.20" y="394.60" font-size="9.6">1x10<tspan font-size="6.4" dy="-3.6">12</tspan></text>
<line x1="63.30" y1="609.30" x2="74.60" y2="609.30" stroke="#000" stroke-width="3.0" />
<text x="87.70" y="612.80" font-size="9.6" text-anchor="start" fill="#000" >Experimental Meas.</text>
<text x="63.30" y="625.70" font-size="9.6">Interface <tspan font-weight="bold" fill="#b07fe0">QW1</tspan>/<tspan font-weight="bold" fill="#000">QB1</tspan></text>
<text x="63.30" y="639.40" font-size="9.6">Defect density [cm<tspan font-size="6.4" dy="-3.6">-2</tspan><tspan dy="3.6">]:</tspan></text>
<line x1="63.30" y1="649.20" x2="84.50" y2="649.20" stroke="#9000ff" stroke-width="2.5" />
<text x="87.70" y="652.50" font-size="9.6">-1x10<tspan font-size="6.4" dy="-3.6">12</tspan></text>
<line x1="123.50" y1="649.20" x2="144.50" y2="649.20" stroke="#1565ff" stroke-width="2.5" />
<text x="147.40" y="652.50" font-size="9.6">-5x10<tspan font-size="6.4" dy="-3.6">11</tspan></text>
<line x1="63.30" y1="663.10" x2="84.50" y2="663.10" stroke="#10ee78" stroke-width="2.5" />
<text x="88.30" y="666.40" font-size="9.6">1x10<tspan font-size="6.4" dy="-3.6">10</tspan></text>
<line x1="123.50" y1="663.10" x2="144.50" y2="663.10" stroke="#ffc400" stroke-width="2.5" />
<text x="148.00" y="666.40" font-size="9.6">5x10<tspan font-size="6.4" dy="-3.6">11</tspan></text>
<line x1="63.30" y1="676.80" x2="84.50" y2="676.80" stroke="#ff0000" stroke-width="2.5" />
<text x="88.30" y="680.10" font-size="9.6">1x10<tspan font-size="6.4" dy="-3.6">12</tspan></text>
<line x1="425.20" y1="608.30" x2="436.50" y2="608.30" stroke="#000" stroke-width="3.0" />
<text x="449.30" y="611.80" font-size="9.6" text-anchor="start" fill="#000" >Experimental Meas.</text>
<text x="425.20" y="623.20" font-size="9.6">Interface <tspan font-weight="bold" fill="#000">FB</tspan>/<tspan font-weight="bold" fill="#b07fe0">QW1</tspan></text>
<text x="425.20" y="635.90" font-size="9.6">Defect density [cm<tspan font-size="6.4" dy="-3.6">-2</tspan><tspan dy="3.6">]:</tspan></text>
<line x1="425.20" y1="645.70" x2="446.40" y2="645.70" stroke="#9000ff" stroke-width="2.5" />
<text x="449.30" y="649.00" font-size="9.6">-1x10<tspan font-size="6.4" dy="-3.6">12</tspan></text>
<line x1="482.40" y1="645.70" x2="503.40" y2="645.70" stroke="#1565ff" stroke-width="2.5" />
<text x="505.30" y="649.00" font-size="9.6">-5x10<tspan font-size="6.4" dy="-3.6">11</tspan></text>
<line x1="425.20" y1="659.00" x2="446.40" y2="659.00" stroke="#10ee78" stroke-width="2.5" />
<text x="449.90" y="662.30" font-size="9.6">1x10<tspan font-size="6.4" dy="-3.6">10</tspan></text>
<line x1="482.40" y1="659.00" x2="503.40" y2="659.00" stroke="#ffc400" stroke-width="2.5" />
<text x="505.90" y="662.30" font-size="9.6">5x10<tspan font-size="6.4" dy="-3.6">11</tspan></text>
<line x1="425.20" y1="671.30" x2="446.40" y2="671.30" stroke="#ff0000" stroke-width="2.5" />
<text x="449.90" y="674.60" font-size="9.6">1x10<tspan font-size="6.4" dy="-3.6">12</tspan></text>
<text x="229.80" y="362.20" font-size="15.2" text-anchor="start" fill="#b07fe0" >QW1</text>
<text x="272.00" y="394.60" font-size="15.2" text-anchor="start" fill="#f26a1b" >QW3</text>
<text x="231.60" y="519.50" font-size="15.2" text-anchor="start" fill="#7b4b4b" >QW2</text>
<text x="104.80" y="471.90" font-size="15.3" text-anchor="start" fill="#000" >FB</text>
<line x1="302.50" y1="428.00" x2="279.10" y2="428.00" stroke="#000" stroke-width="2.7" />
<polygon points="268.60,428.00 280.10,423.00 278.90,428.00 280.10,433.00" fill="#000"/>
<text x="583.10" y="359.90" font-size="15.2" text-anchor="start" fill="#b07fe0" >QW1</text>
<text x="626.40" y="393.60" font-size="15.2" text-anchor="start" fill="#f26a1b" >QW3</text>
<text x="585.60" y="519.00" font-size="15.2" text-anchor="start" fill="#7b4b4b" >QW2</text>
<text x="453.90" y="446.70" font-size="15.3" text-anchor="start" fill="#000" >FB</text>
<line x1="631.30" y1="487.70" x2="609.70" y2="487.70" stroke="#000" stroke-width="2.7" />
<polygon points="599.20,487.70 610.70,482.70 609.50,487.70 610.70,492.70" fill="#000"/>
<text x="218.70" y="650.10" font-size="15.2" text-anchor="start" fill="#b07fe0" >QW1</text>
<text x="268.00" y="677.00" font-size="15.2" text-anchor="start" fill="#f26a1b" >QW3</text>
<text x="228.40" y="801.30" font-size="15.2" text-anchor="start" fill="#7b4b4b" >QW2</text>
<text x="99.10" y="733.50" font-size="15.3" text-anchor="start" fill="#000" >FB</text>
<line x1="254.80" y1="676.90" x2="220.99" y2="678.43" stroke="#000" stroke-width="2.7" />
<polygon points="210.50,678.90 221.76,673.39 220.79,678.44 222.21,683.38" fill="#000"/>
<text x="566.50" y="629.60" font-size="15.2" text-anchor="start" fill="#b07fe0" >QW1</text>
<text x="626.60" y="675.40" font-size="15.2" text-anchor="start" fill="#f26a1b" >QW3</text>
<text x="584.80" y="798.60" font-size="15.2" text-anchor="start" fill="#7b4b4b" >QW2</text>
<text x="448.80" y="723.20" font-size="15.3" text-anchor="start" fill="#000" >FB</text>
<line x1="585.40" y1="785.40" x2="535.30" y2="785.40" stroke="#000" stroke-width="2.7" />
<polygon points="524.80,785.40 536.30,780.40 535.10,785.40 536.30,790.40" fill="#000"/>
<line x1="428.40" y1="226.30" x2="428.40" y2="224.10" stroke="#444" stroke-width="1.15" />
<line x1="428.40" y1="13.10" x2="428.40" y2="15.30" stroke="#444" stroke-width="1.15" />
<line x1="440.39" y1="226.30" x2="440.39" y2="222.30" stroke="#444" stroke-width="1.15" />
<line x1="440.39" y1="13.10" x2="440.39" y2="17.10" stroke="#444" stroke-width="1.15" />
<line x1="452.39" y1="226.30" x2="452.39" y2="224.10" stroke="#444" stroke-width="1.15" />
<line x1="452.39" y1="13.10" x2="452.39" y2="15.30" stroke="#444" stroke-width="1.15" />
<line x1="464.38" y1="226.30" x2="464.38" y2="222.30" stroke="#444" stroke-width="1.15" />
<line x1="464.38" y1="13.10" x2="464.38" y2="17.10" stroke="#444" stroke-width="1.15" />
<line x1="476.38" y1="226.30" x2="476.38" y2="224.10" stroke="#444" stroke-width="1.15" />
<line x1="476.38" y1="13.10" x2="476.38" y2="15.30" stroke="#444" stroke-width="1.15" />
<line x1="488.37" y1="226.30" x2="488.37" y2="222.30" stroke="#444" stroke-width="1.15" />
<line x1="488.37" y1="13.10" x2="488.37" y2="17.10" stroke="#444" stroke-width="1.15" />
<line x1="500.37" y1="226.30" x2="500.37" y2="224.10" stroke="#444" stroke-width="1.15" />
<line x1="500.37" y1="13.10" x2="500.37" y2="15.30" stroke="#444" stroke-width="1.15" />
<line x1="512.36" y1="226.30" x2="512.36" y2="222.30" stroke="#444" stroke-width="1.15" />
<line x1="512.36" y1="13.10" x2="512.36" y2="17.10" stroke="#444" stroke-width="1.15" />
<line x1="524.36" y1="226.30" x2="524.36" y2="224.10" stroke="#444" stroke-width="1.15" />
<line x1="524.36" y1="13.10" x2="524.36" y2="15.30" stroke="#444" stroke-width="1.15" />
<line x1="536.35" y1="226.30" x2="536.35" y2="222.30" stroke="#444" stroke-width="1.15" />
<line x1="536.35" y1="13.10" x2="536.35" y2="17.10" stroke="#444" stroke-width="1.15" />
<line x1="548.35" y1="226.30" x2="548.35" y2="224.10" stroke="#444" stroke-width="1.15" />
<line x1="548.35" y1="13.10" x2="548.35" y2="15.30" stroke="#444" stroke-width="1.15" />
<line x1="560.35" y1="226.30" x2="560.35" y2="222.30" stroke="#444" stroke-width="1.15" />
<line x1="560.35" y1="13.10" x2="560.35" y2="17.10" stroke="#444" stroke-width="1.15" />
<line x1="572.34" y1="226.30" x2="572.34" y2="224.10" stroke="#444" stroke-width="1.15" />
<line x1="572.34" y1="13.10" x2="572.34" y2="15.30" stroke="#444" stroke-width="1.15" />
<line x1="584.34" y1="226.30" x2="584.34" y2="222.30" stroke="#444" stroke-width="1.15" />
<line x1="584.34" y1="13.10" x2="584.34" y2="17.10" stroke="#444" stroke-width="1.15" />
<line x1="596.33" y1="226.30" x2="596.33" y2="224.10" stroke="#444" stroke-width="1.15" />
<line x1="596.33" y1="13.10" x2="596.33" y2="15.30" stroke="#444" stroke-width="1.15" />
<line x1="608.33" y1="226.30" x2="608.33" y2="222.30" stroke="#444" stroke-width="1.15" />
<line x1="608.33" y1="13.10" x2="608.33" y2="17.10" stroke="#444" stroke-width="1.15" />
<line x1="620.32" y1="226.30" x2="620.32" y2="224.10" stroke="#444" stroke-width="1.15" />
<line x1="620.32" y1="13.10" x2="620.32" y2="15.30" stroke="#444" stroke-width="1.15" />
<line x1="632.32" y1="226.30" x2="632.32" y2="222.30" stroke="#444" stroke-width="1.15" />
<line x1="632.32" y1="13.10" x2="632.32" y2="17.10" stroke="#444" stroke-width="1.15" />
<line x1="644.31" y1="226.30" x2="644.31" y2="224.10" stroke="#444" stroke-width="1.15" />
<line x1="644.31" y1="13.10" x2="644.31" y2="15.30" stroke="#444" stroke-width="1.15" />
<line x1="656.31" y1="226.30" x2="656.31" y2="222.30" stroke="#444" stroke-width="1.15" />
<line x1="656.31" y1="13.10" x2="656.31" y2="17.10" stroke="#444" stroke-width="1.15" />
<line x1="668.30" y1="226.30" x2="668.30" y2="224.10" stroke="#444" stroke-width="1.15" />
<line x1="668.30" y1="13.10" x2="668.30" y2="15.30" stroke="#444" stroke-width="1.15" />
<line x1="416.40" y1="214.73" x2="418.60" y2="214.73" stroke="#444" stroke-width="1.15" />
<line x1="680.30" y1="214.73" x2="678.10" y2="214.73" stroke="#444" stroke-width="1.15" />
<line x1="416.40" y1="204.76" x2="418.60" y2="204.76" stroke="#444" stroke-width="1.15" />
<line x1="680.30" y1="204.76" x2="678.10" y2="204.76" stroke="#444" stroke-width="1.15" />
<line x1="416.40" y1="196.33" x2="418.60" y2="196.33" stroke="#444" stroke-width="1.15" />
<line x1="680.30" y1="196.33" x2="678.10" y2="196.33" stroke="#444" stroke-width="1.15" />
<line x1="416.40" y1="189.04" x2="418.60" y2="189.04" stroke="#444" stroke-width="1.15" />
<line x1="680.30" y1="189.04" x2="678.10" y2="189.04" stroke="#444" stroke-width="1.15" />
<line x1="416.40" y1="182.60" x2="418.60" y2="182.60" stroke="#444" stroke-width="1.15" />
<line x1="680.30" y1="182.60" x2="678.10" y2="182.60" stroke="#444" stroke-width="1.15" />
<line x1="416.40" y1="176.84" x2="420.40" y2="176.84" stroke="#444" stroke-width="1.15" />
<line x1="680.30" y1="176.84" x2="676.30" y2="176.84" stroke="#444" stroke-width="1.15" />
<line x1="416.40" y1="138.95" x2="418.60" y2="138.95" stroke="#444" stroke-width="1.15" />
<line x1="680.30" y1="138.95" x2="678.10" y2="138.95" stroke="#444" stroke-width="1.15" />
<line x1="416.40" y1="116.79" x2="418.60" y2="116.79" stroke="#444" stroke-width="1.15" />
<line x1="680.30" y1="116.79" x2="678.10" y2="116.79" stroke="#444" stroke-width="1.15" />
<line x1="416.40" y1="101.07" x2="418.60" y2="101.07" stroke="#444" stroke-width="1.15" />
<line x1="680.30" y1="101.07" x2="678.10" y2="101.07" stroke="#444" stroke-width="1.15" />
<line x1="416.40" y1="88.87" x2="418.60" y2="88.87" stroke="#444" stroke-width="1.15" />
<line x1="680.30" y1="88.87" x2="678.10" y2="88.87" stroke="#444" stroke-width="1.15" />
<line x1="416.40" y1="78.91" x2="418.60" y2="78.91" stroke="#444" stroke-width="1.15" />
<line x1="680.30" y1="78.91" x2="678.10" y2="78.91" stroke="#444" stroke-width="1.15" />
<line x1="416.40" y1="70.48" x2="418.60" y2="70.48" stroke="#444" stroke-width="1.15" />
<line x1="680.30" y1="70.48" x2="678.10" y2="70.48" stroke="#444" stroke-width="1.15" />
<line x1="416.40" y1="63.18" x2="418.60" y2="63.18" stroke="#444" stroke-width="1.15" />
<line x1="680.30" y1="63.18" x2="678.10" y2="63.18" stroke="#444" stroke-width="1.15" />
<line x1="416.40" y1="56.74" x2="418.60" y2="56.74" stroke="#444" stroke-width="1.15" />
<line x1="680.30" y1="56.74" x2="678.10" y2="56.74" stroke="#444" stroke-width="1.15" />
<line x1="416.40" y1="50.99" x2="420.40" y2="50.99" stroke="#444" stroke-width="1.15" />
<line x1="680.30" y1="50.99" x2="676.30" y2="50.99" stroke="#444" stroke-width="1.15" />
<rect x="416.40" y="13.10" width="263.90" height="213.20" fill="none" stroke="#707070" stroke-width="1.35"/>
<text x="416.40" y="242.50" font-size="15.0" text-anchor="middle" fill="#000" >-6</text>
<text x="440.39" y="242.50" font-size="15.0" text-anchor="middle" fill="#000" >-5</text>
<text x="464.38" y="242.50" font-size="15.0" text-anchor="middle" fill="#000" >-4</text>
<text x="488.37" y="242.50" font-size="15.0" text-anchor="middle" fill="#000" >-3</text>
<text x="512.36" y="242.50" font-size="15.0" text-anchor="middle" fill="#000" >-2</text>
<text x="536.35" y="242.50" font-size="15.0" text-anchor="middle" fill="#000" >-1</text>
<text x="560.35" y="242.50" font-size="15.0" text-anchor="middle" fill="#000" >0</text>
<text x="584.34" y="242.50" font-size="15.0" text-anchor="middle" fill="#000" >1</text>
<text x="608.33" y="242.50" font-size="15.0" text-anchor="middle" fill="#000" >2</text>
<text x="632.32" y="242.50" font-size="15.0" text-anchor="middle" fill="#000" >3</text>
<text x="656.31" y="242.50" font-size="15.0" text-anchor="middle" fill="#000" >4</text>
<text x="680.30" y="242.50" font-size="15.0" text-anchor="middle" fill="#000" >5</text>
<text x="401.10" y="182.44" font-size="14.0" text-anchor="end" fill="#000" >10</text>
<text x="401.80" y="176.54" font-size="9.2" text-anchor="start" fill="#000" >18</text>
<text x="401.10" y="56.59" font-size="14.0" text-anchor="end" fill="#000" >10</text>
<text x="401.80" y="50.69" font-size="9.2" text-anchor="start" fill="#000" >19</text>
<text x="548.80" y="262.50" font-size="18.3" text-anchor="middle" fill="#000" >Voltage (V)</text>
<text transform="translate(378.50,119.50) rotate(-90)" x="0" y="0" font-size="18.1" text-anchor="middle">Apparent charge profile (cm<tspan font-size="12.3" dy="-7.8">-3</tspan><tspan dy="7.8">)</tspan></text>
<text x="420.80" y="216.30" font-size="20.2" text-anchor="start" fill="#000" >(b)</text>
<line x1="70.60" y1="527.40" x2="70.60" y2="525.20" stroke="#444" stroke-width="1.15" />
<line x1="70.60" y1="314.40" x2="70.60" y2="316.60" stroke="#444" stroke-width="1.15" />
<line x1="82.61" y1="527.40" x2="82.61" y2="523.40" stroke="#444" stroke-width="1.15" />
<line x1="82.61" y1="314.40" x2="82.61" y2="318.40" stroke="#444" stroke-width="1.15" />
<line x1="94.61" y1="527.40" x2="94.61" y2="525.20" stroke="#444" stroke-width="1.15" />
<line x1="94.61" y1="314.40" x2="94.61" y2="316.60" stroke="#444" stroke-width="1.15" />
<line x1="106.62" y1="527.40" x2="106.62" y2="523.40" stroke="#444" stroke-width="1.15" />
<line x1="106.62" y1="314.40" x2="106.62" y2="318.40" stroke="#444" stroke-width="1.15" />
<line x1="118.62" y1="527.40" x2="118.62" y2="525.20" stroke="#444" stroke-width="1.15" />
<line x1="118.62" y1="314.40" x2="118.62" y2="316.60" stroke="#444" stroke-width="1.15" />
<line x1="130.63" y1="527.40" x2="130.63" y2="523.40" stroke="#444" stroke-width="1.15" />
<line x1="130.63" y1="314.40" x2="130.63" y2="318.40" stroke="#444" stroke-width="1.15" />
<line x1="142.63" y1="527.40" x2="142.63" y2="525.20" stroke="#444" stroke-width="1.15" />
<line x1="142.63" y1="314.40" x2="142.63" y2="316.60" stroke="#444" stroke-width="1.15" />
<line x1="154.64" y1="527.40" x2="154.64" y2="523.40" stroke="#444" stroke-width="1.15" />
<line x1="154.64" y1="314.40" x2="154.64" y2="318.40" stroke="#444" stroke-width="1.15" />
<line x1="166.64" y1="527.40" x2="166.64" y2="525.20" stroke="#444" stroke-width="1.15" />
<line x1="166.64" y1="314.40" x2="166.64" y2="316.60" stroke="#444" stroke-width="1.15" />
<line x1="178.65" y1="527.40" x2="178.65" y2="523.40" stroke="#444" stroke-width="1.15" />
<line x1="178.65" y1="314.40" x2="178.65" y2="318.40" stroke="#444" stroke-width="1.15" />
<line x1="190.65" y1="527.40" x2="190.65" y2="525.20" stroke="#444" stroke-width="1.15" />
<line x1="190.65" y1="314.40" x2="190.65" y2="316.60" stroke="#444" stroke-width="1.15" />
<line x1="202.65" y1="527.40" x2="202.65" y2="523.40" stroke="#444" stroke-width="1.15" />
<line x1="202.65" y1="314.40" x2="202.65" y2="318.40" stroke="#444" stroke-width="1.15" />
<line x1="214.66" y1="527.40" x2="214.66" y2="525.20" stroke="#444" stroke-width="1.15" />
<line x1="214.66" y1="314.40" x2="214.66" y2="316.60" stroke="#444" stroke-width="1.15" />
<line x1="226.66" y1="527.40" x2="226.66" y2="523.40" stroke="#444" stroke-width="1.15" />
<line x1="226.66" y1="314.40" x2="226.66" y2="318.40" stroke="#444" stroke-width="1.15" />
<line x1="238.67" y1="527.40" x2="238.67" y2="525.20" stroke="#444" stroke-width="1.15" />
<line x1="238.67" y1="314.40" x2="238.67" y2="316.60" stroke="#444" stroke-width="1.15" />
<line x1="250.67" y1="527.40" x2="250.67" y2="523.40" stroke="#444" stroke-width="1.15" />
<line x1="250.67" y1="314.40" x2="250.67" y2="318.40" stroke="#444" stroke-width="1.15" />
<line x1="262.68" y1="527.40" x2="262.68" y2="525.20" stroke="#444" stroke-width="1.15" />
<line x1="262.68" y1="314.40" x2="262.68" y2="316.60" stroke="#444" stroke-width="1.15" />
<line x1="274.68" y1="527.40" x2="274.68" y2="523.40" stroke="#444" stroke-width="1.15" />
<line x1="274.68" y1="314.40" x2="274.68" y2="318.40" stroke="#444" stroke-width="1.15" />
<line x1="286.69" y1="527.40" x2="286.69" y2="525.20" stroke="#444" stroke-width="1.15" />
<line x1="286.69" y1="314.40" x2="286.69" y2="316.60" stroke="#444" stroke-width="1.15" />
<line x1="298.69" y1="527.40" x2="298.69" y2="523.40" stroke="#444" stroke-width="1.15" />
<line x1="298.69" y1="314.40" x2="298.69" y2="318.40" stroke="#444" stroke-width="1.15" />
<line x1="310.70" y1="527.40" x2="310.70" y2="525.20" stroke="#444" stroke-width="1.15" />
<line x1="310.70" y1="314.40" x2="310.70" y2="316.60" stroke="#444" stroke-width="1.15" />
<line x1="58.60" y1="515.84" x2="60.80" y2="515.84" stroke="#444" stroke-width="1.15" />
<line x1="322.70" y1="515.84" x2="320.50" y2="515.84" stroke="#444" stroke-width="1.15" />
<line x1="58.60" y1="505.88" x2="60.80" y2="505.88" stroke="#444" stroke-width="1.15" />
<line x1="322.70" y1="505.88" x2="320.50" y2="505.88" stroke="#444" stroke-width="1.15" />
<line x1="58.60" y1="497.46" x2="60.80" y2="497.46" stroke="#444" stroke-width="1.15" />
<line x1="322.70" y1="497.46" x2="320.50" y2="497.46" stroke="#444" stroke-width="1.15" />
<line x1="58.60" y1="490.17" x2="60.80" y2="490.17" stroke="#444" stroke-width="1.15" />
<line x1="322.70" y1="490.17" x2="320.50" y2="490.17" stroke="#444" stroke-width="1.15" />
<line x1="58.60" y1="483.74" x2="60.80" y2="483.74" stroke="#444" stroke-width="1.15" />
<line x1="322.70" y1="483.74" x2="320.50" y2="483.74" stroke="#444" stroke-width="1.15" />
<line x1="58.60" y1="477.99" x2="62.60" y2="477.99" stroke="#444" stroke-width="1.15" />
<line x1="322.70" y1="477.99" x2="318.70" y2="477.99" stroke="#444" stroke-width="1.15" />
<line x1="58.60" y1="440.14" x2="60.80" y2="440.14" stroke="#444" stroke-width="1.15" />
<line x1="322.70" y1="440.14" x2="320.50" y2="440.14" stroke="#444" stroke-width="1.15" />
<line x1="58.60" y1="417.99" x2="60.80" y2="417.99" stroke="#444" stroke-width="1.15" />
<line x1="322.70" y1="417.99" x2="320.50" y2="417.99" stroke="#444" stroke-width="1.15" />
<line x1="58.60" y1="402.29" x2="60.80" y2="402.29" stroke="#444" stroke-width="1.15" />
<line x1="322.70" y1="402.29" x2="320.50" y2="402.29" stroke="#444" stroke-width="1.15" />
<line x1="58.60" y1="390.10" x2="60.80" y2="390.10" stroke="#444" stroke-width="1.15" />
<line x1="322.70" y1="390.10" x2="320.50" y2="390.10" stroke="#444" stroke-width="1.15" />
<line x1="58.60" y1="380.14" x2="60.80" y2="380.14" stroke="#444" stroke-width="1.15" />
<line x1="322.70" y1="380.14" x2="320.50" y2="380.14" stroke="#444" stroke-width="1.15" />
<line x1="58.60" y1="371.73" x2="60.80" y2="371.73" stroke="#444" stroke-width="1.15" />
<line x1="322.70" y1="371.73" x2="320.50" y2="371.73" stroke="#444" stroke-width="1.15" />
<line x1="58.60" y1="364.44" x2="60.80" y2="364.44" stroke="#444" stroke-width="1.15" />
<line x1="322.70" y1="364.44" x2="320.50" y2="364.44" stroke="#444" stroke-width="1.15" />
<line x1="58.60" y1="358.00" x2="60.80" y2="358.00" stroke="#444" stroke-width="1.15" />
<line x1="322.70" y1="358.00" x2="320.50" y2="358.00" stroke="#444" stroke-width="1.15" />
<line x1="58.60" y1="352.25" x2="62.60" y2="352.25" stroke="#444" stroke-width="1.15" />
<line x1="322.70" y1="352.25" x2="318.70" y2="352.25" stroke="#444" stroke-width="1.15" />
<rect x="58.60" y="314.40" width="264.10" height="213.00" fill="none" stroke="#707070" stroke-width="1.35"/>
<text x="58.60" y="543.60" font-size="15.0" text-anchor="middle" fill="#000" >-6</text>
<text x="82.61" y="543.60" font-size="15.0" text-anchor="middle" fill="#000" >-5</text>
<text x="106.62" y="543.60" font-size="15.0" text-anchor="middle" fill="#000" >-4</text>
<text x="130.63" y="543.60" font-size="15.0" text-anchor="middle" fill="#000" >-3</text>
<text x="154.64" y="543.60" font-size="15.0" text-anchor="middle" fill="#000" >-2</text>
<text x="178.65" y="543.60" font-size="15.0" text-anchor="middle" fill="#000" >-1</text>
<text x="202.65" y="543.60" font-size="15.0" text-anchor="middle" fill="#000" >0</text>
<text x="226.66" y="543.60" font-size="15.0" text-anchor="middle" fill="#000" >1</text>
<text x="250.67" y="543.60" font-size="15.0" text-anchor="middle" fill="#000" >2</text>
<text x="274.68" y="543.60" font-size="15.0" text-anchor="middle" fill="#000" >3</text>
<text x="298.69" y="543.60" font-size="15.0" text-anchor="middle" fill="#000" >4</text>
<text x="322.70" y="543.60" font-size="15.0" text-anchor="middle" fill="#000" >5</text>
<text x="43.30" y="483.59" font-size="14.0" text-anchor="end" fill="#000" >10</text>
<text x="44.00" y="477.69" font-size="9.2" text-anchor="start" fill="#000" >18</text>
<text x="43.30" y="357.85" font-size="14.0" text-anchor="end" fill="#000" >10</text>
<text x="44.00" y="351.95" font-size="9.2" text-anchor="start" fill="#000" >19</text>
<text x="190.65" y="564.00" font-size="18.0" text-anchor="middle" fill="#000" >Voltage (V)</text>
<text transform="translate(22.00,420.90) rotate(-90)" x="0" y="0" font-size="18.1" text-anchor="middle">Apparent charge profile (cm<tspan font-size="12.3" dy="-7.8">-3</tspan><tspan dy="7.8">)</tspan></text>
<text x="63.00" y="517.40" font-size="20.2" text-anchor="start" fill="#000" >(c)</text>
<line x1="428.27" y1="527.30" x2="428.27" y2="525.10" stroke="#444" stroke-width="1.15" />
<line x1="428.27" y1="314.60" x2="428.27" y2="316.80" stroke="#444" stroke-width="1.15" />
<line x1="440.15" y1="527.30" x2="440.15" y2="523.30" stroke="#444" stroke-width="1.15" />
<line x1="440.15" y1="314.60" x2="440.15" y2="318.60" stroke="#444" stroke-width="1.15" />
<line x1="452.02" y1="527.30" x2="452.02" y2="525.10" stroke="#444" stroke-width="1.15" />
<line x1="452.02" y1="314.60" x2="452.02" y2="316.80" stroke="#444" stroke-width="1.15" />
<line x1="463.89" y1="527.30" x2="463.89" y2="523.30" stroke="#444" stroke-width="1.15" />
<line x1="463.89" y1="314.60" x2="463.89" y2="318.60" stroke="#444" stroke-width="1.15" />
<line x1="475.76" y1="527.30" x2="475.76" y2="525.10" stroke="#444" stroke-width="1.15" />
<line x1="475.76" y1="314.60" x2="475.76" y2="316.80" stroke="#444" stroke-width="1.15" />
<line x1="487.64" y1="527.30" x2="487.64" y2="523.30" stroke="#444" stroke-width="1.15" />
<line x1="487.64" y1="314.60" x2="487.64" y2="318.60" stroke="#444" stroke-width="1.15" />
<line x1="499.51" y1="527.30" x2="499.51" y2="525.10" stroke="#444" stroke-width="1.15" />
<line x1="499.51" y1="314.60" x2="499.51" y2="316.80" stroke="#444" stroke-width="1.15" />
<line x1="511.38" y1="527.30" x2="511.38" y2="523.30" stroke="#444" stroke-width="1.15" />
<line x1="511.38" y1="314.60" x2="511.38" y2="318.60" stroke="#444" stroke-width="1.15" />
<line x1="523.25" y1="527.30" x2="523.25" y2="525.10" stroke="#444" stroke-width="1.15" />
<line x1="523.25" y1="314.60" x2="523.25" y2="316.80" stroke="#444" stroke-width="1.15" />
<line x1="535.13" y1="527.30" x2="535.13" y2="523.30" stroke="#444" stroke-width="1.15" />
<line x1="535.13" y1="314.60" x2="535.13" y2="318.60" stroke="#444" stroke-width="1.15" />
<line x1="547.00" y1="527.30" x2="547.00" y2="525.10" stroke="#444" stroke-width="1.15" />
<line x1="547.00" y1="314.60" x2="547.00" y2="316.80" stroke="#444" stroke-width="1.15" />
<line x1="558.87" y1="527.30" x2="558.87" y2="523.30" stroke="#444" stroke-width="1.15" />
<line x1="558.87" y1="314.60" x2="558.87" y2="318.60" stroke="#444" stroke-width="1.15" />
<line x1="570.75" y1="527.30" x2="570.75" y2="525.10" stroke="#444" stroke-width="1.15" />
<line x1="570.75" y1="314.60" x2="570.75" y2="316.80" stroke="#444" stroke-width="1.15" />
<line x1="582.62" y1="527.30" x2="582.62" y2="523.30" stroke="#444" stroke-width="1.15" />
<line x1="582.62" y1="314.60" x2="582.62" y2="318.60" stroke="#444" stroke-width="1.15" />
<line x1="594.49" y1="527.30" x2="594.49" y2="525.10" stroke="#444" stroke-width="1.15" />
<line x1="594.49" y1="314.60" x2="594.49" y2="316.80" stroke="#444" stroke-width="1.15" />
<line x1="606.36" y1="527.30" x2="606.36" y2="523.30" stroke="#444" stroke-width="1.15" />
<line x1="606.36" y1="314.60" x2="606.36" y2="318.60" stroke="#444" stroke-width="1.15" />
<line x1="618.24" y1="527.30" x2="618.24" y2="525.10" stroke="#444" stroke-width="1.15" />
<line x1="618.24" y1="314.60" x2="618.24" y2="316.80" stroke="#444" stroke-width="1.15" />
<line x1="630.11" y1="527.30" x2="630.11" y2="523.30" stroke="#444" stroke-width="1.15" />
<line x1="630.11" y1="314.60" x2="630.11" y2="318.60" stroke="#444" stroke-width="1.15" />
<line x1="641.98" y1="527.30" x2="641.98" y2="525.10" stroke="#444" stroke-width="1.15" />
<line x1="641.98" y1="314.60" x2="641.98" y2="316.80" stroke="#444" stroke-width="1.15" />
<line x1="653.85" y1="527.30" x2="653.85" y2="523.30" stroke="#444" stroke-width="1.15" />
<line x1="653.85" y1="314.60" x2="653.85" y2="318.60" stroke="#444" stroke-width="1.15" />
<line x1="665.73" y1="527.30" x2="665.73" y2="525.10" stroke="#444" stroke-width="1.15" />
<line x1="665.73" y1="314.60" x2="665.73" y2="316.80" stroke="#444" stroke-width="1.15" />
<line x1="416.40" y1="515.75" x2="418.60" y2="515.75" stroke="#444" stroke-width="1.15" />
<line x1="677.60" y1="515.75" x2="675.40" y2="515.75" stroke="#444" stroke-width="1.15" />
<line x1="416.40" y1="505.81" x2="418.60" y2="505.81" stroke="#444" stroke-width="1.15" />
<line x1="677.60" y1="505.81" x2="675.40" y2="505.81" stroke="#444" stroke-width="1.15" />
<line x1="416.40" y1="497.40" x2="418.60" y2="497.40" stroke="#444" stroke-width="1.15" />
<line x1="677.60" y1="497.40" x2="675.40" y2="497.40" stroke="#444" stroke-width="1.15" />
<line x1="416.40" y1="490.12" x2="418.60" y2="490.12" stroke="#444" stroke-width="1.15" />
<line x1="677.60" y1="490.12" x2="675.40" y2="490.12" stroke="#444" stroke-width="1.15" />
<line x1="416.40" y1="483.70" x2="418.60" y2="483.70" stroke="#444" stroke-width="1.15" />
<line x1="677.60" y1="483.70" x2="675.40" y2="483.70" stroke="#444" stroke-width="1.15" />
<line x1="416.40" y1="477.96" x2="420.40" y2="477.96" stroke="#444" stroke-width="1.15" />
<line x1="677.60" y1="477.96" x2="673.60" y2="477.96" stroke="#444" stroke-width="1.15" />
<line x1="416.40" y1="440.16" x2="418.60" y2="440.16" stroke="#444" stroke-width="1.15" />
<line x1="677.60" y1="440.16" x2="675.40" y2="440.16" stroke="#444" stroke-width="1.15" />
<line x1="416.40" y1="418.05" x2="418.60" y2="418.05" stroke="#444" stroke-width="1.15" />
<line x1="677.60" y1="418.05" x2="675.40" y2="418.05" stroke="#444" stroke-width="1.15" />
<line x1="416.40" y1="402.36" x2="418.60" y2="402.36" stroke="#444" stroke-width="1.15" />
<line x1="677.60" y1="402.36" x2="675.40" y2="402.36" stroke="#444" stroke-width="1.15" />
<line x1="416.40" y1="390.19" x2="418.60" y2="390.19" stroke="#444" stroke-width="1.15" />
<line x1="677.60" y1="390.19" x2="675.40" y2="390.19" stroke="#444" stroke-width="1.15" />
<line x1="416.40" y1="380.25" x2="418.60" y2="380.25" stroke="#444" stroke-width="1.15" />
<line x1="677.60" y1="380.25" x2="675.40" y2="380.25" stroke="#444" stroke-width="1.15" />
<line x1="416.40" y1="371.85" x2="418.60" y2="371.85" stroke="#444" stroke-width="1.15" />
<line x1="677.60" y1="371.85" x2="675.40" y2="371.85" stroke="#444" stroke-width="1.15" />
<line x1="416.40" y1="364.56" x2="418.60" y2="364.56" stroke="#444" stroke-width="1.15" />
<line x1="677.60" y1="364.56" x2="675.40" y2="364.56" stroke="#444" stroke-width="1.15" />
<line x1="416.40" y1="358.14" x2="418.60" y2="358.14" stroke="#444" stroke-width="1.15" />
<line x1="677.60" y1="358.14" x2="675.40" y2="358.14" stroke="#444" stroke-width="1.15" />
<line x1="416.40" y1="352.40" x2="420.40" y2="352.40" stroke="#444" stroke-width="1.15" />
<line x1="677.60" y1="352.40" x2="673.60" y2="352.40" stroke="#444" stroke-width="1.15" />
<rect x="416.40" y="314.60" width="261.20" height="212.70" fill="none" stroke="#707070" stroke-width="1.35"/>
<text x="416.40" y="543.50" font-size="15.0" text-anchor="middle" fill="#000" >-6</text>
<text x="440.15" y="543.50" font-size="15.0" text-anchor="middle" fill="#000" >-5</text>
<text x="463.89" y="543.50" font-size="15.0" text-anchor="middle" fill="#000" >-4</text>
<text x="487.64" y="543.50" font-size="15.0" text-anchor="middle" fill="#000" >-3</text>
<text x="511.38" y="543.50" font-size="15.0" text-anchor="middle" fill="#000" >-2</text>
<text x="535.13" y="543.50" font-size="15.0" text-anchor="middle" fill="#000" >-1</text>
<text x="558.87" y="543.50" font-size="15.0" text-anchor="middle" fill="#000" >0</text>
<text x="582.62" y="543.50" font-size="15.0" text-anchor="middle" fill="#000" >1</text>
<text x="606.36" y="543.50" font-size="15.0" text-anchor="middle" fill="#000" >2</text>
<text x="630.11" y="543.50" font-size="15.0" text-anchor="middle" fill="#000" >3</text>
<text x="653.85" y="543.50" font-size="15.0" text-anchor="middle" fill="#000" >4</text>
<text x="677.60" y="543.50" font-size="15.0" text-anchor="middle" fill="#000" >5</text>
<text x="401.10" y="483.56" font-size="14.0" text-anchor="end" fill="#000" >10</text>
<text x="401.80" y="477.66" font-size="9.2" text-anchor="start" fill="#000" >18</text>
<text x="401.10" y="358.00" font-size="14.0" text-anchor="end" fill="#000" >10</text>
<text x="401.80" y="352.10" font-size="9.2" text-anchor="start" fill="#000" >19</text>
<text x="546.80" y="563.00" font-size="18.3" text-anchor="middle" fill="#000" >Voltage (V)</text>
<text transform="translate(379.60,420.95) rotate(-90)" x="0" y="0" font-size="18.1" text-anchor="middle">Apparent charge profile (cm<tspan font-size="12.3" dy="-7.8">-3</tspan><tspan dy="7.8">)</tspan></text>
<text x="420.80" y="517.30" font-size="20.2" text-anchor="start" fill="#000" >(d)</text>
<line x1="67.60" y1="810.40" x2="67.60" y2="808.20" stroke="#444" stroke-width="1.15" />
<line x1="67.60" y1="595.00" x2="67.60" y2="597.20" stroke="#444" stroke-width="1.15" />
<line x1="79.69" y1="810.40" x2="79.69" y2="806.40" stroke="#444" stroke-width="1.15" />
<line x1="79.69" y1="595.00" x2="79.69" y2="599.00" stroke="#444" stroke-width="1.15" />
<line x1="91.79" y1="810.40" x2="91.79" y2="808.20" stroke="#444" stroke-width="1.15" />
<line x1="91.79" y1="595.00" x2="91.79" y2="597.20" stroke="#444" stroke-width="1.15" />
<line x1="103.88" y1="810.40" x2="103.88" y2="806.40" stroke="#444" stroke-width="1.15" />
<line x1="103.88" y1="595.00" x2="103.88" y2="599.00" stroke="#444" stroke-width="1.15" />
<line x1="115.98" y1="810.40" x2="115.98" y2="808.20" stroke="#444" stroke-width="1.15" />
<line x1="115.98" y1="595.00" x2="115.98" y2="597.20" stroke="#444" stroke-width="1.15" />
<line x1="128.07" y1="810.40" x2="128.07" y2="806.40" stroke="#444" stroke-width="1.15" />
<line x1="128.07" y1="595.00" x2="128.07" y2="599.00" stroke="#444" stroke-width="1.15" />
<line x1="140.17" y1="810.40" x2="140.17" y2="808.20" stroke="#444" stroke-width="1.15" />
<line x1="140.17" y1="595.00" x2="140.17" y2="597.20" stroke="#444" stroke-width="1.15" />
<line x1="152.26" y1="810.40" x2="152.26" y2="806.40" stroke="#444" stroke-width="1.15" />
<line x1="152.26" y1="595.00" x2="152.26" y2="599.00" stroke="#444" stroke-width="1.15" />
<line x1="164.36" y1="810.40" x2="164.36" y2="808.20" stroke="#444" stroke-width="1.15" />
<line x1="164.36" y1="595.00" x2="164.36" y2="597.20" stroke="#444" stroke-width="1.15" />
<line x1="176.45" y1="810.40" x2="176.45" y2="806.40" stroke="#444" stroke-width="1.15" />
<line x1="176.45" y1="595.00" x2="176.45" y2="599.00" stroke="#444" stroke-width="1.15" />
<line x1="188.55" y1="810.40" x2="188.55" y2="808.20" stroke="#444" stroke-width="1.15" />
<line x1="188.55" y1="595.00" x2="188.55" y2="597.20" stroke="#444" stroke-width="1.15" />
<line x1="200.65" y1="810.40" x2="200.65" y2="806.40" stroke="#444" stroke-width="1.15" />
<line x1="200.65" y1="595.00" x2="200.65" y2="599.00" stroke="#444" stroke-width="1.15" />
<line x1="212.74" y1="810.40" x2="212.74" y2="808.20" stroke="#444" stroke-width="1.15" />
<line x1="212.74" y1="595.00" x2="212.74" y2="597.20" stroke="#444" stroke-width="1.15" />
<line x1="224.84" y1="810.40" x2="224.84" y2="806.40" stroke="#444" stroke-width="1.15" />
<line x1="224.84" y1="595.00" x2="224.84" y2="599.00" stroke="#444" stroke-width="1.15" />
<line x1="236.93" y1="810.40" x2="236.93" y2="808.20" stroke="#444" stroke-width="1.15" />
<line x1="236.93" y1="595.00" x2="236.93" y2="597.20" stroke="#444" stroke-width="1.15" />
<line x1="249.03" y1="810.40" x2="249.03" y2="806.40" stroke="#444" stroke-width="1.15" />
<line x1="249.03" y1="595.00" x2="249.03" y2="599.00" stroke="#444" stroke-width="1.15" />
<line x1="261.12" y1="810.40" x2="261.12" y2="808.20" stroke="#444" stroke-width="1.15" />
<line x1="261.12" y1="595.00" x2="261.12" y2="597.20" stroke="#444" stroke-width="1.15" />
<line x1="273.22" y1="810.40" x2="273.22" y2="806.40" stroke="#444" stroke-width="1.15" />
<line x1="273.22" y1="595.00" x2="273.22" y2="599.00" stroke="#444" stroke-width="1.15" />
<line x1="285.31" y1="810.40" x2="285.31" y2="808.20" stroke="#444" stroke-width="1.15" />
<line x1="285.31" y1="595.00" x2="285.31" y2="597.20" stroke="#444" stroke-width="1.15" />
<line x1="297.41" y1="810.40" x2="297.41" y2="806.40" stroke="#444" stroke-width="1.15" />
<line x1="297.41" y1="595.00" x2="297.41" y2="599.00" stroke="#444" stroke-width="1.15" />
<line x1="309.50" y1="810.40" x2="309.50" y2="808.20" stroke="#444" stroke-width="1.15" />
<line x1="309.50" y1="595.00" x2="309.50" y2="597.20" stroke="#444" stroke-width="1.15" />
<line x1="55.50" y1="798.71" x2="57.70" y2="798.71" stroke="#444" stroke-width="1.15" />
<line x1="321.60" y1="798.71" x2="319.40" y2="798.71" stroke="#444" stroke-width="1.15" />
<line x1="55.50" y1="788.64" x2="57.70" y2="788.64" stroke="#444" stroke-width="1.15" />
<line x1="321.60" y1="788.64" x2="319.40" y2="788.64" stroke="#444" stroke-width="1.15" />
<line x1="55.50" y1="780.13" x2="57.70" y2="780.13" stroke="#444" stroke-width="1.15" />
<line x1="321.60" y1="780.13" x2="319.40" y2="780.13" stroke="#444" stroke-width="1.15" />
<line x1="55.50" y1="772.75" x2="57.70" y2="772.75" stroke="#444" stroke-width="1.15" />
<line x1="321.60" y1="772.75" x2="319.40" y2="772.75" stroke="#444" stroke-width="1.15" />
<line x1="55.50" y1="766.25" x2="57.70" y2="766.25" stroke="#444" stroke-width="1.15" />
<line x1="321.60" y1="766.25" x2="319.40" y2="766.25" stroke="#444" stroke-width="1.15" />
<line x1="55.50" y1="760.43" x2="59.50" y2="760.43" stroke="#444" stroke-width="1.15" />
<line x1="321.60" y1="760.43" x2="317.60" y2="760.43" stroke="#444" stroke-width="1.15" />
<line x1="55.50" y1="722.15" x2="57.70" y2="722.15" stroke="#444" stroke-width="1.15" />
<line x1="321.60" y1="722.15" x2="319.40" y2="722.15" stroke="#444" stroke-width="1.15" />
<line x1="55.50" y1="699.76" x2="57.70" y2="699.76" stroke="#444" stroke-width="1.15" />
<line x1="321.60" y1="699.76" x2="319.40" y2="699.76" stroke="#444" stroke-width="1.15" />
<line x1="55.50" y1="683.88" x2="57.70" y2="683.88" stroke="#444" stroke-width="1.15" />
<line x1="321.60" y1="683.88" x2="319.40" y2="683.88" stroke="#444" stroke-width="1.15" />
<line x1="55.50" y1="671.55" x2="57.70" y2="671.55" stroke="#444" stroke-width="1.15" />
<line x1="321.60" y1="671.55" x2="319.40" y2="671.55" stroke="#444" stroke-width="1.15" />
<line x1="55.50" y1="661.49" x2="57.70" y2="661.49" stroke="#444" stroke-width="1.15" />
<line x1="321.60" y1="661.49" x2="319.40" y2="661.49" stroke="#444" stroke-width="1.15" />
<line x1="55.50" y1="652.97" x2="57.70" y2="652.97" stroke="#444" stroke-width="1.15" />
<line x1="321.60" y1="652.97" x2="319.40" y2="652.97" stroke="#444" stroke-width="1.15" />
<line x1="55.50" y1="645.60" x2="57.70" y2="645.60" stroke="#444" stroke-width="1.15" />
<line x1="321.60" y1="645.60" x2="319.40" y2="645.60" stroke="#444" stroke-width="1.15" />
<line x1="55.50" y1="639.09" x2="57.70" y2="639.09" stroke="#444" stroke-width="1.15" />
<line x1="321.60" y1="639.09" x2="319.40" y2="639.09" stroke="#444" stroke-width="1.15" />
<line x1="55.50" y1="633.28" x2="59.50" y2="633.28" stroke="#444" stroke-width="1.15" />
<line x1="321.60" y1="633.28" x2="317.60" y2="633.28" stroke="#444" stroke-width="1.15" />
<rect x="55.50" y="595.00" width="266.10" height="215.40" fill="none" stroke="#707070" stroke-width="1.35"/>
<text x="55.50" y="826.60" font-size="15.0" text-anchor="middle" fill="#000" >-6</text>
<text x="79.69" y="826.60" font-size="15.0" text-anchor="middle" fill="#000" >-5</text>
<text x="103.88" y="826.60" font-size="15.0" text-anchor="middle" fill="#000" >-4</text>
<text x="128.07" y="826.60" font-size="15.0" text-anchor="middle" fill="#000" >-3</text>
<text x="152.26" y="826.60" font-size="15.0" text-anchor="middle" fill="#000" >-2</text>
<text x="176.45" y="826.60" font-size="15.0" text-anchor="middle" fill="#000" >-1</text>
<text x="200.65" y="826.60" font-size="15.0" text-anchor="middle" fill="#000" >0</text>
<text x="224.84" y="826.60" font-size="15.0" text-anchor="middle" fill="#000" >1</text>
<text x="249.03" y="826.60" font-size="15.0" text-anchor="middle" fill="#000" >2</text>
<text x="273.22" y="826.60" font-size="15.0" text-anchor="middle" fill="#000" >3</text>
<text x="297.41" y="826.60" font-size="15.0" text-anchor="middle" fill="#000" >4</text>
<text x="321.60" y="826.60" font-size="15.0" text-anchor="middle" fill="#000" >5</text>
<text x="40.20" y="766.03" font-size="14.0" text-anchor="end" fill="#000" >10</text>
<text x="40.90" y="760.13" font-size="9.2" text-anchor="start" fill="#000" >18</text>
<text x="40.20" y="638.88" font-size="14.0" text-anchor="end" fill="#000" >10</text>
<text x="40.90" y="632.98" font-size="9.2" text-anchor="start" fill="#000" >19</text>
<text x="188.70" y="847.40" font-size="18.4" text-anchor="middle" fill="#000" >Voltage (V)</text>
<text transform="translate(17.90,703.50) rotate(-90)" x="0" y="0" font-size="18.3" text-anchor="middle">Apparent charge profile (cm<tspan font-size="12.4" dy="-7.8">-3</tspan><tspan dy="7.8">)</tspan></text>
<text x="59.90" y="800.40" font-size="20.2" text-anchor="start" fill="#000" >(e)</text>
<line x1="427.37" y1="805.30" x2="427.37" y2="803.10" stroke="#444" stroke-width="1.15" />
<line x1="427.37" y1="594.60" x2="427.37" y2="596.80" stroke="#444" stroke-width="1.15" />
<line x1="439.25" y1="805.30" x2="439.25" y2="801.30" stroke="#444" stroke-width="1.15" />
<line x1="439.25" y1="594.60" x2="439.25" y2="598.60" stroke="#444" stroke-width="1.15" />
<line x1="451.12" y1="805.30" x2="451.12" y2="803.10" stroke="#444" stroke-width="1.15" />
<line x1="451.12" y1="594.60" x2="451.12" y2="596.80" stroke="#444" stroke-width="1.15" />
<line x1="462.99" y1="805.30" x2="462.99" y2="801.30" stroke="#444" stroke-width="1.15" />
<line x1="462.99" y1="594.60" x2="462.99" y2="598.60" stroke="#444" stroke-width="1.15" />
<line x1="474.86" y1="805.30" x2="474.86" y2="803.10" stroke="#444" stroke-width="1.15" />
<line x1="474.86" y1="594.60" x2="474.86" y2="596.80" stroke="#444" stroke-width="1.15" />
<line x1="486.74" y1="805.30" x2="486.74" y2="801.30" stroke="#444" stroke-width="1.15" />
<line x1="486.74" y1="594.60" x2="486.74" y2="598.60" stroke="#444" stroke-width="1.15" />
<line x1="498.61" y1="805.30" x2="498.61" y2="803.10" stroke="#444" stroke-width="1.15" />
<line x1="498.61" y1="594.60" x2="498.61" y2="596.80" stroke="#444" stroke-width="1.15" />
<line x1="510.48" y1="805.30" x2="510.48" y2="801.30" stroke="#444" stroke-width="1.15" />
<line x1="510.48" y1="594.60" x2="510.48" y2="598.60" stroke="#444" stroke-width="1.15" />
<line x1="522.35" y1="805.30" x2="522.35" y2="803.10" stroke="#444" stroke-width="1.15" />
<line x1="522.35" y1="594.60" x2="522.35" y2="596.80" stroke="#444" stroke-width="1.15" />
<line x1="534.23" y1="805.30" x2="534.23" y2="801.30" stroke="#444" stroke-width="1.15" />
<line x1="534.23" y1="594.60" x2="534.23" y2="598.60" stroke="#444" stroke-width="1.15" />
<line x1="546.10" y1="805.30" x2="546.10" y2="803.10" stroke="#444" stroke-width="1.15" />
<line x1="546.10" y1="594.60" x2="546.10" y2="596.80" stroke="#444" stroke-width="1.15" />
<line x1="557.97" y1="805.30" x2="557.97" y2="801.30" stroke="#444" stroke-width="1.15" />
<line x1="557.97" y1="594.60" x2="557.97" y2="598.60" stroke="#444" stroke-width="1.15" />
<line x1="569.85" y1="805.30" x2="569.85" y2="803.10" stroke="#444" stroke-width="1.15" />
<line x1="569.85" y1="594.60" x2="569.85" y2="596.80" stroke="#444" stroke-width="1.15" />
<line x1="581.72" y1="805.30" x2="581.72" y2="801.30" stroke="#444" stroke-width="1.15" />
<line x1="581.72" y1="594.60" x2="581.72" y2="598.60" stroke="#444" stroke-width="1.15" />
<line x1="593.59" y1="805.30" x2="593.59" y2="803.10" stroke="#444" stroke-width="1.15" />
<line x1="593.59" y1="594.60" x2="593.59" y2="596.80" stroke="#444" stroke-width="1.15" />
<line x1="605.46" y1="805.30" x2="605.46" y2="801.30" stroke="#444" stroke-width="1.15" />
<line x1="605.46" y1="594.60" x2="605.46" y2="598.60" stroke="#444" stroke-width="1.15" />
<line x1="617.34" y1="805.30" x2="617.34" y2="803.10" stroke="#444" stroke-width="1.15" />
<line x1="617.34" y1="594.60" x2="617.34" y2="596.80" stroke="#444" stroke-width="1.15" />
<line x1="629.21" y1="805.30" x2="629.21" y2="801.30" stroke="#444" stroke-width="1.15" />
<line x1="629.21" y1="594.60" x2="629.21" y2="598.60" stroke="#444" stroke-width="1.15" />
<line x1="641.08" y1="805.30" x2="641.08" y2="803.10" stroke="#444" stroke-width="1.15" />
<line x1="641.08" y1="594.60" x2="641.08" y2="596.80" stroke="#444" stroke-width="1.15" />
<line x1="652.95" y1="805.30" x2="652.95" y2="801.30" stroke="#444" stroke-width="1.15" />
<line x1="652.95" y1="594.60" x2="652.95" y2="598.60" stroke="#444" stroke-width="1.15" />
<line x1="664.83" y1="805.30" x2="664.83" y2="803.10" stroke="#444" stroke-width="1.15" />
<line x1="664.83" y1="594.60" x2="664.83" y2="596.80" stroke="#444" stroke-width="1.15" />
<line x1="415.50" y1="793.86" x2="417.70" y2="793.86" stroke="#444" stroke-width="1.15" />
<line x1="676.70" y1="793.86" x2="674.50" y2="793.86" stroke="#444" stroke-width="1.15" />
<line x1="415.50" y1="784.01" x2="417.70" y2="784.01" stroke="#444" stroke-width="1.15" />
<line x1="676.70" y1="784.01" x2="674.50" y2="784.01" stroke="#444" stroke-width="1.15" />
<line x1="415.50" y1="775.69" x2="417.70" y2="775.69" stroke="#444" stroke-width="1.15" />
<line x1="676.70" y1="775.69" x2="674.50" y2="775.69" stroke="#444" stroke-width="1.15" />
<line x1="415.50" y1="768.47" x2="417.70" y2="768.47" stroke="#444" stroke-width="1.15" />
<line x1="676.70" y1="768.47" x2="674.50" y2="768.47" stroke="#444" stroke-width="1.15" />
<line x1="415.50" y1="762.11" x2="417.70" y2="762.11" stroke="#444" stroke-width="1.15" />
<line x1="676.70" y1="762.11" x2="674.50" y2="762.11" stroke="#444" stroke-width="1.15" />
<line x1="415.50" y1="756.42" x2="419.50" y2="756.42" stroke="#444" stroke-width="1.15" />
<line x1="676.70" y1="756.42" x2="672.70" y2="756.42" stroke="#444" stroke-width="1.15" />
<line x1="415.50" y1="718.98" x2="417.70" y2="718.98" stroke="#444" stroke-width="1.15" />
<line x1="676.70" y1="718.98" x2="674.50" y2="718.98" stroke="#444" stroke-width="1.15" />
<line x1="415.50" y1="697.08" x2="417.70" y2="697.08" stroke="#444" stroke-width="1.15" />
<line x1="676.70" y1="697.08" x2="674.50" y2="697.08" stroke="#444" stroke-width="1.15" />
<line x1="415.50" y1="681.54" x2="417.70" y2="681.54" stroke="#444" stroke-width="1.15" />
<line x1="676.70" y1="681.54" x2="674.50" y2="681.54" stroke="#444" stroke-width="1.15" />
<line x1="415.50" y1="669.48" x2="417.70" y2="669.48" stroke="#444" stroke-width="1.15" />
<line x1="676.70" y1="669.48" x2="674.50" y2="669.48" stroke="#444" stroke-width="1.15" />
<line x1="415.50" y1="659.63" x2="417.70" y2="659.63" stroke="#444" stroke-width="1.15" />
<line x1="676.70" y1="659.63" x2="674.50" y2="659.63" stroke="#444" stroke-width="1.15" />
<line x1="415.50" y1="651.31" x2="417.70" y2="651.31" stroke="#444" stroke-width="1.15" />
<line x1="676.70" y1="651.31" x2="674.50" y2="651.31" stroke="#444" stroke-width="1.15" />
<line x1="415.50" y1="644.09" x2="417.70" y2="644.09" stroke="#444" stroke-width="1.15" />
<line x1="676.70" y1="644.09" x2="674.50" y2="644.09" stroke="#444" stroke-width="1.15" />
<line x1="415.50" y1="637.73" x2="417.70" y2="637.73" stroke="#444" stroke-width="1.15" />
<line x1="676.70" y1="637.73" x2="674.50" y2="637.73" stroke="#444" stroke-width="1.15" />
<line x1="415.50" y1="632.04" x2="419.50" y2="632.04" stroke="#444" stroke-width="1.15" />
<line x1="676.70" y1="632.04" x2="672.70" y2="632.04" stroke="#444" stroke-width="1.15" />
<rect x="415.50" y="594.60" width="261.20" height="210.70" fill="none" stroke="#707070" stroke-width="1.35"/>
<text x="415.50" y="821.50" font-size="15.0" text-anchor="middle" fill="#000" >-6</text>
<text x="439.25" y="821.50" font-size="15.0" text-anchor="middle" fill="#000" >-5</text>
<text x="462.99" y="821.50" font-size="15.0" text-anchor="middle" fill="#000" >-4</text>
<text x="486.74" y="821.50" font-size="15.0" text-anchor="middle" fill="#000" >-3</text>
<text x="510.48" y="821.50" font-size="15.0" text-anchor="middle" fill="#000" >-2</text>
<text x="534.23" y="821.50" font-size="15.0" text-anchor="middle" fill="#000" >-1</text>
<text x="557.97" y="821.50" font-size="15.0" text-anchor="middle" fill="#000" >0</text>
<text x="581.72" y="821.50" font-size="15.0" text-anchor="middle" fill="#000" >1</text>
<text x="605.46" y="821.50" font-size="15.0" text-anchor="middle" fill="#000" >2</text>
<text x="629.21" y="821.50" font-size="15.0" text-anchor="middle" fill="#000" >3</text>
<text x="652.95" y="821.50" font-size="15.0" text-anchor="middle" fill="#000" >4</text>
<text x="676.70" y="821.50" font-size="15.0" text-anchor="middle" fill="#000" >5</text>
<text x="400.20" y="762.02" font-size="14.0" text-anchor="end" fill="#000" >10</text>
<text x="400.90" y="756.12" font-size="9.2" text-anchor="start" fill="#000" >18</text>
<text x="400.20" y="637.64" font-size="14.0" text-anchor="end" fill="#000" >10</text>
<text x="400.90" y="631.74" font-size="9.2" text-anchor="start" fill="#000" >19</text>
<text x="546.40" y="841.70" font-size="18.2" text-anchor="middle" fill="#000" >Voltage (V)</text>
<text transform="translate(378.80,699.15) rotate(-90)" x="0" y="0" font-size="17.9" text-anchor="middle">Apparent charge profile (cm<tspan font-size="12.2" dy="-7.8">-3</tspan><tspan dy="7.8">)</tspan></text>
<text x="419.90" y="795.30" font-size="20.2" text-anchor="start" fill="#000" >(f)</text>
</svg></body></html>
